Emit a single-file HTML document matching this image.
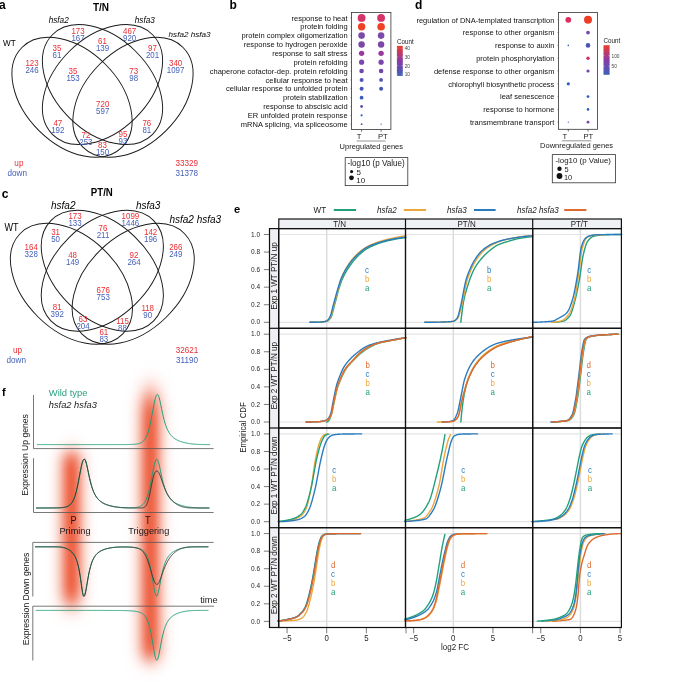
<!DOCTYPE html>
<html><head><meta charset="utf-8"><style>
html,body{margin:0;padding:0;background:#fff;}
svg{display:block;}
text{font-family:"Liberation Sans", Arial, sans-serif;}
</style></head><body>
<svg width="685" height="682" viewBox="0 0 685 682">
<rect width="685" height="682" fill="#fff"/>
<text x="-0.90" y="8.60" font-size="12" font-weight="bold">a</text>
<text font-size="11" transform="translate(101.00 11.00) scale(0.91 1.0)" text-anchor="middle" font-weight="bold">T/N</text>
<ellipse cx="72.02" cy="97.31" rx="70.64" ry="46.92" transform="rotate(44.82 72.02 97.31)" fill="none" stroke="#1a1a1a" stroke-width="0.95"/>
<ellipse cx="102.50" cy="84.51" rx="70.64" ry="46.92" transform="rotate(44.82 102.50 84.51)" fill="none" stroke="#1a1a1a" stroke-width="0.95"/>
<ellipse cx="102.50" cy="84.51" rx="70.64" ry="46.92" transform="rotate(-44.82 102.50 84.51)" fill="none" stroke="#1a1a1a" stroke-width="0.95"/>
<ellipse cx="132.98" cy="97.31" rx="70.64" ry="46.92" transform="rotate(-44.82 132.98 97.31)" fill="none" stroke="#1a1a1a" stroke-width="0.95"/>
<text font-size="9.4" transform="translate(3.00 45.70) scale(0.87 1.0)">WT</text>
<text x="48.70" y="22.80" font-size="8.2" font-style="italic">hsfa2</text>
<text x="134.80" y="22.80" font-size="8.2" font-style="italic">hsfa3</text>
<text x="168.60" y="37.00" font-size="8.1" font-style="italic">hsfa2 hsfa3</text>
<text font-size="9.0" transform="translate(78.00 33.50) scale(0.88 1.0)" text-anchor="middle" fill="#ec2d33">173</text>
<text font-size="9.0" transform="translate(78.00 40.55) scale(0.88 1.0)" text-anchor="middle" fill="#4560b8">167</text>
<text font-size="9.0" transform="translate(102.50 43.80) scale(0.88 1.0)" text-anchor="middle" fill="#ec2d33">61</text>
<text font-size="9.0" transform="translate(102.50 50.85) scale(0.88 1.0)" text-anchor="middle" fill="#4560b8">139</text>
<text font-size="9.0" transform="translate(57.00 51.20) scale(0.88 1.0)" text-anchor="middle" fill="#ec2d33">35</text>
<text font-size="9.0" transform="translate(57.00 58.25) scale(0.88 1.0)" text-anchor="middle" fill="#4560b8">61</text>
<text font-size="9.0" transform="translate(32.00 65.60) scale(0.88 1.0)" text-anchor="middle" fill="#ec2d33">123</text>
<text font-size="9.0" transform="translate(32.00 72.65) scale(0.88 1.0)" text-anchor="middle" fill="#4560b8">246</text>
<text font-size="9.0" transform="translate(73.00 74.00) scale(0.88 1.0)" text-anchor="middle" fill="#ec2d33">35</text>
<text font-size="9.0" transform="translate(73.00 81.05) scale(0.88 1.0)" text-anchor="middle" fill="#4560b8">153</text>
<text font-size="9.0" transform="translate(129.60 33.50) scale(0.88 1.0)" text-anchor="middle" fill="#ec2d33">467</text>
<text font-size="9.0" transform="translate(129.60 40.55) scale(0.88 1.0)" text-anchor="middle" fill="#4560b8">920</text>
<text font-size="9.0" transform="translate(152.50 51.20) scale(0.88 1.0)" text-anchor="middle" fill="#ec2d33">97</text>
<text font-size="9.0" transform="translate(152.50 58.25) scale(0.88 1.0)" text-anchor="middle" fill="#4560b8">201</text>
<text font-size="9.0" transform="translate(175.60 65.60) scale(0.88 1.0)" text-anchor="middle" fill="#ec2d33">340</text>
<text font-size="9.0" transform="translate(175.60 72.65) scale(0.88 1.0)" text-anchor="middle" fill="#4560b8">1097</text>
<text font-size="9.0" transform="translate(133.70 74.00) scale(0.88 1.0)" text-anchor="middle" fill="#ec2d33">73</text>
<text font-size="9.0" transform="translate(133.70 81.05) scale(0.88 1.0)" text-anchor="middle" fill="#4560b8">98</text>
<text font-size="9.0" transform="translate(102.70 106.70) scale(0.88 1.0)" text-anchor="middle" fill="#ec2d33">720</text>
<text font-size="9.0" transform="translate(102.70 113.75) scale(0.88 1.0)" text-anchor="middle" fill="#4560b8">597</text>
<text font-size="9.0" transform="translate(57.80 126.10) scale(0.88 1.0)" text-anchor="middle" fill="#ec2d33">47</text>
<text font-size="9.0" transform="translate(57.80 133.15) scale(0.88 1.0)" text-anchor="middle" fill="#4560b8">192</text>
<text font-size="9.0" transform="translate(85.90 137.60) scale(0.88 1.0)" text-anchor="middle" fill="#ec2d33">72</text>
<text font-size="9.0" transform="translate(85.90 144.65) scale(0.88 1.0)" text-anchor="middle" fill="#4560b8">253</text>
<text font-size="9.0" transform="translate(102.50 148.10) scale(0.88 1.0)" text-anchor="middle" fill="#ec2d33">83</text>
<text font-size="9.0" transform="translate(102.50 155.15) scale(0.88 1.0)" text-anchor="middle" fill="#4560b8">150</text>
<text font-size="9.0" transform="translate(146.80 126.10) scale(0.88 1.0)" text-anchor="middle" fill="#ec2d33">76</text>
<text font-size="9.0" transform="translate(146.80 133.15) scale(0.88 1.0)" text-anchor="middle" fill="#4560b8">81</text>
<text font-size="9.0" transform="translate(122.90 137.40) scale(0.88 1.0)" text-anchor="middle" fill="#ec2d33">95</text>
<text font-size="9.0" transform="translate(122.90 144.45) scale(0.88 1.0)" text-anchor="middle" fill="#4560b8">93</text>
<text font-size="8.6" transform="translate(18.90 166.30) scale(0.95 1.0)" text-anchor="middle" fill="#ec2d33">up</text>
<text font-size="8.6" transform="translate(17.30 175.60) scale(0.95 1.0)" text-anchor="middle" fill="#4560b8">down</text>
<text font-size="9.2" transform="translate(186.80 166.30) scale(0.88 1.0)" text-anchor="middle" fill="#ec2d33">33329</text>
<text font-size="9.2" transform="translate(186.80 175.70) scale(0.88 1.0)" text-anchor="middle" fill="#4560b8">31378</text>
<text x="1.80" y="197.60" font-size="12" font-weight="bold">c</text>
<text font-size="11" transform="translate(101.80 196.20) scale(0.88 1.0)" text-anchor="middle" font-weight="bold">PT/N</text>
<ellipse cx="71.43" cy="283.78" rx="71.75" ry="47.02" transform="rotate(44.23 71.43 283.78)" fill="none" stroke="#1a1a1a" stroke-width="0.95"/>
<ellipse cx="102.30" cy="270.75" rx="71.75" ry="47.02" transform="rotate(44.23 102.30 270.75)" fill="none" stroke="#1a1a1a" stroke-width="0.95"/>
<ellipse cx="102.30" cy="270.75" rx="71.75" ry="47.02" transform="rotate(-44.23 102.30 270.75)" fill="none" stroke="#1a1a1a" stroke-width="0.95"/>
<ellipse cx="133.17" cy="283.78" rx="71.75" ry="47.02" transform="rotate(-44.23 133.17 283.78)" fill="none" stroke="#1a1a1a" stroke-width="0.95"/>
<text font-size="10.2" transform="translate(4.40 230.80) scale(0.89 1.0)">WT</text>
<text x="51.00" y="208.60" font-size="10.0" font-style="italic">hsfa2</text>
<text x="135.90" y="208.60" font-size="10.0" font-style="italic">hsfa3</text>
<text x="169.40" y="222.60" font-size="10.0" font-style="italic">hsfa2 hsfa3</text>
<text font-size="9.0" transform="translate(75.00 219.40) scale(0.88 1.0)" text-anchor="middle" fill="#ec2d33">173</text>
<text font-size="9.0" transform="translate(75.00 226.45) scale(0.88 1.0)" text-anchor="middle" fill="#4560b8">133</text>
<text font-size="9.0" transform="translate(103.00 230.70) scale(0.88 1.0)" text-anchor="middle" fill="#ec2d33">76</text>
<text font-size="9.0" transform="translate(103.00 237.75) scale(0.88 1.0)" text-anchor="middle" fill="#4560b8">211</text>
<text font-size="9.0" transform="translate(55.60 234.50) scale(0.88 1.0)" text-anchor="middle" fill="#ec2d33">31</text>
<text font-size="9.0" transform="translate(55.60 241.55) scale(0.88 1.0)" text-anchor="middle" fill="#4560b8">50</text>
<text font-size="9.0" transform="translate(31.20 249.70) scale(0.88 1.0)" text-anchor="middle" fill="#ec2d33">164</text>
<text font-size="9.0" transform="translate(31.20 256.75) scale(0.88 1.0)" text-anchor="middle" fill="#4560b8">328</text>
<text font-size="9.0" transform="translate(72.60 258.20) scale(0.88 1.0)" text-anchor="middle" fill="#ec2d33">48</text>
<text font-size="9.0" transform="translate(72.60 265.25) scale(0.88 1.0)" text-anchor="middle" fill="#4560b8">149</text>
<text font-size="9.0" transform="translate(130.40 219.40) scale(0.88 1.0)" text-anchor="middle" fill="#ec2d33">1099</text>
<text font-size="9.0" transform="translate(130.40 226.45) scale(0.88 1.0)" text-anchor="middle" fill="#4560b8">1446</text>
<text font-size="9.0" transform="translate(150.60 234.50) scale(0.88 1.0)" text-anchor="middle" fill="#ec2d33">142</text>
<text font-size="9.0" transform="translate(150.60 241.55) scale(0.88 1.0)" text-anchor="middle" fill="#4560b8">196</text>
<text font-size="9.0" transform="translate(175.80 249.70) scale(0.88 1.0)" text-anchor="middle" fill="#ec2d33">266</text>
<text font-size="9.0" transform="translate(175.80 256.75) scale(0.88 1.0)" text-anchor="middle" fill="#4560b8">249</text>
<text font-size="9.0" transform="translate(134.00 258.20) scale(0.88 1.0)" text-anchor="middle" fill="#ec2d33">92</text>
<text font-size="9.0" transform="translate(134.00 265.25) scale(0.88 1.0)" text-anchor="middle" fill="#4560b8">264</text>
<text font-size="9.0" transform="translate(103.20 292.70) scale(0.88 1.0)" text-anchor="middle" fill="#ec2d33">676</text>
<text font-size="9.0" transform="translate(103.20 299.75) scale(0.88 1.0)" text-anchor="middle" fill="#4560b8">753</text>
<text font-size="9.0" transform="translate(57.20 310.20) scale(0.88 1.0)" text-anchor="middle" fill="#ec2d33">81</text>
<text font-size="9.0" transform="translate(57.20 317.25) scale(0.88 1.0)" text-anchor="middle" fill="#4560b8">392</text>
<text font-size="9.0" transform="translate(83.00 322.00) scale(0.88 1.0)" text-anchor="middle" fill="#ec2d33">63</text>
<text font-size="9.0" transform="translate(83.00 329.05) scale(0.88 1.0)" text-anchor="middle" fill="#4560b8">204</text>
<text font-size="9.0" transform="translate(103.80 334.60) scale(0.88 1.0)" text-anchor="middle" fill="#ec2d33">61</text>
<text font-size="9.0" transform="translate(103.80 341.65) scale(0.88 1.0)" text-anchor="middle" fill="#4560b8">83</text>
<text font-size="9.0" transform="translate(147.70 310.80) scale(0.88 1.0)" text-anchor="middle" fill="#ec2d33">118</text>
<text font-size="9.0" transform="translate(147.70 317.85) scale(0.88 1.0)" text-anchor="middle" fill="#4560b8">90</text>
<text font-size="9.0" transform="translate(122.50 324.20) scale(0.88 1.0)" text-anchor="middle" fill="#ec2d33">115</text>
<text font-size="9.0" transform="translate(122.50 331.25) scale(0.88 1.0)" text-anchor="middle" fill="#4560b8">88</text>
<text font-size="8.6" transform="translate(17.60 353.00) scale(0.95 1.0)" text-anchor="middle" fill="#ec2d33">up</text>
<text font-size="8.6" transform="translate(16.30 362.80) scale(0.95 1.0)" text-anchor="middle" fill="#4560b8">down</text>
<text font-size="9.2" transform="translate(187.00 352.60) scale(0.88 1.0)" text-anchor="middle" fill="#ec2d33">32621</text>
<text font-size="9.2" transform="translate(187.00 362.50) scale(0.88 1.0)" text-anchor="middle" fill="#4560b8">31190</text>
<text x="229.60" y="8.60" font-size="12" font-weight="bold">b</text>
<text font-size="7.9" transform="translate(347.60 20.60) scale(0.955 1.0)" text-anchor="end" fill="#111">response to heat</text>
<line x1="350.50" y1="17.90" x2="351.40" y2="17.90" stroke="#555" stroke-width="0.6"/>
<text font-size="7.9" transform="translate(347.60 29.46) scale(0.955 1.0)" text-anchor="end" fill="#111">protein folding</text>
<line x1="350.50" y1="26.76" x2="351.40" y2="26.76" stroke="#555" stroke-width="0.6"/>
<text font-size="7.9" transform="translate(347.60 38.32) scale(0.955 1.0)" text-anchor="end" fill="#111">protein complex oligomerization</text>
<line x1="350.50" y1="35.62" x2="351.40" y2="35.62" stroke="#555" stroke-width="0.6"/>
<text font-size="7.9" transform="translate(347.60 47.18) scale(0.955 1.0)" text-anchor="end" fill="#111">response to hydrogen peroxide</text>
<line x1="350.50" y1="44.48" x2="351.40" y2="44.48" stroke="#555" stroke-width="0.6"/>
<text font-size="7.9" transform="translate(347.60 56.04) scale(0.955 1.0)" text-anchor="end" fill="#111">response to salt stress</text>
<line x1="350.50" y1="53.34" x2="351.40" y2="53.34" stroke="#555" stroke-width="0.6"/>
<text font-size="7.9" transform="translate(347.60 64.90) scale(0.955 1.0)" text-anchor="end" fill="#111">protein refolding</text>
<line x1="350.50" y1="62.20" x2="351.40" y2="62.20" stroke="#555" stroke-width="0.6"/>
<text font-size="7.9" transform="translate(347.60 73.76) scale(0.955 1.0)" text-anchor="end" fill="#111">chaperone cofactor-dep. protein refolding</text>
<line x1="350.50" y1="71.06" x2="351.40" y2="71.06" stroke="#555" stroke-width="0.6"/>
<text font-size="7.9" transform="translate(347.60 82.62) scale(0.955 1.0)" text-anchor="end" fill="#111">cellular response to heat</text>
<line x1="350.50" y1="79.92" x2="351.40" y2="79.92" stroke="#555" stroke-width="0.6"/>
<text font-size="7.9" transform="translate(347.60 91.48) scale(0.955 1.0)" text-anchor="end" fill="#111">cellular response to unfolded protein</text>
<line x1="350.50" y1="88.78" x2="351.40" y2="88.78" stroke="#555" stroke-width="0.6"/>
<text font-size="7.9" transform="translate(347.60 100.34) scale(0.955 1.0)" text-anchor="end" fill="#111">protein stabilization</text>
<line x1="350.50" y1="97.64" x2="351.40" y2="97.64" stroke="#555" stroke-width="0.6"/>
<text font-size="7.9" transform="translate(347.60 109.20) scale(0.955 1.0)" text-anchor="end" fill="#111">response to abscisic acid</text>
<line x1="350.50" y1="106.50" x2="351.40" y2="106.50" stroke="#555" stroke-width="0.6"/>
<text font-size="7.9" transform="translate(347.60 118.06) scale(0.955 1.0)" text-anchor="end" fill="#111">ER unfolded protein response</text>
<line x1="350.50" y1="115.36" x2="351.40" y2="115.36" stroke="#555" stroke-width="0.6"/>
<text font-size="7.9" transform="translate(347.60 126.92) scale(0.955 1.0)" text-anchor="end" fill="#111">mRNA splicing, via spliceosome</text>
<line x1="350.50" y1="124.22" x2="351.40" y2="124.22" stroke="#555" stroke-width="0.6"/>
<rect x="351.4" y="12.5" width="39.5" height="117" fill="none" stroke="#333" stroke-width="0.8"/>
<circle cx="361.60" cy="17.90" r="3.90" fill="#d6336a"/>
<circle cx="381.10" cy="17.90" r="3.90" fill="#d6336a"/>
<circle cx="361.60" cy="26.76" r="3.70" fill="#ef4123"/>
<circle cx="381.10" cy="26.76" r="3.80" fill="#ef4123"/>
<circle cx="361.60" cy="35.62" r="3.30" fill="#7a4bab"/>
<circle cx="381.10" cy="35.62" r="3.30" fill="#7a4bab"/>
<circle cx="361.60" cy="44.48" r="3.20" fill="#7c48a8"/>
<circle cx="381.10" cy="44.48" r="3.20" fill="#7c48a8"/>
<circle cx="361.60" cy="53.34" r="2.70" fill="#9a3aa0"/>
<circle cx="381.10" cy="53.34" r="2.70" fill="#9a3aa0"/>
<circle cx="361.60" cy="62.20" r="2.60" fill="#7b47aa"/>
<circle cx="381.10" cy="62.20" r="2.60" fill="#7b47aa"/>
<circle cx="361.60" cy="71.06" r="2.30" fill="#6e48ae"/>
<circle cx="381.10" cy="71.06" r="2.30" fill="#6e48ae"/>
<circle cx="361.60" cy="79.92" r="2.00" fill="#4e56b6"/>
<circle cx="381.10" cy="79.92" r="1.90" fill="#4e56b6"/>
<circle cx="361.60" cy="88.78" r="2.00" fill="#4656b6"/>
<circle cx="381.10" cy="88.78" r="2.00" fill="#4656b6"/>
<circle cx="361.60" cy="97.64" r="1.90" fill="#3e5cb8"/>
<circle cx="361.60" cy="106.50" r="1.40" fill="#5a4cac"/>
<circle cx="361.60" cy="115.36" r="1.10" fill="#3060c0"/>
<circle cx="361.60" cy="124.22" r="0.90" fill="#6040b0"/>
<circle cx="381.10" cy="124.22" r="0.60" fill="#6040b0"/>
<line x1="361.60" y1="129.60" x2="361.60" y2="131.80" stroke="#333" stroke-width="0.7"/>
<line x1="381.10" y1="129.60" x2="381.10" y2="131.80" stroke="#333" stroke-width="0.7"/>
<text x="359.00" y="139.30" font-size="7.6" text-anchor="middle" fill="#1a1a1a">T</text>
<text x="382.90" y="139.30" font-size="7.6" text-anchor="middle" fill="#1a1a1a">PT</text>
<line x1="356.60" y1="141.00" x2="385.60" y2="141.00" stroke="#888" stroke-width="0.9"/>
<text x="371.30" y="148.80" font-size="7.5" text-anchor="middle" fill="#1a1a1a">Upregulated genes</text>
<defs><linearGradient id="cb1" x1="0" y1="1" x2="0" y2="0"><stop offset="0" stop-color="#3a62b8"/><stop offset="0.5" stop-color="#8a3aa8"/><stop offset="1" stop-color="#f03a28"/></linearGradient></defs>
<rect x="396.9" y="45.9" width="5.90" height="30.00" fill="url(#cb1)"/>
<line x1="396.90" y1="48.20" x2="398.10" y2="48.20" stroke="#fff" stroke-width="0.4"/>
<line x1="401.60" y1="48.20" x2="402.80" y2="48.20" stroke="#fff" stroke-width="0.4"/>
<text font-size="5.6" transform="translate(404.70 50.20) scale(0.85 1.0)" fill="#444">40</text>
<line x1="396.90" y1="57.00" x2="398.10" y2="57.00" stroke="#fff" stroke-width="0.4"/>
<line x1="401.60" y1="57.00" x2="402.80" y2="57.00" stroke="#fff" stroke-width="0.4"/>
<text font-size="5.6" transform="translate(404.70 59.00) scale(0.85 1.0)" fill="#444">30</text>
<line x1="396.90" y1="65.60" x2="398.10" y2="65.60" stroke="#fff" stroke-width="0.4"/>
<line x1="401.60" y1="65.60" x2="402.80" y2="65.60" stroke="#fff" stroke-width="0.4"/>
<text font-size="5.6" transform="translate(404.70 67.60) scale(0.85 1.0)" fill="#444">20</text>
<line x1="396.90" y1="74.10" x2="398.10" y2="74.10" stroke="#fff" stroke-width="0.4"/>
<line x1="401.60" y1="74.10" x2="402.80" y2="74.10" stroke="#fff" stroke-width="0.4"/>
<text font-size="5.6" transform="translate(404.70 76.10) scale(0.85 1.0)" fill="#444">10</text>
<text font-size="6.6" transform="translate(397.00 44.20) scale(0.95 1.0)" fill="#1a1a1a">Count</text>
<rect x="345.2" y="157.6" width="62.6" height="28" fill="none" stroke="#333" stroke-width="0.8"/>
<text font-size="8.3" transform="translate(347.60 166.00) scale(0.98 1.0)" fill="#1a1a1a">-log10 (p Value)</text>
<circle cx="351.60" cy="171.60" r="1.60" fill="#111"/>
<circle cx="351.50" cy="177.80" r="2.40" fill="#111"/>
<text x="356.60" y="174.80" font-size="8.0" fill="#1a1a1a">5</text>
<text x="356.20" y="182.60" font-size="8.0" fill="#1a1a1a">10</text>
<text x="414.90" y="8.60" font-size="12" font-weight="bold">d</text>
<text font-size="8.1" transform="translate(554.40 22.60) scale(0.93 1.0)" text-anchor="end" fill="#111">regulation of DNA-templated transcription</text>
<line x1="557.50" y1="19.80" x2="558.40" y2="19.80" stroke="#555" stroke-width="0.6"/>
<text font-size="8.1" transform="translate(554.40 35.40) scale(0.93 1.0)" text-anchor="end" fill="#111">response to other organism</text>
<line x1="557.50" y1="32.60" x2="558.40" y2="32.60" stroke="#555" stroke-width="0.6"/>
<text font-size="8.1" transform="translate(554.40 48.20) scale(0.93 1.0)" text-anchor="end" fill="#111">response to auxin</text>
<line x1="557.50" y1="45.40" x2="558.40" y2="45.40" stroke="#555" stroke-width="0.6"/>
<text font-size="8.1" transform="translate(554.40 61.00) scale(0.93 1.0)" text-anchor="end" fill="#111">protein phosphorylation</text>
<line x1="557.50" y1="58.20" x2="558.40" y2="58.20" stroke="#555" stroke-width="0.6"/>
<text font-size="8.1" transform="translate(554.40 73.80) scale(0.93 1.0)" text-anchor="end" fill="#111">defense response to other organism</text>
<line x1="557.50" y1="71.00" x2="558.40" y2="71.00" stroke="#555" stroke-width="0.6"/>
<text font-size="8.1" transform="translate(554.40 86.60) scale(0.93 1.0)" text-anchor="end" fill="#111">chlorophyll biosynthetic process</text>
<line x1="557.50" y1="83.80" x2="558.40" y2="83.80" stroke="#555" stroke-width="0.6"/>
<text font-size="8.1" transform="translate(554.40 99.40) scale(0.93 1.0)" text-anchor="end" fill="#111">leaf senescence</text>
<line x1="557.50" y1="96.60" x2="558.40" y2="96.60" stroke="#555" stroke-width="0.6"/>
<text font-size="8.1" transform="translate(554.40 112.20) scale(0.93 1.0)" text-anchor="end" fill="#111">response to hormone</text>
<line x1="557.50" y1="109.40" x2="558.40" y2="109.40" stroke="#555" stroke-width="0.6"/>
<text font-size="8.1" transform="translate(554.40 125.00) scale(0.93 1.0)" text-anchor="end" fill="#111">transmembrane transport</text>
<line x1="557.50" y1="122.20" x2="558.40" y2="122.20" stroke="#555" stroke-width="0.6"/>
<rect x="558.4" y="12.5" width="39.1" height="116.8" fill="none" stroke="#333" stroke-width="0.8"/>
<circle cx="568.30" cy="19.80" r="2.90" fill="#d93060"/>
<circle cx="588.00" cy="19.80" r="4.00" fill="#ee3d25"/>
<circle cx="588.00" cy="32.60" r="1.90" fill="#7b48ad"/>
<circle cx="568.30" cy="45.40" r="0.80" fill="#3a5cc0"/>
<circle cx="588.00" cy="45.40" r="2.30" fill="#4a55b5"/>
<circle cx="588.00" cy="58.20" r="1.70" fill="#d03060"/>
<circle cx="588.00" cy="71.00" r="1.60" fill="#7346ad"/>
<circle cx="568.30" cy="83.80" r="1.60" fill="#2f5fbf"/>
<circle cx="588.00" cy="96.60" r="1.40" fill="#2f60c0"/>
<circle cx="588.00" cy="109.40" r="1.30" fill="#2f60c0"/>
<circle cx="568.30" cy="122.20" r="0.60" fill="#7a4ab0"/>
<circle cx="588.00" cy="122.20" r="1.40" fill="#7346ad"/>
<line x1="568.30" y1="129.30" x2="568.30" y2="131.50" stroke="#333" stroke-width="0.7"/>
<line x1="588.00" y1="129.30" x2="588.00" y2="131.50" stroke="#333" stroke-width="0.7"/>
<text x="564.90" y="138.50" font-size="7.6" text-anchor="middle" fill="#1a1a1a">T</text>
<text x="588.40" y="138.50" font-size="7.6" text-anchor="middle" fill="#1a1a1a">PT</text>
<line x1="562.00" y1="140.80" x2="591.30" y2="140.80" stroke="#888" stroke-width="0.9"/>
<text x="576.60" y="148.40" font-size="7.5" text-anchor="middle" fill="#1a1a1a">Downregulated genes</text>
<defs><linearGradient id="cb2" x1="0" y1="1" x2="0" y2="0"><stop offset="0" stop-color="#3a62b8"/><stop offset="0.5" stop-color="#8a3aa8"/><stop offset="1" stop-color="#f03a28"/></linearGradient></defs>
<rect x="603.5" y="45.2" width="6.10" height="29.60" fill="url(#cb2)"/>
<line x1="603.50" y1="55.70" x2="604.70" y2="55.70" stroke="#fff" stroke-width="0.4"/>
<line x1="608.40" y1="55.70" x2="609.60" y2="55.70" stroke="#fff" stroke-width="0.4"/>
<text font-size="5.6" transform="translate(611.50 57.70) scale(0.85 1.0)" fill="#444">100</text>
<line x1="603.50" y1="66.30" x2="604.70" y2="66.30" stroke="#fff" stroke-width="0.4"/>
<line x1="608.40" y1="66.30" x2="609.60" y2="66.30" stroke="#fff" stroke-width="0.4"/>
<text font-size="5.6" transform="translate(611.50 68.30) scale(0.85 1.0)" fill="#444">50</text>
<text font-size="6.6" transform="translate(603.50 42.80) scale(0.95 1.0)" fill="#1a1a1a">Count</text>
<rect x="552.3" y="154.6" width="63.2" height="28.2" fill="none" stroke="#333" stroke-width="0.8"/>
<text x="555.40" y="163.00" font-size="7.9" fill="#1a1a1a">-log10 (p Value)</text>
<circle cx="559.50" cy="168.70" r="2.20" fill="#111"/>
<circle cx="559.50" cy="176.00" r="2.90" fill="#111"/>
<text x="564.60" y="172.20" font-size="7.4" fill="#1a1a1a">5</text>
<text x="564.00" y="179.60" font-size="7.4" fill="#1a1a1a">10</text>
<text x="234.00" y="213.30" font-size="11.2" font-weight="bold">e</text>
<text font-size="8.9" transform="translate(313.60 213.20) scale(0.91 1.0)" fill="#1a1a1a">WT</text>
<line x1="333.80" y1="210.00" x2="356.10" y2="210.00" stroke="#22a07a" stroke-width="2.0"/>
<text font-size="8.9" transform="translate(377.00 213.20) scale(0.91 1.0)" fill="#1a1a1a" font-style="italic">hsfa2</text>
<line x1="403.80" y1="210.00" x2="426.10" y2="210.00" stroke="#eda63a" stroke-width="2.0"/>
<text font-size="8.9" transform="translate(447.00 213.20) scale(0.91 1.0)" fill="#1a1a1a" font-style="italic">hsfa3</text>
<line x1="474.00" y1="210.00" x2="495.60" y2="210.00" stroke="#2a7cc0" stroke-width="2.0"/>
<text font-size="8.9" transform="translate(517.00 213.20) scale(0.91 1.0)" fill="#1a1a1a" font-style="italic">hsfa2 hsfa3</text>
<line x1="564.20" y1="210.00" x2="586.40" y2="210.00" stroke="#dd6a30" stroke-width="2.0"/>
<rect x="278.8" y="219.0" width="342.6" height="9.6" fill="#eff0f3"/>
<rect x="269.5" y="228.6" width="9.3" height="398.9" fill="#eff0f3"/>
<text font-size="9.0" transform="translate(339.60 226.70) scale(0.89 1.0)" text-anchor="middle" fill="#1a1a1a">T/N</text>
<text font-size="9.0" transform="translate(466.60 226.70) scale(0.89 1.0)" text-anchor="middle" fill="#1a1a1a">PT/N</text>
<text font-size="9.0" transform="translate(579.30 226.70) scale(0.89 1.0)" text-anchor="middle" fill="#1a1a1a">PT/T</text>
<text font-size="8.9" transform="translate(277.00 276.05) rotate(-90) scale(0.915 1.0)" text-anchor="middle" fill="#1a1a1a">Exp 1 WT PT/N up</text>
<text font-size="8.9" transform="translate(277.00 375.75) rotate(-90) scale(0.915 1.0)" text-anchor="middle" fill="#1a1a1a">Exp 2 WT PT/N up</text>
<text font-size="8.9" transform="translate(277.00 475.45) rotate(-90) scale(0.915 1.0)" text-anchor="middle" fill="#1a1a1a">Exp 1 WT PT/N down</text>
<text font-size="8.9" transform="translate(277.00 575.20) rotate(-90) scale(0.915 1.0)" text-anchor="middle" fill="#1a1a1a">Exp 2 WT PT/N down</text>
<line x1="278.60" y1="322.30" x2="405.50" y2="322.30" stroke="#e4e4e4" stroke-width="1.2"/>
<line x1="278.60" y1="234.50" x2="405.50" y2="234.50" stroke="#e4e4e4" stroke-width="1.2"/>
<line x1="326.70" y1="228.60" x2="326.70" y2="328.30" stroke="#dcdcdc" stroke-width="1.5"/>
<line x1="405.50" y1="322.30" x2="532.70" y2="322.30" stroke="#e4e4e4" stroke-width="1.2"/>
<line x1="405.50" y1="234.50" x2="532.70" y2="234.50" stroke="#e4e4e4" stroke-width="1.2"/>
<line x1="453.30" y1="228.60" x2="453.30" y2="328.30" stroke="#dcdcdc" stroke-width="1.5"/>
<line x1="532.70" y1="322.30" x2="621.40" y2="322.30" stroke="#e4e4e4" stroke-width="1.2"/>
<line x1="532.70" y1="234.50" x2="621.40" y2="234.50" stroke="#e4e4e4" stroke-width="1.2"/>
<line x1="580.40" y1="228.60" x2="580.40" y2="328.30" stroke="#dcdcdc" stroke-width="1.5"/>
<line x1="278.60" y1="422.00" x2="405.50" y2="422.00" stroke="#e4e4e4" stroke-width="1.2"/>
<line x1="278.60" y1="334.20" x2="405.50" y2="334.20" stroke="#e4e4e4" stroke-width="1.2"/>
<line x1="326.70" y1="328.30" x2="326.70" y2="428.00" stroke="#dcdcdc" stroke-width="1.5"/>
<line x1="405.50" y1="422.00" x2="532.70" y2="422.00" stroke="#e4e4e4" stroke-width="1.2"/>
<line x1="405.50" y1="334.20" x2="532.70" y2="334.20" stroke="#e4e4e4" stroke-width="1.2"/>
<line x1="453.30" y1="328.30" x2="453.30" y2="428.00" stroke="#dcdcdc" stroke-width="1.5"/>
<line x1="532.70" y1="422.00" x2="621.40" y2="422.00" stroke="#e4e4e4" stroke-width="1.2"/>
<line x1="532.70" y1="334.20" x2="621.40" y2="334.20" stroke="#e4e4e4" stroke-width="1.2"/>
<line x1="580.40" y1="328.30" x2="580.40" y2="428.00" stroke="#dcdcdc" stroke-width="1.5"/>
<line x1="278.60" y1="521.70" x2="405.50" y2="521.70" stroke="#e4e4e4" stroke-width="1.2"/>
<line x1="278.60" y1="433.90" x2="405.50" y2="433.90" stroke="#e4e4e4" stroke-width="1.2"/>
<line x1="326.70" y1="428.00" x2="326.70" y2="527.70" stroke="#dcdcdc" stroke-width="1.5"/>
<line x1="405.50" y1="521.70" x2="532.70" y2="521.70" stroke="#e4e4e4" stroke-width="1.2"/>
<line x1="405.50" y1="433.90" x2="532.70" y2="433.90" stroke="#e4e4e4" stroke-width="1.2"/>
<line x1="453.30" y1="428.00" x2="453.30" y2="527.70" stroke="#dcdcdc" stroke-width="1.5"/>
<line x1="532.70" y1="521.70" x2="621.40" y2="521.70" stroke="#e4e4e4" stroke-width="1.2"/>
<line x1="532.70" y1="433.90" x2="621.40" y2="433.90" stroke="#e4e4e4" stroke-width="1.2"/>
<line x1="580.40" y1="428.00" x2="580.40" y2="527.70" stroke="#dcdcdc" stroke-width="1.5"/>
<line x1="278.60" y1="621.40" x2="405.50" y2="621.40" stroke="#e4e4e4" stroke-width="1.2"/>
<line x1="278.60" y1="533.60" x2="405.50" y2="533.60" stroke="#e4e4e4" stroke-width="1.2"/>
<line x1="326.70" y1="527.70" x2="326.70" y2="627.50" stroke="#dcdcdc" stroke-width="1.5"/>
<line x1="405.50" y1="621.40" x2="532.70" y2="621.40" stroke="#e4e4e4" stroke-width="1.2"/>
<line x1="405.50" y1="533.60" x2="532.70" y2="533.60" stroke="#e4e4e4" stroke-width="1.2"/>
<line x1="453.30" y1="527.70" x2="453.30" y2="627.50" stroke="#dcdcdc" stroke-width="1.5"/>
<line x1="532.70" y1="621.40" x2="621.40" y2="621.40" stroke="#e4e4e4" stroke-width="1.2"/>
<line x1="532.70" y1="533.60" x2="621.40" y2="533.60" stroke="#e4e4e4" stroke-width="1.2"/>
<line x1="580.40" y1="527.70" x2="580.40" y2="627.50" stroke="#dcdcdc" stroke-width="1.5"/>
<line x1="263.90" y1="322.30" x2="269.50" y2="322.30" stroke="#444" stroke-width="0.7"/>
<text font-size="7.6" transform="translate(260.20 324.40) scale(0.86 1.0)" text-anchor="end" fill="#262626">0.0</text>
<line x1="263.90" y1="304.74" x2="269.50" y2="304.74" stroke="#444" stroke-width="0.7"/>
<text font-size="7.6" transform="translate(260.20 306.84) scale(0.86 1.0)" text-anchor="end" fill="#262626">0.2</text>
<line x1="263.90" y1="287.18" x2="269.50" y2="287.18" stroke="#444" stroke-width="0.7"/>
<text font-size="7.6" transform="translate(260.20 289.28) scale(0.86 1.0)" text-anchor="end" fill="#262626">0.4</text>
<line x1="263.90" y1="269.62" x2="269.50" y2="269.62" stroke="#444" stroke-width="0.7"/>
<text font-size="7.6" transform="translate(260.20 271.72) scale(0.86 1.0)" text-anchor="end" fill="#262626">0.6</text>
<line x1="263.90" y1="252.06" x2="269.50" y2="252.06" stroke="#444" stroke-width="0.7"/>
<text font-size="7.6" transform="translate(260.20 254.16) scale(0.86 1.0)" text-anchor="end" fill="#262626">0.8</text>
<line x1="263.90" y1="234.50" x2="269.50" y2="234.50" stroke="#444" stroke-width="0.7"/>
<text font-size="7.6" transform="translate(260.20 236.60) scale(0.86 1.0)" text-anchor="end" fill="#262626">1.0</text>
<line x1="263.90" y1="422.00" x2="269.50" y2="422.00" stroke="#444" stroke-width="0.7"/>
<text font-size="7.6" transform="translate(260.20 424.10) scale(0.86 1.0)" text-anchor="end" fill="#262626">0.0</text>
<line x1="263.90" y1="404.44" x2="269.50" y2="404.44" stroke="#444" stroke-width="0.7"/>
<text font-size="7.6" transform="translate(260.20 406.54) scale(0.86 1.0)" text-anchor="end" fill="#262626">0.2</text>
<line x1="263.90" y1="386.88" x2="269.50" y2="386.88" stroke="#444" stroke-width="0.7"/>
<text font-size="7.6" transform="translate(260.20 388.98) scale(0.86 1.0)" text-anchor="end" fill="#262626">0.4</text>
<line x1="263.90" y1="369.32" x2="269.50" y2="369.32" stroke="#444" stroke-width="0.7"/>
<text font-size="7.6" transform="translate(260.20 371.42) scale(0.86 1.0)" text-anchor="end" fill="#262626">0.6</text>
<line x1="263.90" y1="351.76" x2="269.50" y2="351.76" stroke="#444" stroke-width="0.7"/>
<text font-size="7.6" transform="translate(260.20 353.86) scale(0.86 1.0)" text-anchor="end" fill="#262626">0.8</text>
<line x1="263.90" y1="334.20" x2="269.50" y2="334.20" stroke="#444" stroke-width="0.7"/>
<text font-size="7.6" transform="translate(260.20 336.30) scale(0.86 1.0)" text-anchor="end" fill="#262626">1.0</text>
<line x1="263.90" y1="521.70" x2="269.50" y2="521.70" stroke="#444" stroke-width="0.7"/>
<text font-size="7.6" transform="translate(260.20 523.80) scale(0.86 1.0)" text-anchor="end" fill="#262626">0.0</text>
<line x1="263.90" y1="504.14" x2="269.50" y2="504.14" stroke="#444" stroke-width="0.7"/>
<text font-size="7.6" transform="translate(260.20 506.24) scale(0.86 1.0)" text-anchor="end" fill="#262626">0.2</text>
<line x1="263.90" y1="486.58" x2="269.50" y2="486.58" stroke="#444" stroke-width="0.7"/>
<text font-size="7.6" transform="translate(260.20 488.68) scale(0.86 1.0)" text-anchor="end" fill="#262626">0.4</text>
<line x1="263.90" y1="469.02" x2="269.50" y2="469.02" stroke="#444" stroke-width="0.7"/>
<text font-size="7.6" transform="translate(260.20 471.12) scale(0.86 1.0)" text-anchor="end" fill="#262626">0.6</text>
<line x1="263.90" y1="451.46" x2="269.50" y2="451.46" stroke="#444" stroke-width="0.7"/>
<text font-size="7.6" transform="translate(260.20 453.56) scale(0.86 1.0)" text-anchor="end" fill="#262626">0.8</text>
<line x1="263.90" y1="433.90" x2="269.50" y2="433.90" stroke="#444" stroke-width="0.7"/>
<text font-size="7.6" transform="translate(260.20 436.00) scale(0.86 1.0)" text-anchor="end" fill="#262626">1.0</text>
<line x1="263.90" y1="621.40" x2="269.50" y2="621.40" stroke="#444" stroke-width="0.7"/>
<text font-size="7.6" transform="translate(260.20 623.50) scale(0.86 1.0)" text-anchor="end" fill="#262626">0.0</text>
<line x1="263.90" y1="603.84" x2="269.50" y2="603.84" stroke="#444" stroke-width="0.7"/>
<text font-size="7.6" transform="translate(260.20 605.94) scale(0.86 1.0)" text-anchor="end" fill="#262626">0.2</text>
<line x1="263.90" y1="586.28" x2="269.50" y2="586.28" stroke="#444" stroke-width="0.7"/>
<text font-size="7.6" transform="translate(260.20 588.38) scale(0.86 1.0)" text-anchor="end" fill="#262626">0.4</text>
<line x1="263.90" y1="568.72" x2="269.50" y2="568.72" stroke="#444" stroke-width="0.7"/>
<text font-size="7.6" transform="translate(260.20 570.82) scale(0.86 1.0)" text-anchor="end" fill="#262626">0.6</text>
<line x1="263.90" y1="551.16" x2="269.50" y2="551.16" stroke="#444" stroke-width="0.7"/>
<text font-size="7.6" transform="translate(260.20 553.26) scale(0.86 1.0)" text-anchor="end" fill="#262626">0.8</text>
<line x1="263.90" y1="533.60" x2="269.50" y2="533.60" stroke="#444" stroke-width="0.7"/>
<text font-size="7.6" transform="translate(260.20 535.70) scale(0.86 1.0)" text-anchor="end" fill="#262626">1.0</text>
<text font-size="8.8" transform="translate(246.10 427.50) rotate(-90) scale(0.89 1.0)" text-anchor="middle" fill="#1a1a1a">Empirical CDF</text>
<line x1="287.05" y1="627.50" x2="287.05" y2="633.30" stroke="#444" stroke-width="0.7"/>
<text font-size="8.9" transform="translate(287.05 641.30) scale(0.88 1.0)" text-anchor="middle" fill="#262626">−5</text>
<line x1="326.70" y1="627.50" x2="326.70" y2="633.30" stroke="#444" stroke-width="0.7"/>
<text font-size="8.9" transform="translate(326.70 641.30) scale(0.88 1.0)" text-anchor="middle" fill="#262626">0</text>
<line x1="366.35" y1="627.50" x2="366.35" y2="633.30" stroke="#444" stroke-width="0.7"/>
<text font-size="8.9" transform="translate(366.35 641.30) scale(0.88 1.0)" text-anchor="middle" fill="#262626">5</text>
<line x1="406.00" y1="627.50" x2="406.00" y2="633.30" stroke="#444" stroke-width="0.7"/>
<line x1="413.65" y1="627.50" x2="413.65" y2="633.30" stroke="#444" stroke-width="0.7"/>
<text font-size="8.9" transform="translate(413.65 641.30) scale(0.88 1.0)" text-anchor="middle" fill="#262626">−5</text>
<line x1="453.30" y1="627.50" x2="453.30" y2="633.30" stroke="#444" stroke-width="0.7"/>
<text font-size="8.9" transform="translate(453.30 641.30) scale(0.88 1.0)" text-anchor="middle" fill="#262626">0</text>
<line x1="492.95" y1="627.50" x2="492.95" y2="633.30" stroke="#444" stroke-width="0.7"/>
<text font-size="8.9" transform="translate(492.95 641.30) scale(0.88 1.0)" text-anchor="middle" fill="#262626">5</text>
<line x1="532.60" y1="627.50" x2="532.60" y2="633.30" stroke="#444" stroke-width="0.7"/>
<line x1="540.75" y1="627.50" x2="540.75" y2="633.30" stroke="#444" stroke-width="0.7"/>
<text font-size="8.9" transform="translate(540.75 641.30) scale(0.88 1.0)" text-anchor="middle" fill="#262626">−5</text>
<line x1="580.40" y1="627.50" x2="580.40" y2="633.30" stroke="#444" stroke-width="0.7"/>
<text font-size="8.9" transform="translate(580.40 641.30) scale(0.88 1.0)" text-anchor="middle" fill="#262626">0</text>
<line x1="620.05" y1="627.50" x2="620.05" y2="633.30" stroke="#444" stroke-width="0.7"/>
<text font-size="8.9" transform="translate(620.05 641.30) scale(0.88 1.0)" text-anchor="middle" fill="#262626">5</text>
<text font-size="8.9" transform="translate(455.00 650.20) scale(0.9 1.0)" text-anchor="middle" fill="#1a1a1a">log2 FC</text>
<path d="M310.05,322.30 L310.65,322.30 L311.25,322.30 L311.85,322.29 L312.45,322.28 L313.06,322.28 L313.66,322.26 L314.26,322.25 L314.86,322.24 L315.46,322.22 L316.07,322.21 L316.67,322.19 L317.27,322.17 L317.87,322.15 L318.47,322.13 L319.08,322.11 L319.68,322.09 L320.28,322.06 L320.88,322.02 L321.48,321.98 L322.09,321.93 L322.69,321.87 L323.29,321.80 L323.89,321.73 L324.49,321.64 L325.10,321.55 L325.70,321.44 L326.30,321.33 L326.90,321.20 L327.50,320.96 L328.11,320.59 L328.71,320.11 L329.31,319.54 L329.91,318.86 L330.51,318.11 L331.12,317.12 L331.72,315.58 L332.32,313.61 L332.92,311.36 L333.52,308.97 L334.13,306.60 L334.73,304.39 L335.33,302.17 L335.93,299.84 L336.53,297.47 L337.14,295.12 L337.74,292.83 L338.34,290.67 L338.94,288.67 L339.54,286.72 L340.15,284.82 L340.75,283.01 L341.35,281.32 L341.95,279.78 L342.55,278.39 L343.16,277.09 L343.76,275.86 L344.36,274.69 L344.96,273.59 L345.56,272.53 L346.17,271.51 L346.77,270.51 L347.37,269.54 L347.97,268.59 L348.57,267.66 L349.18,266.77 L349.78,265.90 L350.38,265.05 L350.98,264.23 L351.58,263.42 L352.19,262.64 L352.79,261.88 L353.39,261.13 L353.99,260.39 L354.59,259.66 L355.20,258.94 L355.80,258.24 L356.40,257.56 L357.00,256.90 L357.60,256.26 L358.21,255.65 L358.81,255.07 L359.41,254.52 L360.01,253.98 L360.61,253.45 L361.22,252.93 L361.82,252.42 L362.42,251.93 L363.02,251.45 L363.62,250.98 L364.23,250.53 L364.83,250.09 L365.43,249.67 L366.03,249.27 L366.63,248.88 L367.24,248.51 L367.84,248.16 L368.44,247.83 L369.04,247.51 L369.64,247.19 L370.25,246.89 L370.85,246.59 L371.45,246.31 L372.05,246.03 L372.65,245.75 L373.26,245.49 L373.86,245.23 L374.46,244.98 L375.06,244.74 L375.66,244.50 L376.26,244.27 L376.87,244.05 L377.47,243.83 L378.07,243.61 L378.67,243.40 L379.27,243.20 L379.88,243.00 L380.48,242.80 L381.08,242.61 L381.68,242.42 L382.28,242.24 L382.89,242.06 L383.49,241.88 L384.09,241.71 L384.69,241.54 L385.29,241.38 L385.90,241.22 L386.50,241.06 L387.10,240.91 L387.70,240.76 L388.30,240.62 L388.91,240.48 L389.51,240.34 L390.11,240.21 L390.71,240.09 L391.31,239.96 L391.92,239.83 L392.52,239.71 L393.12,239.59 L393.72,239.47 L394.32,239.35 L394.93,239.23 L395.53,239.12 L396.13,239.01 L396.73,238.90 L397.33,238.79 L397.94,238.68 L398.54,238.58 L399.14,238.48 L399.74,238.38 L400.34,238.29 L400.95,238.19 L401.55,238.10 L402.15,238.02 L402.75,237.94 L403.35,237.86 L403.96,237.78 L404.56,237.71 L405.16,237.64 L405.76,237.57" fill="none" stroke="#22a07a" stroke-width="1.4" stroke-linejoin="round" stroke-linecap="round"/>
<path d="M310.05,322.30 L310.65,322.30 L311.25,322.30 L311.85,322.29 L312.45,322.28 L313.06,322.28 L313.66,322.26 L314.26,322.25 L314.86,322.24 L315.46,322.22 L316.07,322.21 L316.67,322.19 L317.27,322.17 L317.87,322.15 L318.47,322.13 L319.08,322.11 L319.68,322.09 L320.28,322.06 L320.88,322.02 L321.48,321.98 L322.09,321.93 L322.69,321.88 L323.29,321.81 L323.89,321.74 L324.49,321.65 L325.10,321.56 L325.70,321.45 L326.30,321.33 L326.90,321.19 L327.50,320.87 L328.11,320.37 L328.71,319.71 L329.31,318.92 L329.91,318.03 L330.51,317.03 L331.12,315.54 L331.72,313.62 L332.32,311.38 L332.92,308.99 L333.52,306.56 L334.13,304.25 L334.73,302.05 L335.33,299.78 L335.93,297.46 L336.53,295.14 L337.14,292.83 L337.74,290.59 L338.34,288.44 L338.94,286.29 L339.54,284.15 L340.15,282.09 L340.75,280.17 L341.35,278.45 L341.95,276.90 L342.55,275.43 L343.16,274.03 L343.76,272.71 L344.36,271.45 L344.96,270.26 L345.56,269.12 L346.17,268.04 L346.77,267.02 L347.37,266.03 L347.97,265.09 L348.57,264.19 L349.18,263.33 L349.78,262.49 L350.38,261.69 L350.98,260.91 L351.58,260.16 L352.19,259.43 L352.79,258.71 L353.39,258.01 L353.99,257.33 L354.59,256.67 L355.20,256.03 L355.80,255.41 L356.40,254.80 L357.00,254.22 L357.60,253.66 L358.21,253.12 L358.81,252.61 L359.41,252.10 L360.01,251.59 L360.61,251.10 L361.22,250.62 L361.82,250.15 L362.42,249.69 L363.02,249.25 L363.62,248.82 L364.23,248.40 L364.83,248.00 L365.43,247.61 L366.03,247.25 L366.63,246.90 L367.24,246.57 L367.84,246.25 L368.44,245.94 L369.04,245.64 L369.64,245.35 L370.25,245.07 L370.85,244.80 L371.45,244.53 L372.05,244.28 L372.65,244.02 L373.26,243.78 L373.86,243.54 L374.46,243.31 L375.06,243.08 L375.66,242.86 L376.26,242.64 L376.87,242.43 L377.47,242.22 L378.07,242.02 L378.67,241.82 L379.27,241.63 L379.88,241.43 L380.48,241.25 L381.08,241.06 L381.68,240.88 L382.28,240.70 L382.89,240.53 L383.49,240.36 L384.09,240.20 L384.69,240.03 L385.29,239.88 L385.90,239.72 L386.50,239.57 L387.10,239.42 L387.70,239.27 L388.30,239.13 L388.91,238.99 L389.51,238.85 L390.11,238.72 L390.71,238.58 L391.31,238.45 L391.92,238.32 L392.52,238.19 L393.12,238.06 L393.72,237.93 L394.32,237.81 L394.93,237.68 L395.53,237.56 L396.13,237.44 L396.73,237.32 L397.33,237.21 L397.94,237.09 L398.54,236.98 L399.14,236.87 L399.74,236.76 L400.34,236.65 L400.95,236.55 L401.55,236.45 L402.15,236.35 L402.75,236.26 L403.35,236.16 L403.96,236.07 L404.56,235.98 L405.16,235.90 L405.76,235.82" fill="none" stroke="#eda63a" stroke-width="1.4" stroke-linejoin="round" stroke-linecap="round"/>
<path d="M310.05,322.30 L310.65,322.30 L311.25,322.30 L311.85,322.29 L312.45,322.28 L313.06,322.28 L313.66,322.27 L314.26,322.25 L314.86,322.24 L315.46,322.23 L316.07,322.21 L316.67,322.19 L317.27,322.17 L317.87,322.16 L318.47,322.13 L319.08,322.11 L319.68,322.08 L320.28,322.05 L320.88,322.00 L321.48,321.95 L322.09,321.89 L322.69,321.81 L323.29,321.73 L323.89,321.63 L324.49,321.52 L325.10,321.39 L325.70,321.25 L326.30,321.10 L326.90,320.91 L327.50,320.49 L328.11,319.84 L328.71,319.00 L329.31,318.02 L329.91,316.96 L330.51,315.54 L331.12,313.64 L331.72,311.40 L332.32,308.98 L332.92,306.51 L333.52,304.13 L334.13,301.95 L334.73,299.78 L335.33,297.59 L335.93,295.41 L336.53,293.26 L337.14,291.16 L337.74,289.14 L338.34,287.18 L338.94,285.21 L339.54,283.30 L340.15,281.47 L340.75,279.78 L341.35,278.26 L341.95,276.87 L342.55,275.56 L343.16,274.32 L343.76,273.14 L344.36,272.02 L344.96,270.94 L345.56,269.90 L346.17,268.89 L346.77,267.91 L347.37,266.95 L347.97,266.03 L348.57,265.13 L349.18,264.26 L349.78,263.42 L350.38,262.60 L350.98,261.81 L351.58,261.05 L352.19,260.31 L352.79,259.59 L353.39,258.89 L353.99,258.22 L354.59,257.56 L355.20,256.92 L355.80,256.30 L356.40,255.70 L357.00,255.12 L357.60,254.55 L358.21,254.01 L358.81,253.48 L359.41,252.95 L360.01,252.43 L360.61,251.91 L361.22,251.40 L361.82,250.91 L362.42,250.42 L363.02,249.95 L363.62,249.49 L364.23,249.06 L364.83,248.64 L365.43,248.24 L366.03,247.86 L366.63,247.51 L367.24,247.18 L367.84,246.87 L368.44,246.58 L369.04,246.29 L369.64,246.02 L370.25,245.75 L370.85,245.49 L371.45,245.25 L372.05,245.01 L372.65,244.77 L373.26,244.55 L373.86,244.33 L374.46,244.11 L375.06,243.90 L375.66,243.70 L376.26,243.49 L376.87,243.29 L377.47,243.09 L378.07,242.90 L378.67,242.70 L379.27,242.51 L379.88,242.32 L380.48,242.13 L381.08,241.94 L381.68,241.76 L382.28,241.58 L382.89,241.40 L383.49,241.23 L384.09,241.06 L384.69,240.89 L385.29,240.73 L385.90,240.57 L386.50,240.42 L387.10,240.27 L387.70,240.13 L388.30,239.99 L388.91,239.86 L389.51,239.73 L390.11,239.61 L390.71,239.49 L391.31,239.37 L391.92,239.25 L392.52,239.13 L393.12,239.01 L393.72,238.90 L394.32,238.78 L394.93,238.67 L395.53,238.56 L396.13,238.46 L396.73,238.35 L397.33,238.25 L397.94,238.15 L398.54,238.05 L399.14,237.96 L399.74,237.87 L400.34,237.78 L400.95,237.69 L401.55,237.61 L402.15,237.53 L402.75,237.46 L403.35,237.38 L403.96,237.32 L404.56,237.25 L405.16,237.19 L405.76,237.13" fill="none" stroke="#2a7cc0" stroke-width="1.4" stroke-linejoin="round" stroke-linecap="round"/>
<path d="M460.83,322.30 L461.28,318.16 L461.74,314.40 L462.19,310.82 L462.64,307.40 L463.09,304.28 L463.54,301.59 L463.99,299.31 L464.44,297.27 L464.90,295.40 L465.35,293.68 L465.80,292.07 L466.25,290.53 L466.70,289.03 L467.15,287.55 L467.60,286.10 L468.06,284.68 L468.51,283.28 L468.96,281.92 L469.41,280.60 L469.86,279.31 L470.31,278.06 L470.76,276.85 L471.21,275.67 L471.67,274.55 L472.12,273.46 L472.57,272.43 L473.02,271.44 L473.47,270.50 L473.92,269.61 L474.37,268.77 L474.83,267.95 L475.28,267.17 L475.73,266.42 L476.18,265.69 L476.63,264.98 L477.08,264.30 L477.53,263.65 L477.99,263.01 L478.44,262.39 L478.89,261.79 L479.34,261.20 L479.79,260.63 L480.24,260.07 L480.69,259.52 L481.14,258.98 L481.60,258.45 L482.05,257.93 L482.50,257.42 L482.95,256.92 L483.40,256.43 L483.85,255.96 L484.30,255.49 L484.76,255.03 L485.21,254.59 L485.66,254.15 L486.11,253.72 L486.56,253.30 L487.01,252.89 L487.46,252.48 L487.92,252.09 L488.37,251.70 L488.82,251.32 L489.27,250.95 L489.72,250.57 L490.17,250.20 L490.62,249.84 L491.07,249.47 L491.53,249.11 L491.98,248.76 L492.43,248.41 L492.88,248.07 L493.33,247.74 L493.78,247.41 L494.23,247.09 L494.69,246.78 L495.14,246.49 L495.59,246.20 L496.04,245.93 L496.49,245.67 L496.94,245.42 L497.39,245.19 L497.85,244.97 L498.30,244.76 L498.75,244.56 L499.20,244.37 L499.65,244.18 L500.10,244.00 L500.55,243.83 L501.00,243.66 L501.46,243.49 L501.91,243.33 L502.36,243.17 L502.81,243.02 L503.26,242.87 L503.71,242.73 L504.16,242.58 L504.62,242.44 L505.07,242.30 L505.52,242.16 L505.97,242.03 L506.42,241.89 L506.87,241.75 L507.32,241.61 L507.78,241.48 L508.23,241.34 L508.68,241.20 L509.13,241.06 L509.58,240.92 L510.03,240.79 L510.48,240.65 L510.93,240.51 L511.39,240.38 L511.84,240.24 L512.29,240.11 L512.74,239.98 L513.19,239.85 L513.64,239.73 L514.09,239.60 L514.55,239.48 L515.00,239.36 L515.45,239.25 L515.90,239.14 L516.35,239.03 L516.80,238.92 L517.25,238.82 L517.71,238.72 L518.16,238.63 L518.61,238.54 L519.06,238.46 L519.51,238.38 L519.96,238.30 L520.41,238.22 L520.86,238.15 L521.32,238.07 L521.77,238.00 L522.22,237.92 L522.67,237.85 L523.12,237.78 L523.57,237.71 L524.02,237.64 L524.48,237.57 L524.93,237.50 L525.38,237.44 L525.83,237.37 L526.28,237.31 L526.73,237.25 L527.18,237.20 L527.64,237.14 L528.09,237.09 L528.54,237.04 L528.99,236.99 L529.44,236.94 L529.89,236.90 L530.34,236.86 L530.79,236.82 L531.25,236.78 L531.70,236.75 L532.15,236.72 L532.60,236.69" fill="none" stroke="#22a07a" stroke-width="1.4" stroke-linejoin="round" stroke-linecap="round"/>
<path d="M424.75,322.30 L425.43,322.30 L426.11,322.30 L426.79,322.30 L427.47,322.29 L428.14,322.29 L428.82,322.28 L429.50,322.28 L430.18,322.27 L430.86,322.27 L431.53,322.26 L432.21,322.25 L432.89,322.24 L433.57,322.23 L434.25,322.22 L434.93,322.21 L435.60,322.20 L436.28,322.18 L436.96,322.17 L437.64,322.16 L438.32,322.14 L439.00,322.13 L439.67,322.11 L440.35,322.09 L441.03,322.07 L441.71,322.06 L442.39,322.04 L443.07,322.02 L443.74,322.00 L444.42,321.98 L445.10,321.96 L445.78,321.94 L446.46,321.91 L447.14,321.88 L447.81,321.84 L448.49,321.80 L449.17,321.75 L449.85,321.69 L450.53,321.62 L451.21,321.55 L451.88,321.46 L452.56,321.36 L453.24,321.26 L453.92,321.10 L454.60,320.82 L455.28,320.45 L455.95,319.97 L456.63,319.40 L457.31,318.73 L457.99,317.89 L458.67,316.38 L459.34,314.31 L460.02,311.89 L460.70,309.33 L461.38,306.83 L462.06,304.07 L462.74,300.97 L463.41,297.64 L464.09,294.19 L464.77,290.73 L465.45,287.37 L466.13,284.25 L466.81,281.45 L467.48,279.11 L468.16,277.14 L468.84,275.27 L469.52,273.49 L470.20,271.79 L470.88,270.19 L471.55,268.66 L472.23,267.20 L472.91,265.82 L473.59,264.51 L474.27,263.26 L474.95,262.07 L475.62,260.93 L476.30,259.85 L476.98,258.81 L477.66,257.81 L478.34,256.86 L479.02,255.94 L479.69,255.07 L480.37,254.24 L481.05,253.44 L481.73,252.70 L482.41,251.99 L483.08,251.32 L483.76,250.70 L484.44,250.12 L485.12,249.57 L485.80,249.03 L486.48,248.51 L487.15,248.01 L487.83,247.53 L488.51,247.06 L489.19,246.61 L489.87,246.17 L490.55,245.76 L491.22,245.36 L491.90,244.97 L492.58,244.60 L493.26,244.25 L493.94,243.92 L494.62,243.60 L495.29,243.30 L495.97,243.00 L496.65,242.72 L497.33,242.44 L498.01,242.16 L498.69,241.90 L499.36,241.64 L500.04,241.39 L500.72,241.14 L501.40,240.90 L502.08,240.68 L502.76,240.45 L503.43,240.24 L504.11,240.04 L504.79,239.84 L505.47,239.66 L506.15,239.48 L506.83,239.32 L507.50,239.16 L508.18,239.02 L508.86,238.88 L509.54,238.75 L510.22,238.62 L510.89,238.49 L511.57,238.36 L512.25,238.23 L512.93,238.11 L513.61,237.98 L514.29,237.85 L514.96,237.73 L515.64,237.61 L516.32,237.49 L517.00,237.38 L517.68,237.26 L518.36,237.15 L519.03,237.04 L519.71,236.94 L520.39,236.84 L521.07,236.74 L521.75,236.65 L522.43,236.56 L523.10,236.47 L523.78,236.39 L524.46,236.31 L525.14,236.24 L525.82,236.17 L526.50,236.11 L527.17,236.05 L527.85,236.00 L528.53,235.96 L529.21,235.92 L529.89,235.88 L530.57,235.86 L531.24,235.84 L531.92,235.82 L532.60,235.82" fill="none" stroke="#eda63a" stroke-width="1.4" stroke-linejoin="round" stroke-linecap="round"/>
<path d="M424.75,322.30 L425.43,322.30 L426.11,322.30 L426.79,322.30 L427.47,322.29 L428.14,322.29 L428.82,322.28 L429.50,322.28 L430.18,322.27 L430.86,322.27 L431.53,322.26 L432.21,322.25 L432.89,322.24 L433.57,322.23 L434.25,322.22 L434.93,322.21 L435.60,322.20 L436.28,322.18 L436.96,322.17 L437.64,322.16 L438.32,322.14 L439.00,322.13 L439.67,322.11 L440.35,322.09 L441.03,322.07 L441.71,322.06 L442.39,322.04 L443.07,322.02 L443.74,322.00 L444.42,321.98 L445.10,321.96 L445.78,321.94 L446.46,321.91 L447.14,321.88 L447.81,321.84 L448.49,321.80 L449.17,321.75 L449.85,321.70 L450.53,321.63 L451.21,321.55 L451.88,321.47 L452.56,321.37 L453.24,321.26 L453.92,321.06 L454.60,320.70 L455.28,320.18 L455.95,319.53 L456.63,318.74 L457.31,317.85 L457.99,316.36 L458.67,314.13 L459.34,311.45 L460.02,308.61 L460.70,305.86 L461.38,302.80 L462.06,299.43 L462.74,295.86 L463.41,292.23 L464.09,288.67 L464.77,285.30 L465.45,282.26 L466.13,279.67 L466.81,277.56 L467.48,275.59 L468.16,273.72 L468.84,271.95 L469.52,270.26 L470.20,268.66 L470.88,267.15 L471.55,265.71 L472.23,264.35 L472.91,263.05 L473.59,261.83 L474.27,260.66 L474.95,259.56 L475.62,258.50 L476.30,257.50 L476.98,256.53 L477.66,255.61 L478.34,254.72 L479.02,253.88 L479.69,253.08 L480.37,252.32 L481.05,251.60 L481.73,250.93 L482.41,250.30 L483.08,249.71 L483.76,249.16 L484.44,248.64 L485.12,248.13 L485.80,247.64 L486.48,247.16 L487.15,246.71 L487.83,246.27 L488.51,245.84 L489.19,245.44 L489.87,245.05 L490.55,244.67 L491.22,244.32 L491.90,243.98 L492.58,243.66 L493.26,243.36 L493.94,243.08 L494.62,242.81 L495.29,242.56 L495.97,242.31 L496.65,242.07 L497.33,241.83 L498.01,241.61 L498.69,241.39 L499.36,241.18 L500.04,240.97 L500.72,240.77 L501.40,240.58 L502.08,240.40 L502.76,240.22 L503.43,240.05 L504.11,239.88 L504.79,239.72 L505.47,239.56 L506.15,239.42 L506.83,239.27 L507.50,239.14 L508.18,239.01 L508.86,238.88 L509.54,238.76 L510.22,238.64 L510.89,238.51 L511.57,238.39 L512.25,238.27 L512.93,238.16 L513.61,238.04 L514.29,237.92 L514.96,237.81 L515.64,237.70 L516.32,237.59 L517.00,237.48 L517.68,237.37 L518.36,237.27 L519.03,237.16 L519.71,237.06 L520.39,236.97 L521.07,236.87 L521.75,236.78 L522.43,236.69 L523.10,236.61 L523.78,236.53 L524.46,236.45 L525.14,236.37 L525.82,236.30 L526.50,236.23 L527.17,236.17 L527.85,236.11 L528.53,236.05 L529.21,236.00 L529.89,235.96 L530.57,235.91 L531.24,235.88 L531.92,235.84 L532.60,235.82" fill="none" stroke="#2a7cc0" stroke-width="1.4" stroke-linejoin="round" stroke-linecap="round"/>
<path d="M551.38,322.30 L551.82,322.30 L552.26,322.29 L552.70,322.29 L553.14,322.27 L553.59,322.26 L554.03,322.24 L554.47,322.22 L554.91,322.20 L555.35,322.17 L555.80,322.14 L556.24,322.11 L556.68,322.07 L557.12,322.03 L557.56,321.99 L558.00,321.94 L558.45,321.90 L558.89,321.84 L559.33,321.79 L559.77,321.73 L560.21,321.67 L560.66,321.61 L561.10,321.55 L561.54,321.48 L561.98,321.41 L562.42,321.34 L562.87,321.26 L563.31,321.17 L563.75,321.04 L564.19,320.87 L564.63,320.66 L565.07,320.41 L565.52,320.13 L565.96,319.81 L566.40,319.46 L566.84,319.08 L567.28,318.67 L567.73,318.22 L568.17,317.75 L568.61,317.26 L569.05,316.74 L569.49,316.19 L569.94,315.62 L570.38,314.94 L570.82,314.08 L571.26,313.05 L571.70,311.87 L572.14,310.57 L572.59,309.15 L573.03,307.65 L573.47,306.07 L573.91,304.45 L574.35,302.79 L574.80,301.13 L575.24,299.46 L575.68,297.73 L576.12,295.89 L576.56,293.95 L577.01,291.91 L577.45,289.79 L577.89,287.58 L578.33,285.31 L578.77,282.96 L579.21,280.57 L579.66,278.12 L580.10,275.40 L580.54,272.37 L580.98,269.16 L581.42,265.91 L581.87,262.75 L582.31,259.81 L582.75,257.24 L583.19,255.16 L583.63,253.29 L584.08,251.48 L584.52,249.76 L584.96,248.14 L585.40,246.64 L585.84,245.27 L586.29,244.04 L586.73,242.98 L587.17,242.11 L587.61,241.42 L588.05,240.83 L588.49,240.27 L588.94,239.74 L589.38,239.24 L589.82,238.77 L590.26,238.34 L590.70,237.95 L591.15,237.59 L591.59,237.26 L592.03,236.98 L592.47,236.73 L592.91,236.53 L593.36,236.36 L593.80,236.24 L594.24,236.13 L594.68,236.03 L595.12,235.93 L595.56,235.84 L596.01,235.75 L596.45,235.67 L596.89,235.59 L597.33,235.52 L597.77,235.45 L598.22,235.38 L598.66,235.32 L599.10,235.26 L599.54,235.21 L599.98,235.16 L600.43,235.11 L600.87,235.07 L601.31,235.03 L601.75,234.99 L602.19,234.96 L602.63,234.93 L603.08,234.90 L603.52,234.88 L603.96,234.86 L604.40,234.84 L604.84,234.83 L605.29,234.81 L605.73,234.80 L606.17,234.78 L606.61,234.77 L607.05,234.75 L607.50,234.74 L607.94,234.72 L608.38,234.71 L608.82,234.70 L609.26,234.68 L609.71,234.67 L610.15,234.66 L610.59,234.65 L611.03,234.64 L611.47,234.63 L611.91,234.62 L612.36,234.61 L612.80,234.60 L613.24,234.59 L613.68,234.58 L614.12,234.57 L614.57,234.56 L615.01,234.56 L615.45,234.55 L615.89,234.54 L616.33,234.54 L616.78,234.53 L617.22,234.52 L617.66,234.52 L618.10,234.52 L618.54,234.51 L618.98,234.51 L619.43,234.51 L619.87,234.50 L620.31,234.50 L620.75,234.50 L621.19,234.50 L621.64,234.50" fill="none" stroke="#22a07a" stroke-width="1.4" stroke-linejoin="round" stroke-linecap="round"/>
<path d="M551.38,322.30 L551.71,322.30 L552.04,322.29 L552.37,322.28 L552.70,322.27 L553.04,322.25 L553.37,322.23 L553.70,322.21 L554.03,322.18 L554.37,322.15 L554.70,322.11 L555.03,322.07 L555.36,322.03 L555.69,321.99 L556.03,321.94 L556.36,321.89 L556.69,321.84 L557.02,321.78 L557.36,321.72 L557.69,321.66 L558.02,321.60 L558.35,321.53 L558.68,321.47 L559.02,321.39 L559.35,321.32 L559.68,321.25 L560.01,321.17 L560.34,321.09 L560.68,321.01 L561.01,320.93 L561.34,320.84 L561.67,320.73 L562.01,320.60 L562.34,320.44 L562.67,320.27 L563.00,320.08 L563.33,319.87 L563.67,319.64 L564.00,319.39 L564.33,319.13 L564.66,318.85 L564.99,318.55 L565.33,318.23 L565.66,317.90 L565.99,317.56 L566.32,317.20 L566.66,316.82 L566.99,316.44 L567.32,316.04 L567.65,315.63 L567.98,315.20 L568.32,314.77 L568.65,314.33 L568.98,313.87 L569.31,313.38 L569.65,312.83 L569.98,312.22 L570.31,311.56 L570.64,310.84 L570.97,310.06 L571.31,309.23 L571.64,308.36 L571.97,307.43 L572.30,306.46 L572.63,305.44 L572.97,304.38 L573.30,303.28 L573.63,302.13 L573.96,300.95 L574.30,299.73 L574.63,298.39 L574.96,296.88 L575.29,295.20 L575.62,293.39 L575.96,291.45 L576.29,289.41 L576.62,287.28 L576.95,285.10 L577.28,282.87 L577.62,280.62 L577.95,278.37 L578.28,276.13 L578.61,273.92 L578.95,271.71 L579.28,269.28 L579.61,266.68 L579.94,263.98 L580.27,261.26 L580.61,258.59 L580.94,256.03 L581.27,253.66 L581.60,251.55 L581.94,249.77 L582.27,248.39 L582.60,247.20 L582.93,246.07 L583.26,244.99 L583.60,243.97 L583.93,243.01 L584.26,242.12 L584.59,241.30 L584.92,240.55 L585.26,239.88 L585.59,239.28 L585.92,238.77 L586.25,238.35 L586.59,238.01 L586.92,237.73 L587.25,237.48 L587.58,237.24 L587.91,237.01 L588.25,236.81 L588.58,236.62 L588.91,236.46 L589.24,236.30 L589.57,236.17 L589.91,236.05 L590.24,235.94 L590.57,235.85 L590.90,235.77 L591.24,235.70 L591.57,235.63 L591.90,235.57 L592.23,235.51 L592.56,235.45 L592.90,235.40 L593.23,235.35 L593.56,235.31 L593.89,235.27 L594.23,235.23 L594.56,235.20 L594.89,235.16 L595.22,235.13 L595.55,235.11 L595.89,235.08 L596.22,235.06 L596.55,235.03 L596.88,235.01 L597.21,234.98 L597.55,234.96 L597.88,234.93 L598.21,234.91 L598.54,234.89 L598.88,234.87 L599.21,234.85 L599.54,234.83 L599.87,234.81 L600.20,234.79 L600.54,234.77 L600.87,234.76 L601.20,234.74 L601.53,234.73 L601.86,234.72 L602.20,234.71 L602.53,234.70 L602.86,234.69 L603.19,234.68 L603.53,234.68 L603.86,234.68 L604.19,234.68" fill="none" stroke="#eda63a" stroke-width="1.4" stroke-linejoin="round" stroke-linecap="round"/>
<path d="M532.82,322.30 L533.38,322.29 L533.94,322.28 L534.50,322.27 L535.05,322.25 L535.61,322.23 L536.17,322.22 L536.73,322.20 L537.29,322.18 L537.85,322.15 L538.41,322.13 L538.96,322.11 L539.52,322.08 L540.08,322.06 L540.64,322.03 L541.20,322.00 L541.76,321.98 L542.32,321.95 L542.87,321.92 L543.43,321.89 L543.99,321.86 L544.55,321.83 L545.11,321.80 L545.67,321.77 L546.23,321.73 L546.78,321.70 L547.34,321.65 L547.90,321.61 L548.46,321.56 L549.02,321.51 L549.58,321.46 L550.14,321.40 L550.69,321.33 L551.25,321.26 L551.81,321.18 L552.37,321.06 L552.93,320.91 L553.49,320.74 L554.05,320.54 L554.61,320.31 L555.16,320.07 L555.72,319.81 L556.28,319.53 L556.84,319.24 L557.40,318.94 L557.96,318.63 L558.52,318.32 L559.07,318.00 L559.63,317.69 L560.19,317.38 L560.75,317.07 L561.31,316.76 L561.87,316.45 L562.43,316.12 L562.98,315.79 L563.54,315.43 L564.10,315.05 L564.66,314.63 L565.22,314.19 L565.78,313.70 L566.34,313.17 L566.89,312.59 L567.45,311.95 L568.01,311.16 L568.57,310.19 L569.13,309.05 L569.69,307.77 L570.25,306.36 L570.80,304.83 L571.36,303.20 L571.92,301.49 L572.48,299.70 L573.04,297.75 L573.60,295.52 L574.16,293.06 L574.71,290.39 L575.27,287.53 L575.83,284.51 L576.39,281.37 L576.95,278.12 L577.51,274.79 L578.07,271.28 L578.62,266.95 L579.18,262.10 L579.74,257.19 L580.30,252.67 L580.86,248.99 L581.42,246.58 L581.98,244.89 L582.53,243.37 L583.09,242.03 L583.65,240.86 L584.21,239.86 L584.77,239.03 L585.33,238.37 L585.89,237.87 L586.44,237.45 L587.00,237.08 L587.56,236.75 L588.12,236.47 L588.68,236.23 L589.24,236.02 L589.80,235.85 L590.35,235.70 L590.91,235.56 L591.47,235.43 L592.03,235.31 L592.59,235.21 L593.15,235.11 L593.71,235.02 L594.27,234.95 L594.82,234.90 L595.38,234.86 L595.94,234.83 L596.50,234.80 L597.06,234.77 L597.62,234.75 L598.18,234.73 L598.73,234.71 L599.29,234.69 L599.85,234.67 L600.41,234.65 L600.97,234.64 L601.53,234.63 L602.09,234.62 L602.64,234.61 L603.20,234.60 L603.76,234.59 L604.32,234.59 L604.88,234.58 L605.44,234.58 L606.00,234.57 L606.55,234.57 L607.11,234.56 L607.67,234.56 L608.23,234.55 L608.79,234.55 L609.35,234.55 L609.91,234.54 L610.46,234.54 L611.02,234.53 L611.58,234.53 L612.14,234.53 L612.70,234.52 L613.26,234.52 L613.82,234.52 L614.37,234.52 L614.93,234.51 L615.49,234.51 L616.05,234.51 L616.61,234.51 L617.17,234.51 L617.73,234.50 L618.28,234.50 L618.84,234.50 L619.40,234.50 L619.96,234.50 L620.52,234.50 L621.08,234.50 L621.64,234.50" fill="none" stroke="#2a7cc0" stroke-width="1.4" stroke-linejoin="round" stroke-linecap="round"/>
<path d="M326.70,422.00 L327.20,421.90 L327.69,421.62 L328.19,421.20 L328.69,420.68 L329.19,420.11 L329.68,419.22 L330.18,417.96 L330.68,416.41 L331.18,414.66 L331.67,412.79 L332.17,410.89 L332.67,408.86 L333.16,406.48 L333.66,403.94 L334.16,401.40 L334.66,399.06 L335.15,396.83 L335.65,394.61 L336.15,392.46 L336.64,390.44 L337.14,388.62 L337.64,387.04 L338.14,385.64 L338.63,384.35 L339.13,383.15 L339.63,382.00 L340.13,380.86 L340.62,379.72 L341.12,378.58 L341.62,377.44 L342.11,376.32 L342.61,375.22 L343.11,374.16 L343.61,373.13 L344.10,372.14 L344.60,371.21 L345.10,370.34 L345.60,369.53 L346.09,368.79 L346.59,368.08 L347.09,367.41 L347.58,366.78 L348.08,366.16 L348.58,365.58 L349.08,365.01 L349.57,364.46 L350.07,363.92 L350.57,363.39 L351.07,362.87 L351.56,362.35 L352.06,361.83 L352.56,361.31 L353.05,360.78 L353.55,360.25 L354.05,359.72 L354.55,359.20 L355.04,358.68 L355.54,358.17 L356.04,357.66 L356.53,357.16 L357.03,356.67 L357.53,356.19 L358.03,355.71 L358.52,355.25 L359.02,354.80 L359.52,354.37 L360.02,353.95 L360.51,353.54 L361.01,353.13 L361.51,352.73 L362.00,352.33 L362.50,351.95 L363.00,351.57 L363.50,351.19 L363.99,350.83 L364.49,350.47 L364.99,350.12 L365.49,349.78 L365.98,349.45 L366.48,349.13 L366.98,348.82 L367.47,348.52 L367.97,348.23 L368.47,347.94 L368.97,347.66 L369.46,347.39 L369.96,347.11 L370.46,346.85 L370.95,346.58 L371.45,346.32 L371.95,346.07 L372.45,345.82 L372.94,345.57 L373.44,345.34 L373.94,345.10 L374.44,344.88 L374.93,344.66 L375.43,344.45 L375.93,344.25 L376.42,344.06 L376.92,343.87 L377.42,343.69 L377.92,343.53 L378.41,343.37 L378.91,343.21 L379.41,343.07 L379.91,342.92 L380.40,342.79 L380.90,342.65 L381.40,342.52 L381.89,342.40 L382.39,342.27 L382.89,342.16 L383.39,342.04 L383.88,341.93 L384.38,341.82 L384.88,341.71 L385.38,341.60 L385.87,341.50 L386.37,341.39 L386.87,341.29 L387.36,341.19 L387.86,341.09 L388.36,340.99 L388.86,340.89 L389.35,340.78 L389.85,340.68 L390.35,340.58 L390.84,340.48 L391.34,340.38 L391.84,340.28 L392.34,340.19 L392.83,340.09 L393.33,339.99 L393.83,339.90 L394.33,339.80 L394.82,339.71 L395.32,339.61 L395.82,339.52 L396.31,339.43 L396.81,339.34 L397.31,339.25 L397.81,339.16 L398.30,339.07 L398.80,338.99 L399.30,338.90 L399.80,338.81 L400.29,338.73 L400.79,338.65 L401.29,338.57 L401.78,338.49 L402.28,338.41 L402.78,338.33 L403.28,338.25 L403.77,338.18 L404.27,338.10 L404.77,338.03 L405.26,337.96 L405.76,337.89" fill="none" stroke="#22a07a" stroke-width="1.4" stroke-linejoin="round" stroke-linecap="round"/>
<path d="M306.48,422.00 L307.11,422.00 L307.73,422.00 L308.36,421.99 L308.99,421.98 L309.61,421.98 L310.24,421.97 L310.87,421.95 L311.49,421.94 L312.12,421.92 L312.75,421.91 L313.37,421.89 L314.00,421.87 L314.63,421.85 L315.26,421.82 L315.88,421.80 L316.51,421.77 L317.14,421.75 L317.76,421.72 L318.39,421.69 L319.02,421.66 L319.64,421.62 L320.27,421.58 L320.90,421.52 L321.52,421.45 L322.15,421.38 L322.78,421.28 L323.41,421.18 L324.03,421.06 L324.66,420.92 L325.29,420.77 L325.91,420.61 L326.54,420.42 L327.17,420.22 L327.79,419.91 L328.42,419.44 L329.05,418.82 L329.67,418.05 L330.30,417.14 L330.93,416.09 L331.56,414.59 L332.18,412.12 L332.81,409.04 L333.44,405.73 L334.06,402.58 L334.69,399.73 L335.32,396.76 L335.94,393.79 L336.57,390.99 L337.20,388.49 L337.82,386.39 L338.45,384.54 L339.08,382.86 L339.71,381.28 L340.33,379.74 L340.96,378.23 L341.59,376.75 L342.21,375.32 L342.84,373.95 L343.47,372.65 L344.09,371.43 L344.72,370.31 L345.35,369.30 L345.97,368.38 L346.60,367.52 L347.23,366.71 L347.86,365.94 L348.48,365.22 L349.11,364.52 L349.74,363.85 L350.36,363.19 L350.99,362.53 L351.62,361.88 L352.24,361.22 L352.87,360.54 L353.50,359.85 L354.12,359.15 L354.75,358.45 L355.38,357.76 L356.01,357.08 L356.63,356.40 L357.26,355.75 L357.89,355.12 L358.51,354.51 L359.14,353.93 L359.77,353.38 L360.39,352.85 L361.02,352.34 L361.65,351.83 L362.27,351.34 L362.90,350.86 L363.53,350.39 L364.16,349.94 L364.78,349.51 L365.41,349.09 L366.04,348.69 L366.66,348.31 L367.29,347.95 L367.92,347.60 L368.54,347.26 L369.17,346.93 L369.80,346.60 L370.42,346.28 L371.05,345.97 L371.68,345.66 L372.30,345.37 L372.93,345.08 L373.56,344.80 L374.19,344.53 L374.81,344.28 L375.44,344.03 L376.07,343.80 L376.69,343.58 L377.32,343.37 L377.95,343.18 L378.57,343.00 L379.20,342.83 L379.83,342.67 L380.45,342.53 L381.08,342.39 L381.71,342.25 L382.34,342.12 L382.96,342.00 L383.59,341.88 L384.22,341.77 L384.84,341.66 L385.47,341.55 L386.10,341.44 L386.72,341.33 L387.35,341.22 L387.98,341.11 L388.60,341.00 L389.23,340.88 L389.86,340.76 L390.49,340.64 L391.11,340.52 L391.74,340.40 L392.37,340.28 L392.99,340.16 L393.62,340.04 L394.25,339.92 L394.87,339.80 L395.50,339.69 L396.13,339.57 L396.75,339.45 L397.38,339.33 L398.01,339.21 L398.64,339.10 L399.26,338.98 L399.89,338.86 L400.52,338.75 L401.14,338.63 L401.77,338.51 L402.40,338.40 L403.02,338.28 L403.65,338.17 L404.28,338.05 L404.90,337.94 L405.53,337.83 L406.16,337.71" fill="none" stroke="#eda63a" stroke-width="1.4" stroke-linejoin="round" stroke-linecap="round"/>
<path d="M306.08,422.00 L306.71,422.00 L307.34,422.00 L307.96,421.99 L308.59,421.99 L309.22,421.98 L309.84,421.97 L310.47,421.96 L311.10,421.94 L311.72,421.93 L312.35,421.91 L312.98,421.89 L313.61,421.87 L314.23,421.85 L314.86,421.83 L315.49,421.80 L316.11,421.78 L316.74,421.75 L317.37,421.72 L317.99,421.69 L318.62,421.66 L319.25,421.62 L319.87,421.57 L320.50,421.50 L321.13,421.41 L321.75,421.31 L322.38,421.18 L323.01,421.04 L323.64,420.88 L324.26,420.70 L324.89,420.50 L325.52,420.28 L326.14,420.04 L326.77,419.77 L327.40,419.36 L328.02,418.73 L328.65,417.91 L329.28,416.90 L329.90,415.72 L330.53,414.31 L331.16,411.98 L331.79,408.90 L332.41,405.47 L333.04,402.05 L333.67,398.97 L334.29,395.85 L334.92,392.68 L335.55,389.61 L336.17,386.82 L336.80,384.46 L337.43,382.42 L338.05,380.59 L338.68,378.90 L339.31,377.29 L339.94,375.70 L340.56,374.14 L341.19,372.64 L341.82,371.21 L342.44,369.86 L343.07,368.59 L343.70,367.44 L344.32,366.40 L344.95,365.44 L345.58,364.53 L346.20,363.67 L346.83,362.85 L347.46,362.07 L348.09,361.33 L348.71,360.62 L349.34,359.93 L349.97,359.26 L350.59,358.61 L351.22,357.97 L351.85,357.34 L352.47,356.74 L353.10,356.15 L353.73,355.58 L354.35,355.03 L354.98,354.49 L355.61,353.97 L356.24,353.46 L356.86,352.96 L357.49,352.47 L358.12,351.99 L358.74,351.52 L359.37,351.04 L360.00,350.57 L360.62,350.10 L361.25,349.64 L361.88,349.19 L362.50,348.75 L363.13,348.32 L363.76,347.92 L364.39,347.53 L365.01,347.17 L365.64,346.83 L366.27,346.53 L366.89,346.25 L367.52,345.98 L368.15,345.72 L368.77,345.47 L369.40,345.23 L370.03,344.99 L370.65,344.77 L371.28,344.55 L371.91,344.34 L372.54,344.13 L373.16,343.94 L373.79,343.75 L374.42,343.56 L375.04,343.38 L375.67,343.21 L376.30,343.04 L376.92,342.88 L377.55,342.71 L378.18,342.56 L378.80,342.41 L379.43,342.26 L380.06,342.12 L380.69,341.98 L381.31,341.85 L381.94,341.72 L382.57,341.59 L383.19,341.47 L383.82,341.35 L384.45,341.23 L385.07,341.12 L385.70,341.01 L386.33,340.89 L386.95,340.78 L387.58,340.67 L388.21,340.55 L388.84,340.44 L389.46,340.32 L390.09,340.21 L390.72,340.09 L391.34,339.98 L391.97,339.87 L392.60,339.75 L393.22,339.64 L393.85,339.53 L394.48,339.42 L395.10,339.31 L395.73,339.20 L396.36,339.09 L396.99,338.98 L397.61,338.87 L398.24,338.76 L398.87,338.66 L399.49,338.55 L400.12,338.45 L400.75,338.34 L401.37,338.24 L402.00,338.14 L402.63,338.03 L403.25,337.93 L403.88,337.83 L404.51,337.73 L405.14,337.63 L405.76,337.54" fill="none" stroke="#2a7cc0" stroke-width="1.4" stroke-linejoin="round" stroke-linecap="round"/>
<path d="M306.08,422.00 L306.71,422.00 L307.34,422.00 L307.96,421.99 L308.59,421.98 L309.22,421.98 L309.84,421.97 L310.47,421.95 L311.10,421.94 L311.72,421.92 L312.35,421.91 L312.98,421.89 L313.61,421.87 L314.23,421.85 L314.86,421.82 L315.49,421.80 L316.11,421.77 L316.74,421.75 L317.37,421.72 L317.99,421.69 L318.62,421.66 L319.25,421.62 L319.87,421.58 L320.50,421.52 L321.13,421.45 L321.75,421.38 L322.38,421.28 L323.01,421.18 L323.64,421.06 L324.26,420.92 L324.89,420.77 L325.52,420.61 L326.14,420.42 L326.77,420.22 L327.40,419.91 L328.02,419.44 L328.65,418.82 L329.28,418.05 L329.90,417.14 L330.53,416.09 L331.16,414.59 L331.79,412.12 L332.41,409.04 L333.04,405.73 L333.67,402.58 L334.29,399.73 L334.92,396.76 L335.55,393.79 L336.17,390.99 L336.80,388.49 L337.43,386.39 L338.05,384.54 L338.68,382.86 L339.31,381.28 L339.94,379.74 L340.56,378.23 L341.19,376.75 L341.82,375.32 L342.44,373.95 L343.07,372.65 L343.70,371.43 L344.32,370.31 L344.95,369.30 L345.58,368.38 L346.20,367.52 L346.83,366.71 L347.46,365.94 L348.09,365.22 L348.71,364.52 L349.34,363.85 L349.97,363.19 L350.59,362.53 L351.22,361.88 L351.85,361.22 L352.47,360.54 L353.10,359.85 L353.73,359.15 L354.35,358.45 L354.98,357.76 L355.61,357.08 L356.24,356.40 L356.86,355.75 L357.49,355.12 L358.12,354.51 L358.74,353.93 L359.37,353.38 L360.00,352.85 L360.62,352.34 L361.25,351.83 L361.88,351.34 L362.50,350.86 L363.13,350.39 L363.76,349.94 L364.39,349.51 L365.01,349.09 L365.64,348.69 L366.27,348.31 L366.89,347.95 L367.52,347.60 L368.15,347.26 L368.77,346.93 L369.40,346.60 L370.03,346.28 L370.65,345.97 L371.28,345.66 L371.91,345.37 L372.54,345.08 L373.16,344.80 L373.79,344.53 L374.42,344.28 L375.04,344.03 L375.67,343.80 L376.30,343.58 L376.92,343.37 L377.55,343.18 L378.18,343.00 L378.80,342.83 L379.43,342.67 L380.06,342.53 L380.69,342.39 L381.31,342.25 L381.94,342.12 L382.57,342.00 L383.19,341.88 L383.82,341.77 L384.45,341.66 L385.07,341.55 L385.70,341.44 L386.33,341.33 L386.95,341.22 L387.58,341.11 L388.21,341.00 L388.84,340.88 L389.46,340.76 L390.09,340.64 L390.72,340.52 L391.34,340.40 L391.97,340.28 L392.60,340.16 L393.22,340.04 L393.85,339.92 L394.48,339.80 L395.10,339.69 L395.73,339.57 L396.36,339.45 L396.99,339.33 L397.61,339.21 L398.24,339.10 L398.87,338.98 L399.49,338.86 L400.12,338.75 L400.75,338.63 L401.37,338.51 L402.00,338.40 L402.63,338.28 L403.25,338.17 L403.88,338.05 L404.51,337.94 L405.14,337.83 L405.76,337.71" fill="none" stroke="#dd6a30" stroke-width="1.4" stroke-linejoin="round" stroke-linecap="round"/>
<path d="M460.83,422.00 L461.28,416.71 L461.74,412.22 L462.19,408.27 L462.64,404.61 L463.09,401.27 L463.54,398.30 L463.99,395.73 L464.44,393.45 L464.90,391.31 L465.35,389.31 L465.80,387.44 L466.25,385.69 L466.70,384.06 L467.15,382.55 L467.60,381.14 L468.06,379.83 L468.51,378.61 L468.96,377.45 L469.41,376.33 L469.86,375.25 L470.31,374.21 L470.76,373.22 L471.21,372.26 L471.67,371.33 L472.12,370.44 L472.57,369.59 L473.02,368.77 L473.47,367.97 L473.92,367.21 L474.37,366.47 L474.83,365.76 L475.28,365.08 L475.73,364.42 L476.18,363.78 L476.63,363.16 L477.08,362.55 L477.53,361.96 L477.99,361.39 L478.44,360.83 L478.89,360.29 L479.34,359.76 L479.79,359.24 L480.24,358.74 L480.69,358.25 L481.14,357.77 L481.60,357.31 L482.05,356.86 L482.50,356.42 L482.95,355.99 L483.40,355.57 L483.85,355.17 L484.30,354.77 L484.76,354.38 L485.21,354.01 L485.66,353.64 L486.11,353.28 L486.56,352.93 L487.01,352.58 L487.46,352.24 L487.92,351.90 L488.37,351.57 L488.82,351.24 L489.27,350.92 L489.72,350.61 L490.17,350.30 L490.62,350.00 L491.07,349.71 L491.53,349.42 L491.98,349.14 L492.43,348.86 L492.88,348.59 L493.33,348.33 L493.78,348.07 L494.23,347.83 L494.69,347.58 L495.14,347.35 L495.59,347.12 L496.04,346.90 L496.49,346.69 L496.94,346.48 L497.39,346.28 L497.85,346.08 L498.30,345.89 L498.75,345.71 L499.20,345.52 L499.65,345.35 L500.10,345.17 L500.55,345.00 L501.00,344.84 L501.46,344.67 L501.91,344.51 L502.36,344.36 L502.81,344.20 L503.26,344.05 L503.71,343.90 L504.16,343.75 L504.62,343.61 L505.07,343.47 L505.52,343.33 L505.97,343.19 L506.42,343.05 L506.87,342.91 L507.32,342.78 L507.78,342.64 L508.23,342.51 L508.68,342.38 L509.13,342.24 L509.58,342.11 L510.03,341.98 L510.48,341.84 L510.93,341.71 L511.39,341.59 L511.84,341.46 L512.29,341.33 L512.74,341.21 L513.19,341.08 L513.64,340.96 L514.09,340.84 L514.55,340.72 L515.00,340.60 L515.45,340.49 L515.90,340.37 L516.35,340.25 L516.80,340.14 L517.25,340.03 L517.71,339.92 L518.16,339.81 L518.61,339.70 L519.06,339.59 L519.51,339.48 L519.96,339.38 L520.41,339.27 L520.86,339.17 L521.32,339.07 L521.77,338.97 L522.22,338.87 L522.67,338.77 L523.12,338.67 L523.57,338.57 L524.02,338.48 L524.48,338.38 L524.93,338.29 L525.38,338.19 L525.83,338.10 L526.28,338.01 L526.73,337.92 L527.18,337.83 L527.64,337.74 L528.09,337.65 L528.54,337.56 L528.99,337.48 L529.44,337.39 L529.89,337.31 L530.34,337.23 L530.79,337.15 L531.25,337.07 L531.70,336.99 L532.15,336.91 L532.60,336.83" fill="none" stroke="#22a07a" stroke-width="1.4" stroke-linejoin="round" stroke-linecap="round"/>
<path d="M437.44,422.00 L438.04,422.00 L438.64,422.00 L439.24,421.99 L439.83,421.99 L440.43,421.98 L441.03,421.98 L441.63,421.97 L442.23,421.96 L442.83,421.95 L443.42,421.93 L444.02,421.92 L444.62,421.90 L445.22,421.89 L445.82,421.87 L446.42,421.85 L447.02,421.83 L447.61,421.81 L448.21,421.78 L448.81,421.76 L449.41,421.73 L450.01,421.69 L450.61,421.63 L451.21,421.55 L451.80,421.45 L452.40,421.33 L453.00,421.20 L453.60,421.03 L454.20,420.77 L454.80,420.41 L455.39,419.94 L455.99,419.38 L456.59,418.73 L457.19,417.98 L457.79,417.14 L458.39,416.08 L458.99,414.22 L459.58,411.73 L460.18,408.83 L460.78,405.79 L461.38,402.84 L461.98,400.23 L462.58,397.89 L463.18,395.54 L463.77,393.20 L464.37,390.88 L464.97,388.62 L465.57,386.44 L466.17,384.36 L466.77,382.41 L467.36,380.62 L467.96,379.00 L468.56,377.51 L469.16,376.07 L469.76,374.70 L470.36,373.37 L470.96,372.11 L471.55,370.90 L472.15,369.74 L472.75,368.63 L473.35,367.57 L473.95,366.57 L474.55,365.61 L475.14,364.70 L475.74,363.83 L476.34,363.01 L476.94,362.21 L477.54,361.44 L478.14,360.70 L478.74,359.98 L479.33,359.28 L479.93,358.61 L480.53,357.96 L481.13,357.33 L481.73,356.72 L482.33,356.13 L482.93,355.57 L483.52,355.02 L484.12,354.49 L484.72,353.97 L485.32,353.48 L485.92,352.99 L486.52,352.52 L487.11,352.06 L487.71,351.61 L488.31,351.17 L488.91,350.74 L489.51,350.32 L490.11,349.91 L490.71,349.51 L491.30,349.12 L491.90,348.75 L492.50,348.38 L493.10,348.03 L493.70,347.68 L494.30,347.35 L494.90,347.03 L495.49,346.73 L496.09,346.44 L496.69,346.15 L497.29,345.89 L497.89,345.62 L498.49,345.37 L499.08,345.12 L499.68,344.88 L500.28,344.65 L500.88,344.42 L501.48,344.20 L502.08,343.98 L502.68,343.77 L503.27,343.57 L503.87,343.37 L504.47,343.17 L505.07,342.98 L505.67,342.79 L506.27,342.61 L506.86,342.43 L507.46,342.26 L508.06,342.09 L508.66,341.92 L509.26,341.76 L509.86,341.59 L510.46,341.44 L511.05,341.29 L511.65,341.14 L512.25,340.99 L512.85,340.85 L513.45,340.72 L514.05,340.58 L514.65,340.45 L515.24,340.32 L515.84,340.19 L516.44,340.07 L517.04,339.94 L517.64,339.82 L518.24,339.70 L518.83,339.58 L519.43,339.45 L520.03,339.33 L520.63,339.21 L521.23,339.09 L521.83,338.96 L522.43,338.84 L523.02,338.71 L523.62,338.59 L524.22,338.47 L524.82,338.35 L525.42,338.23 L526.02,338.11 L526.62,337.99 L527.21,337.87 L527.81,337.75 L528.41,337.63 L529.01,337.52 L529.61,337.40 L530.21,337.29 L530.80,337.17 L531.40,337.06 L532.00,336.95 L532.60,336.83" fill="none" stroke="#eda63a" stroke-width="1.4" stroke-linejoin="round" stroke-linecap="round"/>
<path d="M442.20,422.00 L442.77,422.00 L443.34,421.99 L443.90,421.97 L444.47,421.95 L445.04,421.92 L445.61,421.89 L446.18,421.85 L446.75,421.81 L447.32,421.76 L447.88,421.71 L448.45,421.65 L449.02,421.60 L449.59,421.53 L450.16,421.43 L450.73,421.30 L451.30,421.13 L451.86,420.93 L452.43,420.69 L453.00,420.41 L453.57,420.06 L454.14,419.50 L454.71,418.72 L455.28,417.74 L455.84,416.60 L456.41,415.33 L456.98,413.94 L457.55,412.40 L458.12,410.31 L458.69,407.78 L459.25,404.99 L459.82,402.12 L460.39,399.38 L460.96,396.66 L461.53,393.75 L462.10,390.76 L462.67,387.78 L463.23,384.95 L463.80,382.36 L464.37,380.13 L464.94,378.32 L465.51,376.63 L466.08,375.03 L466.65,373.52 L467.21,372.08 L467.78,370.72 L468.35,369.44 L468.92,368.23 L469.49,367.08 L470.06,366.00 L470.63,364.99 L471.19,364.03 L471.76,363.14 L472.33,362.30 L472.90,361.50 L473.47,360.73 L474.04,359.99 L474.61,359.27 L475.17,358.59 L475.74,357.92 L476.31,357.29 L476.88,356.67 L477.45,356.08 L478.02,355.51 L478.59,354.96 L479.15,354.42 L479.72,353.91 L480.29,353.41 L480.86,352.92 L481.43,352.45 L482.00,351.99 L482.57,351.55 L483.13,351.11 L483.70,350.68 L484.27,350.26 L484.84,349.84 L485.41,349.43 L485.98,349.03 L486.55,348.64 L487.11,348.26 L487.68,347.88 L488.25,347.52 L488.82,347.16 L489.39,346.82 L489.96,346.49 L490.53,346.17 L491.09,345.86 L491.66,345.57 L492.23,345.29 L492.80,345.02 L493.37,344.77 L493.94,344.53 L494.51,344.31 L495.07,344.10 L495.64,343.90 L496.21,343.70 L496.78,343.51 L497.35,343.33 L497.92,343.15 L498.49,342.98 L499.05,342.82 L499.62,342.66 L500.19,342.50 L500.76,342.35 L501.33,342.20 L501.90,342.06 L502.47,341.92 L503.03,341.79 L503.60,341.65 L504.17,341.52 L504.74,341.40 L505.31,341.27 L505.88,341.15 L506.45,341.03 L507.01,340.91 L507.58,340.79 L508.15,340.68 L508.72,340.56 L509.29,340.45 L509.86,340.34 L510.43,340.23 L510.99,340.12 L511.56,340.02 L512.13,339.92 L512.70,339.82 L513.27,339.72 L513.84,339.62 L514.41,339.53 L514.97,339.43 L515.54,339.34 L516.11,339.25 L516.68,339.16 L517.25,339.08 L517.82,338.99 L518.39,338.91 L518.95,338.83 L519.52,338.75 L520.09,338.67 L520.66,338.60 L521.23,338.52 L521.80,338.45 L522.37,338.37 L522.93,338.30 L523.50,338.23 L524.07,338.16 L524.64,338.09 L525.21,338.02 L525.78,337.96 L526.35,337.89 L526.91,337.83 L527.48,337.77 L528.05,337.71 L528.62,337.65 L529.19,337.59 L529.76,337.53 L530.33,337.48 L530.89,337.42 L531.46,337.37 L532.03,337.32 L532.60,337.27" fill="none" stroke="#2a7cc0" stroke-width="1.4" stroke-linejoin="round" stroke-linecap="round"/>
<path d="M442.20,422.00 L442.77,422.00 L443.34,421.99 L443.90,421.98 L444.47,421.97 L445.04,421.95 L445.61,421.93 L446.18,421.91 L446.75,421.88 L447.32,421.85 L447.88,421.82 L448.45,421.79 L449.02,421.76 L449.59,421.72 L450.16,421.67 L450.73,421.61 L451.30,421.53 L451.86,421.44 L452.43,421.33 L453.00,421.20 L453.57,421.04 L454.14,420.80 L454.71,420.47 L455.28,420.05 L455.84,419.53 L456.41,418.93 L456.98,418.25 L457.55,417.49 L458.12,416.63 L458.69,415.23 L459.25,413.13 L459.82,410.55 L460.39,407.70 L460.96,404.81 L461.53,402.10 L462.10,399.77 L462.67,397.64 L463.23,395.52 L463.80,393.42 L464.37,391.36 L464.94,389.35 L465.51,387.40 L466.08,385.52 L466.65,383.73 L467.21,382.04 L467.78,380.47 L468.35,379.01 L468.92,377.66 L469.49,376.34 L470.06,375.07 L470.63,373.85 L471.19,372.67 L471.76,371.53 L472.33,370.44 L472.90,369.39 L473.47,368.39 L474.04,367.43 L474.61,366.51 L475.17,365.64 L475.74,364.82 L476.31,364.03 L476.88,363.28 L477.45,362.56 L478.02,361.85 L478.59,361.17 L479.15,360.52 L479.72,359.88 L480.29,359.26 L480.86,358.67 L481.43,358.09 L482.00,357.53 L482.57,356.98 L483.13,356.45 L483.70,355.94 L484.27,355.44 L484.84,354.95 L485.41,354.48 L485.98,354.01 L486.55,353.56 L487.11,353.12 L487.68,352.68 L488.25,352.26 L488.82,351.84 L489.39,351.42 L489.96,351.02 L490.53,350.62 L491.09,350.24 L491.66,349.86 L492.23,349.49 L492.80,349.14 L493.37,348.79 L493.94,348.45 L494.51,348.12 L495.07,347.81 L495.64,347.50 L496.21,347.21 L496.78,346.93 L497.35,346.66 L497.92,346.40 L498.49,346.15 L499.05,345.91 L499.62,345.68 L500.19,345.45 L500.76,345.23 L501.33,345.02 L501.90,344.81 L502.47,344.61 L503.03,344.41 L503.60,344.22 L504.17,344.03 L504.74,343.85 L505.31,343.66 L505.88,343.48 L506.45,343.31 L507.01,343.13 L507.58,342.96 L508.15,342.78 L508.72,342.61 L509.29,342.44 L509.86,342.27 L510.43,342.09 L510.99,341.92 L511.56,341.75 L512.13,341.58 L512.70,341.41 L513.27,341.25 L513.84,341.08 L514.41,340.92 L514.97,340.76 L515.54,340.61 L516.11,340.45 L516.68,340.29 L517.25,340.14 L517.82,339.99 L518.39,339.84 L518.95,339.69 L519.52,339.54 L520.09,339.39 L520.66,339.24 L521.23,339.10 L521.80,338.95 L522.37,338.81 L522.93,338.67 L523.50,338.52 L524.07,338.38 L524.64,338.24 L525.21,338.10 L525.78,337.96 L526.35,337.83 L526.91,337.69 L527.48,337.56 L528.05,337.42 L528.62,337.29 L529.19,337.16 L529.76,337.03 L530.33,336.90 L530.89,336.77 L531.46,336.64 L532.03,336.52 L532.60,336.39" fill="none" stroke="#dd6a30" stroke-width="1.4" stroke-linejoin="round" stroke-linecap="round"/>
<path d="M552.64,422.00 L553.06,421.99 L553.48,421.98 L553.89,421.96 L554.31,421.95 L554.72,421.93 L555.14,421.91 L555.55,421.88 L555.97,421.86 L556.38,421.84 L556.80,421.81 L557.21,421.78 L557.63,421.75 L558.05,421.72 L558.46,421.69 L558.88,421.66 L559.29,421.62 L559.71,421.59 L560.12,421.55 L560.54,421.52 L560.95,421.48 L561.37,421.45 L561.78,421.41 L562.20,421.37 L562.62,421.34 L563.03,421.30 L563.45,421.26 L563.86,421.22 L564.28,421.17 L564.69,421.12 L565.11,421.07 L565.52,421.02 L565.94,420.95 L566.35,420.89 L566.77,420.82 L567.19,420.74 L567.60,420.65 L568.02,420.56 L568.43,420.46 L568.85,420.34 L569.26,420.17 L569.68,419.93 L570.09,419.65 L570.51,419.31 L570.92,418.91 L571.34,418.47 L571.76,417.97 L572.17,417.43 L572.59,416.84 L573.00,416.21 L573.42,415.53 L573.83,414.80 L574.25,413.81 L574.66,412.50 L575.08,410.92 L575.49,409.10 L575.91,407.10 L576.33,404.96 L576.74,402.73 L577.16,400.44 L577.57,398.11 L577.99,395.49 L578.40,392.59 L578.82,389.46 L579.23,386.18 L579.65,382.79 L580.06,379.37 L580.48,375.98 L580.90,372.68 L581.31,369.27 L581.73,365.66 L582.14,362.02 L582.56,358.48 L582.97,355.22 L583.39,352.39 L583.80,349.93 L584.22,347.50 L584.63,345.19 L585.05,343.11 L585.47,341.37 L585.88,340.07 L586.30,339.32 L586.71,338.81 L587.13,338.38 L587.54,338.02 L587.96,337.73 L588.37,337.49 L588.79,337.28 L589.20,337.10 L589.62,336.92 L590.04,336.77 L590.45,336.62 L590.87,336.49 L591.28,336.37 L591.70,336.26 L592.11,336.16 L592.53,336.07 L592.94,335.99 L593.36,335.92 L593.77,335.86 L594.19,335.80 L594.61,335.74 L595.02,335.69 L595.44,335.63 L595.85,335.58 L596.27,335.54 L596.68,335.49 L597.10,335.45 L597.51,335.41 L597.93,335.37 L598.34,335.33 L598.76,335.30 L599.18,335.26 L599.59,335.23 L600.01,335.19 L600.42,335.16 L600.84,335.13 L601.25,335.10 L601.67,335.06 L602.08,335.03 L602.50,335.00 L602.91,334.97 L603.33,334.94 L603.75,334.92 L604.16,334.89 L604.58,334.86 L604.99,334.84 L605.41,334.81 L605.82,334.79 L606.24,334.76 L606.65,334.74 L607.07,334.71 L607.48,334.69 L607.90,334.67 L608.32,334.65 L608.73,334.63 L609.15,334.60 L609.56,334.58 L609.98,334.56 L610.39,334.54 L610.81,334.52 L611.22,334.50 L611.64,334.48 L612.05,334.46 L612.47,334.44 L612.89,334.43 L613.30,334.41 L613.72,334.39 L614.13,334.37 L614.55,334.35 L614.96,334.34 L615.38,334.32 L615.79,334.30 L616.21,334.29 L616.62,334.27 L617.04,334.26 L617.46,334.24 L617.87,334.23 L618.29,334.21 L618.70,334.20" fill="none" stroke="#22a07a" stroke-width="1.4" stroke-linejoin="round" stroke-linecap="round"/>
<path d="M552.09,422.00 L552.51,421.99 L552.92,421.98 L553.34,421.96 L553.75,421.95 L554.17,421.93 L554.58,421.91 L555.00,421.88 L555.41,421.86 L555.83,421.84 L556.24,421.81 L556.66,421.78 L557.08,421.75 L557.49,421.72 L557.91,421.69 L558.32,421.66 L558.74,421.62 L559.15,421.59 L559.57,421.55 L559.98,421.52 L560.40,421.48 L560.81,421.45 L561.23,421.41 L561.65,421.37 L562.06,421.34 L562.48,421.30 L562.89,421.26 L563.31,421.22 L563.72,421.17 L564.14,421.12 L564.55,421.07 L564.97,421.02 L565.38,420.95 L565.80,420.89 L566.22,420.82 L566.63,420.74 L567.05,420.65 L567.46,420.56 L567.88,420.46 L568.29,420.34 L568.71,420.17 L569.12,419.93 L569.54,419.65 L569.95,419.31 L570.37,418.91 L570.79,418.47 L571.20,417.97 L571.62,417.43 L572.03,416.84 L572.45,416.21 L572.86,415.53 L573.28,414.80 L573.69,413.81 L574.11,412.50 L574.52,410.92 L574.94,409.10 L575.36,407.10 L575.77,404.96 L576.19,402.73 L576.60,400.44 L577.02,398.11 L577.43,395.49 L577.85,392.59 L578.26,389.46 L578.68,386.18 L579.09,382.79 L579.51,379.37 L579.93,375.98 L580.34,372.68 L580.76,369.27 L581.17,365.66 L581.59,362.02 L582.00,358.48 L582.42,355.22 L582.83,352.39 L583.25,349.93 L583.66,347.50 L584.08,345.19 L584.50,343.11 L584.91,341.37 L585.33,340.07 L585.74,339.32 L586.16,338.81 L586.57,338.38 L586.99,338.02 L587.40,337.73 L587.82,337.49 L588.23,337.28 L588.65,337.10 L589.07,336.92 L589.48,336.77 L589.90,336.62 L590.31,336.49 L590.73,336.37 L591.14,336.26 L591.56,336.16 L591.97,336.07 L592.39,335.99 L592.80,335.92 L593.22,335.86 L593.64,335.80 L594.05,335.74 L594.47,335.69 L594.88,335.63 L595.30,335.58 L595.71,335.54 L596.13,335.49 L596.54,335.45 L596.96,335.41 L597.37,335.37 L597.79,335.33 L598.21,335.30 L598.62,335.26 L599.04,335.23 L599.45,335.19 L599.87,335.16 L600.28,335.13 L600.70,335.10 L601.11,335.06 L601.53,335.03 L601.94,335.00 L602.36,334.97 L602.78,334.94 L603.19,334.92 L603.61,334.89 L604.02,334.86 L604.44,334.84 L604.85,334.81 L605.27,334.79 L605.68,334.76 L606.10,334.74 L606.51,334.71 L606.93,334.69 L607.35,334.67 L607.76,334.65 L608.18,334.63 L608.59,334.60 L609.01,334.58 L609.42,334.56 L609.84,334.54 L610.25,334.52 L610.67,334.50 L611.08,334.48 L611.50,334.46 L611.92,334.44 L612.33,334.43 L612.75,334.41 L613.16,334.39 L613.58,334.37 L613.99,334.35 L614.41,334.34 L614.82,334.32 L615.24,334.30 L615.65,334.29 L616.07,334.27 L616.48,334.26 L616.90,334.24 L617.32,334.23 L617.73,334.21 L618.15,334.20" fill="none" stroke="#eda63a" stroke-width="1.4" stroke-linejoin="round" stroke-linecap="round"/>
<path d="M550.90,422.00 L551.32,421.99 L551.73,421.98 L552.15,421.96 L552.56,421.95 L552.98,421.93 L553.39,421.91 L553.81,421.88 L554.22,421.86 L554.64,421.84 L555.05,421.81 L555.47,421.78 L555.89,421.75 L556.30,421.72 L556.72,421.69 L557.13,421.66 L557.55,421.62 L557.96,421.59 L558.38,421.55 L558.79,421.52 L559.21,421.48 L559.62,421.45 L560.04,421.41 L560.46,421.37 L560.87,421.34 L561.29,421.30 L561.70,421.26 L562.12,421.22 L562.53,421.17 L562.95,421.12 L563.36,421.07 L563.78,421.02 L564.19,420.95 L564.61,420.89 L565.03,420.82 L565.44,420.74 L565.86,420.65 L566.27,420.56 L566.69,420.46 L567.10,420.34 L567.52,420.17 L567.93,419.93 L568.35,419.65 L568.76,419.31 L569.18,418.91 L569.60,418.47 L570.01,417.97 L570.43,417.43 L570.84,416.84 L571.26,416.21 L571.67,415.53 L572.09,414.80 L572.50,413.81 L572.92,412.50 L573.33,410.92 L573.75,409.10 L574.17,407.10 L574.58,404.96 L575.00,402.73 L575.41,400.44 L575.83,398.11 L576.24,395.49 L576.66,392.59 L577.07,389.46 L577.49,386.18 L577.90,382.79 L578.32,379.37 L578.74,375.98 L579.15,372.68 L579.57,369.27 L579.98,365.66 L580.40,362.02 L580.81,358.48 L581.23,355.22 L581.64,352.39 L582.06,349.93 L582.47,347.50 L582.89,345.19 L583.31,343.11 L583.72,341.37 L584.14,340.07 L584.55,339.32 L584.97,338.81 L585.38,338.38 L585.80,338.02 L586.21,337.73 L586.63,337.49 L587.04,337.28 L587.46,337.10 L587.88,336.92 L588.29,336.77 L588.71,336.62 L589.12,336.49 L589.54,336.37 L589.95,336.26 L590.37,336.16 L590.78,336.07 L591.20,335.99 L591.61,335.92 L592.03,335.86 L592.45,335.80 L592.86,335.74 L593.28,335.69 L593.69,335.63 L594.11,335.58 L594.52,335.54 L594.94,335.49 L595.35,335.45 L595.77,335.41 L596.18,335.37 L596.60,335.33 L597.02,335.30 L597.43,335.26 L597.85,335.23 L598.26,335.19 L598.68,335.16 L599.09,335.13 L599.51,335.10 L599.92,335.06 L600.34,335.03 L600.75,335.00 L601.17,334.97 L601.59,334.94 L602.00,334.92 L602.42,334.89 L602.83,334.86 L603.25,334.84 L603.66,334.81 L604.08,334.79 L604.49,334.76 L604.91,334.74 L605.32,334.71 L605.74,334.69 L606.16,334.67 L606.57,334.65 L606.99,334.63 L607.40,334.60 L607.82,334.58 L608.23,334.56 L608.65,334.54 L609.06,334.52 L609.48,334.50 L609.89,334.48 L610.31,334.46 L610.73,334.44 L611.14,334.43 L611.56,334.41 L611.97,334.39 L612.39,334.37 L612.80,334.35 L613.22,334.34 L613.63,334.32 L614.05,334.30 L614.46,334.29 L614.88,334.27 L615.30,334.26 L615.71,334.24 L616.13,334.23 L616.54,334.21 L616.96,334.20" fill="none" stroke="#2a7cc0" stroke-width="1.4" stroke-linejoin="round" stroke-linecap="round"/>
<path d="M551.61,422.00 L552.03,421.99 L552.45,421.98 L552.86,421.96 L553.28,421.95 L553.69,421.93 L554.11,421.91 L554.52,421.88 L554.94,421.86 L555.35,421.84 L555.77,421.81 L556.18,421.78 L556.60,421.75 L557.01,421.72 L557.43,421.69 L557.85,421.66 L558.26,421.62 L558.68,421.59 L559.09,421.55 L559.51,421.52 L559.92,421.48 L560.34,421.45 L560.75,421.41 L561.17,421.37 L561.58,421.34 L562.00,421.30 L562.42,421.26 L562.83,421.22 L563.25,421.17 L563.66,421.12 L564.08,421.07 L564.49,421.02 L564.91,420.95 L565.32,420.89 L565.74,420.82 L566.15,420.74 L566.57,420.65 L566.99,420.56 L567.40,420.46 L567.82,420.34 L568.23,420.17 L568.65,419.93 L569.06,419.65 L569.48,419.31 L569.89,418.91 L570.31,418.47 L570.72,417.97 L571.14,417.43 L571.56,416.84 L571.97,416.21 L572.39,415.53 L572.80,414.80 L573.22,413.81 L573.63,412.50 L574.05,410.92 L574.46,409.10 L574.88,407.10 L575.29,404.96 L575.71,402.73 L576.13,400.44 L576.54,398.11 L576.96,395.49 L577.37,392.59 L577.79,389.46 L578.20,386.18 L578.62,382.79 L579.03,379.37 L579.45,375.98 L579.86,372.68 L580.28,369.27 L580.70,365.66 L581.11,362.02 L581.53,358.48 L581.94,355.22 L582.36,352.39 L582.77,349.93 L583.19,347.50 L583.60,345.19 L584.02,343.11 L584.43,341.37 L584.85,340.07 L585.27,339.32 L585.68,338.81 L586.10,338.38 L586.51,338.02 L586.93,337.73 L587.34,337.49 L587.76,337.28 L588.17,337.10 L588.59,336.92 L589.00,336.77 L589.42,336.62 L589.84,336.49 L590.25,336.37 L590.67,336.26 L591.08,336.16 L591.50,336.07 L591.91,335.99 L592.33,335.92 L592.74,335.86 L593.16,335.80 L593.57,335.74 L593.99,335.69 L594.41,335.63 L594.82,335.58 L595.24,335.54 L595.65,335.49 L596.07,335.45 L596.48,335.41 L596.90,335.37 L597.31,335.33 L597.73,335.30 L598.14,335.26 L598.56,335.23 L598.98,335.19 L599.39,335.16 L599.81,335.13 L600.22,335.10 L600.64,335.06 L601.05,335.03 L601.47,335.00 L601.88,334.97 L602.30,334.94 L602.71,334.92 L603.13,334.89 L603.55,334.86 L603.96,334.84 L604.38,334.81 L604.79,334.79 L605.21,334.76 L605.62,334.74 L606.04,334.71 L606.45,334.69 L606.87,334.67 L607.28,334.65 L607.70,334.63 L608.12,334.60 L608.53,334.58 L608.95,334.56 L609.36,334.54 L609.78,334.52 L610.19,334.50 L610.61,334.48 L611.02,334.46 L611.44,334.44 L611.85,334.43 L612.27,334.41 L612.69,334.39 L613.10,334.37 L613.52,334.35 L613.93,334.34 L614.35,334.32 L614.76,334.30 L615.18,334.29 L615.59,334.27 L616.01,334.26 L616.42,334.24 L616.84,334.23 L617.26,334.21 L617.67,334.20" fill="none" stroke="#dd6a30" stroke-width="1.4" stroke-linejoin="round" stroke-linecap="round"/>
<path d="M278.33,521.44 L278.64,521.44 L278.95,521.43 L279.25,521.43 L279.56,521.42 L279.87,521.41 L280.18,521.40 L280.49,521.39 L280.80,521.37 L281.11,521.36 L281.42,521.34 L281.73,521.32 L282.04,521.30 L282.35,521.27 L282.66,521.25 L282.97,521.22 L283.27,521.19 L283.58,521.16 L283.89,521.13 L284.20,521.10 L284.51,521.07 L284.82,521.03 L285.13,520.99 L285.44,520.96 L285.75,520.92 L286.06,520.88 L286.37,520.84 L286.68,520.79 L286.99,520.75 L287.29,520.70 L287.60,520.66 L287.91,520.61 L288.22,520.56 L288.53,520.51 L288.84,520.46 L289.15,520.41 L289.46,520.36 L289.77,520.31 L290.08,520.25 L290.39,520.20 L290.70,520.15 L291.01,520.09 L291.31,520.03 L291.62,519.98 L291.93,519.92 L292.24,519.86 L292.55,519.79 L292.86,519.72 L293.17,519.64 L293.48,519.56 L293.79,519.47 L294.10,519.37 L294.41,519.27 L294.72,519.17 L295.02,519.05 L295.33,518.94 L295.64,518.82 L295.95,518.69 L296.26,518.55 L296.57,518.41 L296.88,518.27 L297.19,518.12 L297.50,517.96 L297.81,517.80 L298.12,517.63 L298.43,517.46 L298.74,517.28 L299.04,517.10 L299.35,516.91 L299.66,516.71 L299.97,516.51 L300.28,516.30 L300.59,516.08 L300.90,515.86 L301.21,515.64 L301.52,515.40 L301.83,515.14 L302.14,514.84 L302.45,514.51 L302.76,514.16 L303.06,513.77 L303.37,513.36 L303.68,512.92 L303.99,512.44 L304.30,511.94 L304.61,511.42 L304.92,510.86 L305.23,510.28 L305.54,509.67 L305.85,509.03 L306.16,508.36 L306.47,507.61 L306.78,506.76 L307.08,505.80 L307.39,504.76 L307.70,503.63 L308.01,502.42 L308.32,501.15 L308.63,499.82 L308.94,498.44 L309.25,497.01 L309.56,495.54 L309.87,494.04 L310.18,492.52 L310.49,490.98 L310.80,489.44 L311.10,487.83 L311.41,486.06 L311.72,484.15 L312.03,482.14 L312.34,480.03 L312.65,477.86 L312.96,475.65 L313.27,473.42 L313.58,471.20 L313.89,469.01 L314.20,466.88 L314.51,464.83 L314.81,462.88 L315.12,461.06 L315.43,459.39 L315.74,457.83 L316.05,456.29 L316.36,454.80 L316.67,453.35 L316.98,451.94 L317.29,450.58 L317.60,449.28 L317.91,448.04 L318.22,446.87 L318.53,445.76 L318.83,444.73 L319.14,443.77 L319.45,442.83 L319.76,441.92 L320.07,441.06 L320.38,440.26 L320.69,439.51 L321.00,438.84 L321.31,438.24 L321.62,437.74 L321.93,437.27 L322.24,436.83 L322.55,436.41 L322.85,436.02 L323.16,435.66 L323.47,435.35 L323.78,435.09 L324.09,434.89 L324.40,434.75 L324.71,434.62 L325.02,434.50 L325.33,434.40 L325.64,434.30 L325.95,434.21 L326.26,434.13 L326.57,434.07 L326.87,434.03 L327.18,434.00 L327.49,433.99" fill="none" stroke="#eda63a" stroke-width="1.4" stroke-linejoin="round" stroke-linecap="round"/>
<path d="M278.33,521.26 L278.65,521.26 L278.97,521.25 L279.28,521.25 L279.60,521.23 L279.92,521.22 L280.24,521.20 L280.56,521.18 L280.88,521.15 L281.20,521.13 L281.52,521.10 L281.84,521.06 L282.16,521.03 L282.48,520.99 L282.80,520.95 L283.11,520.91 L283.43,520.86 L283.75,520.81 L284.07,520.76 L284.39,520.71 L284.71,520.66 L285.03,520.60 L285.35,520.54 L285.67,520.48 L285.99,520.42 L286.31,520.36 L286.63,520.29 L286.95,520.22 L287.26,520.16 L287.58,520.09 L287.90,520.02 L288.22,519.94 L288.54,519.87 L288.86,519.79 L289.18,519.72 L289.50,519.64 L289.82,519.56 L290.14,519.49 L290.46,519.41 L290.78,519.33 L291.09,519.25 L291.41,519.17 L291.73,519.09 L292.05,519.00 L292.37,518.91 L292.69,518.82 L293.01,518.72 L293.33,518.62 L293.65,518.51 L293.97,518.40 L294.29,518.28 L294.61,518.15 L294.93,518.02 L295.24,517.88 L295.56,517.74 L295.88,517.59 L296.20,517.44 L296.52,517.28 L296.84,517.11 L297.16,516.93 L297.48,516.75 L297.80,516.57 L298.12,516.37 L298.44,516.17 L298.76,515.96 L299.07,515.75 L299.39,515.53 L299.71,515.30 L300.03,515.06 L300.35,514.82 L300.67,514.56 L300.99,514.28 L301.31,513.96 L301.63,513.61 L301.95,513.23 L302.27,512.82 L302.59,512.37 L302.91,511.91 L303.22,511.41 L303.54,510.89 L303.86,510.35 L304.18,509.78 L304.50,509.19 L304.82,508.58 L305.14,507.95 L305.46,507.30 L305.78,506.58 L306.10,505.81 L306.42,504.97 L306.74,504.08 L307.05,503.14 L307.37,502.14 L307.69,501.11 L308.01,500.03 L308.33,498.91 L308.65,497.76 L308.97,496.58 L309.29,495.37 L309.61,494.13 L309.93,492.88 L310.25,491.61 L310.57,490.32 L310.88,489.03 L311.20,487.67 L311.52,486.20 L311.84,484.65 L312.16,483.02 L312.48,481.33 L312.80,479.59 L313.12,477.81 L313.44,476.00 L313.76,474.18 L314.08,472.36 L314.40,470.55 L314.72,468.76 L315.03,467.01 L315.35,465.31 L315.67,463.66 L315.99,462.09 L316.31,460.60 L316.63,459.18 L316.95,457.77 L317.27,456.39 L317.59,455.02 L317.91,453.69 L318.23,452.39 L318.55,451.13 L318.86,449.92 L319.18,448.76 L319.50,447.66 L319.82,446.62 L320.14,445.64 L320.46,444.70 L320.78,443.78 L321.10,442.91 L321.42,442.07 L321.74,441.28 L322.06,440.54 L322.38,439.86 L322.70,439.24 L323.01,438.66 L323.33,438.08 L323.65,437.52 L323.97,436.98 L324.29,436.49 L324.61,436.06 L324.93,435.68 L325.25,435.39 L325.57,435.19 L325.89,435.02 L326.21,434.86 L326.53,434.71 L326.84,434.58 L327.16,434.45 L327.48,434.34 L327.80,434.25 L328.12,434.18 L328.44,434.12 L328.76,434.09 L329.08,434.08" fill="none" stroke="#22a07a" stroke-width="1.4" stroke-linejoin="round" stroke-linecap="round"/>
<path d="M278.33,521.70 L278.85,521.70 L279.37,521.69 L279.90,521.68 L280.42,521.67 L280.95,521.66 L281.47,521.64 L281.99,521.62 L282.52,521.59 L283.04,521.56 L283.56,521.53 L284.09,521.50 L284.61,521.46 L285.13,521.42 L285.66,521.38 L286.18,521.34 L286.71,521.29 L287.23,521.24 L287.75,521.18 L288.28,521.13 L288.80,521.07 L289.32,521.01 L289.85,520.95 L290.37,520.88 L290.90,520.81 L291.42,520.74 L291.94,520.67 L292.47,520.60 L292.99,520.52 L293.51,520.44 L294.04,520.36 L294.56,520.28 L295.08,520.19 L295.61,520.11 L296.13,520.02 L296.66,519.93 L297.18,519.83 L297.70,519.71 L298.23,519.57 L298.75,519.41 L299.27,519.23 L299.80,519.04 L300.32,518.83 L300.85,518.59 L301.37,518.34 L301.89,518.07 L302.42,517.78 L302.94,517.47 L303.46,517.14 L303.99,516.79 L304.51,516.42 L305.03,515.97 L305.56,515.41 L306.08,514.74 L306.61,513.97 L307.13,513.11 L307.65,512.18 L308.18,511.18 L308.70,510.13 L309.22,509.03 L309.75,507.84 L310.27,506.47 L310.80,504.95 L311.32,503.30 L311.84,501.52 L312.37,499.65 L312.89,497.69 L313.41,495.66 L313.94,493.59 L314.46,491.48 L314.98,489.35 L315.51,487.05 L316.03,484.56 L316.56,481.92 L317.08,479.17 L317.60,476.36 L318.13,473.52 L318.65,470.69 L319.17,467.91 L319.70,465.22 L320.22,462.66 L320.75,460.27 L321.27,457.98 L321.79,455.71 L322.32,453.49 L322.84,451.36 L323.36,449.37 L323.89,447.54 L324.41,445.93 L324.93,444.45 L325.46,443.09 L325.98,441.87 L326.51,440.82 L327.03,439.95 L327.55,439.13 L328.08,438.39 L328.60,437.73 L329.12,437.16 L329.65,436.69 L330.17,436.34 L330.69,436.01 L331.22,435.72 L331.74,435.45 L332.27,435.22 L332.79,435.03 L333.31,434.88 L333.84,434.78 L334.36,434.70 L334.88,434.63 L335.41,434.56 L335.93,434.50 L336.46,434.44 L336.98,434.39 L337.50,434.34 L338.03,434.30 L338.55,434.26 L339.07,434.22 L339.60,434.19 L340.12,434.16 L340.64,434.13 L341.17,434.11 L341.69,434.10 L342.22,434.08 L342.74,434.07 L343.26,434.06 L343.79,434.05 L344.31,434.04 L344.83,434.04 L345.36,434.03 L345.88,434.02 L346.41,434.01 L346.93,434.00 L347.45,434.00 L347.98,433.99 L348.50,433.98 L349.02,433.98 L349.55,433.97 L350.07,433.96 L350.59,433.96 L351.12,433.95 L351.64,433.95 L352.17,433.94 L352.69,433.94 L353.21,433.93 L353.74,433.93 L354.26,433.93 L354.78,433.92 L355.31,433.92 L355.83,433.92 L356.36,433.91 L356.88,433.91 L357.40,433.91 L357.93,433.91 L358.45,433.90 L358.97,433.90 L359.50,433.90 L360.02,433.90 L360.54,433.90 L361.07,433.90 L361.59,433.90" fill="none" stroke="#2a7cc0" stroke-width="1.4" stroke-linejoin="round" stroke-linecap="round"/>
<path d="M404.93,520.21 L405.18,520.17 L405.43,520.13 L405.68,520.09 L405.93,520.04 L406.18,519.99 L406.44,519.94 L406.69,519.89 L406.94,519.84 L407.19,519.78 L407.44,519.72 L407.69,519.66 L407.94,519.60 L408.19,519.53 L408.45,519.47 L408.70,519.40 L408.95,519.33 L409.20,519.25 L409.45,519.18 L409.70,519.10 L409.95,519.03 L410.21,518.95 L410.46,518.87 L410.71,518.78 L410.96,518.70 L411.21,518.62 L411.46,518.53 L411.71,518.45 L411.97,518.36 L412.22,518.27 L412.47,518.18 L412.72,518.09 L412.97,518.00 L413.22,517.91 L413.47,517.81 L413.72,517.72 L413.98,517.63 L414.23,517.53 L414.48,517.43 L414.73,517.33 L414.98,517.23 L415.23,517.12 L415.48,517.01 L415.74,516.90 L415.99,516.79 L416.24,516.67 L416.49,516.55 L416.74,516.43 L416.99,516.30 L417.24,516.17 L417.50,516.03 L417.75,515.89 L418.00,515.74 L418.25,515.59 L418.50,515.44 L418.75,515.28 L419.00,515.11 L419.25,514.94 L419.51,514.77 L419.76,514.59 L420.01,514.40 L420.26,514.20 L420.51,513.99 L420.76,513.77 L421.01,513.54 L421.27,513.30 L421.52,513.06 L421.77,512.80 L422.02,512.53 L422.27,512.26 L422.52,511.97 L422.77,511.68 L423.03,511.38 L423.28,511.06 L423.53,510.74 L423.78,510.41 L424.03,510.07 L424.28,509.72 L424.53,509.36 L424.78,509.00 L425.04,508.62 L425.29,508.24 L425.54,507.84 L425.79,507.44 L426.04,507.03 L426.29,506.61 L426.54,506.19 L426.80,505.75 L427.05,505.31 L427.30,504.85 L427.55,504.39 L427.80,503.92 L428.05,503.45 L428.30,502.96 L428.56,502.47 L428.81,501.97 L429.06,501.46 L429.31,500.92 L429.56,500.34 L429.81,499.73 L430.06,499.08 L430.31,498.39 L430.57,497.67 L430.82,496.92 L431.07,496.14 L431.32,495.34 L431.57,494.51 L431.82,493.65 L432.07,492.77 L432.33,491.87 L432.58,490.95 L432.83,490.01 L433.08,489.06 L433.33,488.09 L433.58,487.12 L433.83,486.13 L434.09,485.13 L434.34,484.12 L434.59,483.11 L434.84,482.10 L435.09,481.08 L435.34,480.07 L435.59,479.05 L435.85,478.04 L436.10,477.03 L436.35,476.03 L436.60,475.04 L436.85,474.05 L437.10,473.05 L437.35,472.03 L437.60,471.01 L437.86,469.98 L438.11,468.94 L438.36,467.89 L438.61,466.82 L438.86,465.75 L439.11,464.66 L439.36,463.56 L439.62,462.45 L439.87,461.32 L440.12,460.18 L440.37,459.03 L440.62,457.86 L440.87,456.68 L441.12,455.48 L441.38,454.27 L441.63,453.04 L441.88,451.79 L442.13,450.53 L442.38,449.24 L442.63,447.91 L442.88,446.55 L443.13,445.16 L443.39,443.74 L443.64,442.29 L443.89,440.82 L444.14,439.34 L444.39,437.83 L444.64,436.31 L444.89,434.78" fill="none" stroke="#22a07a" stroke-width="1.4" stroke-linejoin="round" stroke-linecap="round"/>
<path d="M404.93,521.35 L405.21,521.33 L405.50,521.31 L405.79,521.29 L406.07,521.27 L406.36,521.25 L406.65,521.23 L406.93,521.20 L407.22,521.18 L407.51,521.15 L407.79,521.12 L408.08,521.09 L408.37,521.06 L408.66,521.03 L408.94,521.00 L409.23,520.97 L409.52,520.94 L409.80,520.90 L410.09,520.87 L410.38,520.83 L410.66,520.80 L410.95,520.76 L411.24,520.72 L411.52,520.68 L411.81,520.64 L412.10,520.61 L412.38,520.57 L412.67,520.52 L412.96,520.48 L413.24,520.44 L413.53,520.40 L413.82,520.36 L414.10,520.32 L414.39,520.27 L414.68,520.23 L414.96,520.19 L415.25,520.15 L415.54,520.10 L415.82,520.06 L416.11,520.01 L416.40,519.97 L416.68,519.92 L416.97,519.87 L417.26,519.82 L417.55,519.77 L417.83,519.72 L418.12,519.67 L418.41,519.61 L418.69,519.55 L418.98,519.49 L419.27,519.43 L419.55,519.37 L419.84,519.30 L420.13,519.23 L420.41,519.16 L420.70,519.08 L420.99,519.01 L421.27,518.93 L421.56,518.84 L421.85,518.75 L422.13,518.66 L422.42,518.57 L422.71,518.47 L422.99,518.37 L423.28,518.26 L423.57,518.15 L423.85,518.03 L424.14,517.88 L424.43,517.71 L424.71,517.52 L425.00,517.31 L425.29,517.08 L425.57,516.83 L425.86,516.57 L426.15,516.29 L426.44,515.99 L426.72,515.68 L427.01,515.35 L427.30,515.00 L427.58,514.65 L427.87,514.28 L428.16,513.90 L428.44,513.50 L428.73,513.10 L429.02,512.68 L429.30,512.25 L429.59,511.82 L429.88,511.38 L430.16,510.92 L430.45,510.47 L430.74,510.00 L431.02,509.53 L431.31,509.04 L431.60,508.52 L431.88,507.96 L432.17,507.37 L432.46,506.74 L432.74,506.08 L433.03,505.39 L433.32,504.67 L433.60,503.92 L433.89,503.15 L434.18,502.34 L434.47,501.51 L434.75,500.65 L435.04,499.77 L435.33,498.87 L435.61,497.94 L435.90,496.99 L436.19,496.02 L436.47,495.04 L436.76,494.04 L437.05,493.01 L437.33,491.98 L437.62,490.93 L437.91,489.86 L438.19,488.79 L438.48,487.68 L438.77,486.49 L439.05,485.21 L439.34,483.86 L439.63,482.43 L439.91,480.93 L440.20,479.38 L440.49,477.79 L440.77,476.15 L441.06,474.49 L441.35,472.80 L441.63,471.10 L441.92,469.38 L442.21,467.68 L442.49,465.98 L442.78,464.29 L443.07,462.64 L443.36,461.01 L443.64,459.43 L443.93,457.90 L444.22,456.43 L444.50,455.02 L444.79,453.69 L445.08,452.42 L445.36,451.16 L445.65,449.91 L445.94,448.67 L446.22,447.46 L446.51,446.27 L446.80,445.12 L447.08,444.01 L447.37,442.94 L447.66,441.92 L447.94,440.96 L448.23,440.07 L448.52,439.24 L448.80,438.47 L449.09,437.74 L449.38,437.05 L449.66,436.41 L449.95,435.82 L450.24,435.27 L450.52,434.78" fill="none" stroke="#eda63a" stroke-width="1.4" stroke-linejoin="round" stroke-linecap="round"/>
<path d="M404.93,521.52 L405.38,521.50 L405.84,521.47 L406.30,521.45 L406.75,521.42 L407.21,521.39 L407.67,521.36 L408.12,521.32 L408.58,521.29 L409.04,521.25 L409.50,521.21 L409.95,521.17 L410.41,521.13 L410.87,521.09 L411.32,521.05 L411.78,521.01 L412.24,520.96 L412.69,520.92 L413.15,520.87 L413.61,520.83 L414.06,520.78 L414.52,520.73 L414.98,520.69 L415.43,520.64 L415.89,520.60 L416.35,520.55 L416.81,520.51 L417.26,520.46 L417.72,520.41 L418.18,520.36 L418.63,520.31 L419.09,520.26 L419.55,520.20 L420.00,520.14 L420.46,520.07 L420.92,520.01 L421.37,519.93 L421.83,519.86 L422.29,519.78 L422.74,519.69 L423.20,519.60 L423.66,519.50 L424.11,519.39 L424.57,519.28 L425.03,519.16 L425.49,519.04 L425.94,518.86 L426.40,518.62 L426.86,518.32 L427.31,517.97 L427.77,517.56 L428.23,517.10 L428.68,516.60 L429.14,516.05 L429.60,515.46 L430.05,514.84 L430.51,514.19 L430.97,513.51 L431.42,512.80 L431.88,512.07 L432.34,511.32 L432.79,510.56 L433.25,509.79 L433.71,509.00 L434.17,508.12 L434.62,507.14 L435.08,506.09 L435.54,504.95 L435.99,503.73 L436.45,502.45 L436.91,501.11 L437.36,499.71 L437.82,498.26 L438.28,496.77 L438.73,495.24 L439.19,493.67 L439.65,492.09 L440.10,490.48 L440.56,488.83 L441.02,487.03 L441.47,485.11 L441.93,483.08 L442.39,480.96 L442.85,478.77 L443.30,476.51 L443.76,474.22 L444.22,471.90 L444.67,469.57 L445.13,467.25 L445.59,464.96 L446.04,462.71 L446.50,460.52 L446.96,458.40 L447.41,456.38 L447.87,454.47 L448.33,452.53 L448.78,450.56 L449.24,448.59 L449.70,446.69 L450.15,444.88 L450.61,443.21 L451.07,441.73 L451.53,440.48 L451.98,439.47 L452.44,438.53 L452.90,437.68 L453.35,436.96 L453.81,436.40 L454.27,436.03 L454.72,435.75 L455.18,435.50 L455.64,435.27 L456.09,435.06 L456.55,434.88 L457.01,434.72 L457.46,434.59 L457.92,434.48 L458.38,434.40 L458.84,434.34 L459.29,434.30 L459.75,434.26 L460.21,434.22 L460.66,434.18 L461.12,434.15 L461.58,434.12 L462.03,434.09 L462.49,434.07 L462.95,434.05 L463.40,434.03 L463.86,434.02 L464.32,434.00 L464.77,433.99 L465.23,433.99 L465.69,433.98 L466.14,433.98 L466.60,433.97 L467.06,433.96 L467.52,433.96 L467.97,433.95 L468.43,433.95 L468.89,433.94 L469.34,433.94 L469.80,433.94 L470.26,433.93 L470.71,433.93 L471.17,433.92 L471.63,433.92 L472.08,433.92 L472.54,433.92 L473.00,433.91 L473.45,433.91 L473.91,433.91 L474.37,433.91 L474.82,433.90 L475.28,433.90 L475.74,433.90 L476.20,433.90 L476.65,433.90 L477.11,433.90 L477.57,433.90" fill="none" stroke="#2a7cc0" stroke-width="1.4" stroke-linejoin="round" stroke-linecap="round"/>
<path d="M532.03,521.44 L532.46,521.42 L532.88,521.41 L533.31,521.39 L533.74,521.37 L534.17,521.35 L534.60,521.33 L535.03,521.31 L535.46,521.28 L535.89,521.26 L536.32,521.23 L536.75,521.20 L537.17,521.17 L537.60,521.14 L538.03,521.10 L538.46,521.07 L538.89,521.03 L539.32,521.00 L539.75,520.96 L540.18,520.92 L540.61,520.88 L541.03,520.84 L541.46,520.80 L541.89,520.76 L542.32,520.72 L542.75,520.67 L543.18,520.63 L543.61,520.59 L544.04,520.54 L544.47,520.50 L544.89,520.45 L545.32,520.41 L545.75,520.36 L546.18,520.31 L546.61,520.26 L547.04,520.21 L547.47,520.15 L547.90,520.10 L548.33,520.04 L548.75,519.98 L549.18,519.91 L549.61,519.84 L550.04,519.77 L550.47,519.70 L550.90,519.62 L551.33,519.53 L551.76,519.44 L552.19,519.35 L552.62,519.25 L553.04,519.14 L553.47,519.01 L553.90,518.87 L554.33,518.72 L554.76,518.55 L555.19,518.37 L555.62,518.17 L556.05,517.97 L556.48,517.75 L556.90,517.52 L557.33,517.28 L557.76,517.03 L558.19,516.77 L558.62,516.50 L559.05,516.22 L559.48,515.94 L559.91,515.64 L560.34,515.33 L560.76,515.00 L561.19,514.64 L561.62,514.26 L562.05,513.85 L562.48,513.42 L562.91,512.96 L563.34,512.48 L563.77,511.96 L564.20,511.42 L564.62,510.85 L565.05,510.25 L565.48,509.62 L565.91,508.91 L566.34,508.12 L566.77,507.25 L567.20,506.31 L567.63,505.31 L568.06,504.24 L568.49,503.13 L568.91,501.96 L569.34,500.76 L569.77,499.52 L570.20,498.19 L570.63,496.73 L571.06,495.17 L571.49,493.52 L571.92,491.81 L572.35,490.03 L572.77,488.23 L573.20,486.40 L573.63,484.52 L574.06,482.55 L574.49,480.49 L574.92,478.38 L575.35,476.23 L575.78,474.07 L576.21,471.92 L576.63,469.78 L577.06,467.56 L577.49,465.29 L577.92,463.02 L578.35,460.81 L578.78,458.70 L579.21,456.74 L579.64,454.88 L580.07,453.04 L580.49,451.26 L580.92,449.60 L581.35,448.08 L581.78,446.75 L582.21,445.62 L582.64,444.60 L583.07,443.66 L583.50,442.80 L583.93,442.00 L584.36,441.27 L584.78,440.59 L585.21,439.97 L585.64,439.38 L586.07,438.81 L586.50,438.27 L586.93,437.78 L587.36,437.33 L587.79,436.94 L588.22,436.61 L588.64,436.34 L589.07,436.07 L589.50,435.83 L589.93,435.60 L590.36,435.39 L590.79,435.21 L591.22,435.05 L591.65,434.92 L592.08,434.82 L592.50,434.74 L592.93,434.68 L593.36,434.62 L593.79,434.56 L594.22,434.50 L594.65,434.44 L595.08,434.39 L595.51,434.34 L595.94,434.30 L596.36,434.26 L596.79,434.22 L597.22,434.19 L597.65,434.16 L598.08,434.13 L598.51,434.11 L598.94,434.10 L599.37,434.09 L599.80,434.08 L600.23,434.08" fill="none" stroke="#22a07a" stroke-width="1.4" stroke-linejoin="round" stroke-linecap="round"/>
<path d="M556.37,519.24 L556.67,519.18 L556.97,519.12 L557.27,519.04 L557.57,518.95 L557.87,518.85 L558.17,518.74 L558.47,518.63 L558.77,518.50 L559.07,518.37 L559.36,518.23 L559.66,518.08 L559.96,517.93 L560.26,517.77 L560.56,517.60 L560.86,517.43 L561.16,517.25 L561.46,517.07 L561.76,516.88 L562.06,516.69 L562.36,516.50 L562.66,516.30 L562.96,516.10 L563.25,515.90 L563.55,515.70 L563.85,515.49 L564.15,515.26 L564.45,515.03 L564.75,514.79 L565.05,514.53 L565.35,514.26 L565.65,513.98 L565.95,513.68 L566.25,513.38 L566.55,513.06 L566.85,512.73 L567.14,512.38 L567.44,512.02 L567.74,511.65 L568.04,511.27 L568.34,510.87 L568.64,510.45 L568.94,510.02 L569.24,509.57 L569.54,509.08 L569.84,508.55 L570.14,507.98 L570.44,507.38 L570.74,506.73 L571.04,506.06 L571.33,505.35 L571.63,504.62 L571.93,503.86 L572.23,503.07 L572.53,502.26 L572.83,501.44 L573.13,500.59 L573.43,499.73 L573.73,498.82 L574.03,497.86 L574.33,496.84 L574.63,495.76 L574.93,494.64 L575.22,493.48 L575.52,492.29 L575.82,491.07 L576.12,489.83 L576.42,488.56 L576.72,487.29 L577.02,486.01 L577.32,484.70 L577.62,483.34 L577.92,481.93 L578.22,480.49 L578.52,479.02 L578.82,477.53 L579.11,476.03 L579.41,474.52 L579.71,473.02 L580.01,471.52 L580.31,470.03 L580.61,468.49 L580.91,466.93 L581.21,465.34 L581.51,463.76 L581.81,462.19 L582.11,460.66 L582.41,459.17 L582.71,457.76 L583.00,456.44 L583.30,455.14 L583.60,453.84 L583.90,452.58 L584.20,451.35 L584.50,450.16 L584.80,449.05 L585.10,448.01 L585.40,447.07 L585.70,446.23 L586.00,445.48 L586.30,444.76 L586.60,444.09 L586.90,443.45 L587.19,442.85 L587.49,442.29 L587.79,441.75 L588.09,441.25 L588.39,440.77 L588.69,440.33 L588.99,439.90 L589.29,439.48 L589.59,439.08 L589.89,438.69 L590.19,438.32 L590.49,437.97 L590.79,437.64 L591.08,437.33 L591.38,437.05 L591.68,436.80 L591.98,436.58 L592.28,436.39 L592.58,436.21 L592.88,436.03 L593.18,435.86 L593.48,435.69 L593.78,435.54 L594.08,435.40 L594.38,435.27 L594.68,435.15 L594.97,435.04 L595.27,434.95 L595.57,434.87 L595.87,434.80 L596.17,434.75 L596.47,434.71 L596.77,434.66 L597.07,434.62 L597.37,434.58 L597.67,434.54 L597.97,434.50 L598.27,434.46 L598.57,434.42 L598.86,434.39 L599.16,434.35 L599.46,434.32 L599.76,434.29 L600.06,434.26 L600.36,434.24 L600.66,434.21 L600.96,434.19 L601.26,434.17 L601.56,434.15 L601.86,434.13 L602.16,434.12 L602.46,434.10 L602.76,434.09 L603.05,434.09 L603.35,434.08 L603.65,434.08 L603.95,434.08" fill="none" stroke="#eda63a" stroke-width="1.4" stroke-linejoin="round" stroke-linecap="round"/>
<path d="M532.03,521.70 L532.53,521.70 L533.03,521.69 L533.54,521.69 L534.04,521.68 L534.55,521.66 L535.05,521.65 L535.55,521.63 L536.06,521.61 L536.56,521.58 L537.06,521.56 L537.57,521.53 L538.07,521.50 L538.58,521.47 L539.08,521.44 L539.58,521.40 L540.09,521.37 L540.59,521.33 L541.09,521.29 L541.60,521.25 L542.10,521.21 L542.61,521.17 L543.11,521.13 L543.61,521.09 L544.12,521.05 L544.62,521.01 L545.12,520.96 L545.63,520.91 L546.13,520.86 L546.64,520.81 L547.14,520.75 L547.64,520.69 L548.15,520.62 L548.65,520.55 L549.15,520.47 L549.66,520.39 L550.16,520.31 L550.66,520.22 L551.17,520.13 L551.67,520.04 L552.18,519.94 L552.68,519.83 L553.18,519.72 L553.69,519.61 L554.19,519.49 L554.69,519.37 L555.20,519.24 L555.70,519.10 L556.21,518.94 L556.71,518.76 L557.21,518.56 L557.72,518.35 L558.22,518.12 L558.72,517.88 L559.23,517.62 L559.73,517.34 L560.24,517.05 L560.74,516.75 L561.24,516.44 L561.75,516.11 L562.25,515.78 L562.75,515.42 L563.26,515.03 L563.76,514.61 L564.27,514.16 L564.77,513.67 L565.27,513.15 L565.78,512.59 L566.28,511.99 L566.78,511.36 L567.29,510.68 L567.79,509.96 L568.30,509.18 L568.80,508.27 L569.30,507.26 L569.81,506.15 L570.31,504.95 L570.81,503.67 L571.32,502.33 L571.82,500.93 L572.33,499.48 L572.83,497.89 L573.33,496.14 L573.84,494.26 L574.34,492.27 L574.84,490.20 L575.35,488.07 L575.85,485.92 L576.36,483.68 L576.86,481.31 L577.36,478.84 L577.87,476.33 L578.37,473.79 L578.87,471.27 L579.38,468.72 L579.88,466.08 L580.39,463.41 L580.89,460.80 L581.39,458.34 L581.90,456.08 L582.40,453.90 L582.90,451.79 L583.41,449.80 L583.91,448.01 L584.41,446.48 L584.92,445.21 L585.42,444.06 L585.93,443.01 L586.43,442.06 L586.93,441.20 L587.44,440.42 L587.94,439.70 L588.44,439.02 L588.95,438.38 L589.45,437.79 L589.96,437.27 L590.46,436.83 L590.96,436.47 L591.47,436.16 L591.97,435.87 L592.47,435.60 L592.98,435.36 L593.48,435.15 L593.99,434.98 L594.49,434.84 L594.99,434.75 L595.50,434.68 L596.00,434.61 L596.50,434.54 L597.01,434.48 L597.51,434.42 L598.02,434.37 L598.52,434.32 L599.02,434.28 L599.53,434.24 L600.03,434.21 L600.53,434.18 L601.04,434.15 L601.54,434.12 L602.05,434.10 L602.55,434.08 L603.05,434.07 L603.56,434.05 L604.06,434.04 L604.56,434.02 L605.07,434.01 L605.57,433.99 L606.08,433.98 L606.58,433.97 L607.08,433.96 L607.59,433.95 L608.09,433.94 L608.59,433.93 L609.10,433.92 L609.60,433.92 L610.11,433.91 L610.61,433.91 L611.11,433.90 L611.62,433.90 L612.12,433.90" fill="none" stroke="#2a7cc0" stroke-width="1.4" stroke-linejoin="round" stroke-linecap="round"/>
<path d="M278.33,621.22 L278.66,621.21 L279.00,621.20 L279.33,621.18 L279.66,621.17 L280.00,621.15 L280.33,621.14 L280.67,621.12 L281.00,621.11 L281.33,621.09 L281.67,621.08 L282.00,621.06 L282.34,621.04 L282.67,621.03 L283.01,621.01 L283.34,620.99 L283.67,620.97 L284.01,620.95 L284.34,620.94 L284.68,620.92 L285.01,620.90 L285.34,620.88 L285.68,620.86 L286.01,620.84 L286.35,620.82 L286.68,620.80 L287.02,620.78 L287.35,620.76 L287.68,620.74 L288.02,620.72 L288.35,620.70 L288.69,620.67 L289.02,620.65 L289.35,620.63 L289.69,620.61 L290.02,620.59 L290.36,620.57 L290.69,620.54 L291.02,620.52 L291.36,620.50 L291.69,620.48 L292.03,620.46 L292.36,620.44 L292.70,620.42 L293.03,620.40 L293.36,620.38 L293.70,620.35 L294.03,620.33 L294.37,620.31 L294.70,620.28 L295.03,620.25 L295.37,620.22 L295.70,620.19 L296.04,620.15 L296.37,620.11 L296.71,620.06 L297.04,620.01 L297.37,619.94 L297.71,619.86 L298.04,619.78 L298.38,619.68 L298.71,619.57 L299.04,619.45 L299.38,619.31 L299.71,619.17 L300.05,619.02 L300.38,618.86 L300.72,618.69 L301.05,618.52 L301.38,618.33 L301.72,618.13 L302.05,617.93 L302.39,617.70 L302.72,617.43 L303.05,617.11 L303.39,616.76 L303.72,616.36 L304.06,615.92 L304.39,615.45 L304.73,614.95 L305.06,614.41 L305.39,613.85 L305.73,613.27 L306.06,612.66 L306.40,611.99 L306.73,611.23 L307.06,610.38 L307.40,609.45 L307.73,608.45 L308.07,607.39 L308.40,606.27 L308.74,605.12 L309.07,603.93 L309.40,602.71 L309.74,601.48 L310.07,600.24 L310.41,598.96 L310.74,597.62 L311.07,596.22 L311.41,594.78 L311.74,593.27 L312.08,591.72 L312.41,590.13 L312.75,588.48 L313.08,586.80 L313.41,585.07 L313.75,583.31 L314.08,581.51 L314.42,579.60 L314.75,577.58 L315.08,575.47 L315.42,573.30 L315.75,571.09 L316.09,568.87 L316.42,566.68 L316.76,564.53 L317.09,562.39 L317.42,560.16 L317.76,557.92 L318.09,555.71 L318.43,553.57 L318.76,551.58 L319.09,549.77 L319.43,548.12 L319.76,546.52 L320.10,544.99 L320.43,543.55 L320.76,542.23 L321.10,541.05 L321.43,540.04 L321.77,539.19 L322.10,538.39 L322.44,537.64 L322.77,536.96 L323.10,536.36 L323.44,535.87 L323.77,535.49 L324.11,535.22 L324.44,534.98 L324.77,534.77 L325.11,534.58 L325.44,534.42 L325.78,534.28 L326.11,534.17 L326.45,534.08 L326.78,534.03 L327.11,533.98 L327.45,533.94 L327.78,533.90 L328.12,533.87 L328.45,533.84 L328.78,533.81 L329.12,533.78 L329.45,533.76 L329.79,533.74 L330.12,533.72 L330.46,533.71 L330.79,533.70 L331.12,533.69 L331.46,533.69" fill="none" stroke="#eda63a" stroke-width="1.4" stroke-linejoin="round" stroke-linecap="round"/>
<path d="M277.69,620.96 L278.21,620.92 L278.73,620.87 L279.25,620.82 L279.77,620.76 L280.29,620.70 L280.80,620.63 L281.32,620.56 L281.84,620.48 L282.36,620.40 L282.88,620.32 L283.40,620.23 L283.92,620.14 L284.44,620.04 L284.95,619.94 L285.47,619.84 L285.99,619.74 L286.51,619.63 L287.03,619.52 L287.55,619.41 L288.07,619.29 L288.59,619.18 L289.10,619.06 L289.62,618.94 L290.14,618.82 L290.66,618.70 L291.18,618.58 L291.70,618.45 L292.22,618.31 L292.73,618.16 L293.25,618.01 L293.77,617.85 L294.29,617.67 L294.81,617.48 L295.33,617.27 L295.85,617.05 L296.37,616.80 L296.88,616.52 L297.40,616.19 L297.92,615.84 L298.44,615.45 L298.96,615.03 L299.48,614.59 L300.00,614.11 L300.52,613.61 L301.03,613.09 L301.55,612.55 L302.07,611.96 L302.59,611.31 L303.11,610.60 L303.63,609.81 L304.15,608.96 L304.66,608.03 L305.18,607.02 L305.70,605.91 L306.22,604.58 L306.74,603.06 L307.26,601.37 L307.78,599.55 L308.30,597.63 L308.81,595.64 L309.33,593.62 L309.85,591.52 L310.37,589.28 L310.89,586.89 L311.41,584.39 L311.93,581.79 L312.44,579.11 L312.96,576.31 L313.48,573.30 L314.00,570.16 L314.52,566.99 L315.04,563.89 L315.56,560.70 L316.08,557.46 L316.59,554.32 L317.11,551.43 L317.63,548.90 L318.15,546.49 L318.67,544.26 L319.19,542.29 L319.71,540.66 L320.23,539.29 L320.74,538.03 L321.26,536.96 L321.78,536.14 L322.30,535.63 L322.82,535.25 L323.34,534.95 L323.86,534.70 L324.37,534.51 L324.89,534.35 L325.41,534.22 L325.93,534.11 L326.45,534.04 L326.97,534.00 L327.49,533.95 L328.01,533.92 L328.52,533.88 L329.04,533.85 L329.56,533.82 L330.08,533.79 L330.60,533.77 L331.12,533.75 L331.64,533.73 L332.16,533.72 L332.67,533.71 L333.19,533.70 L333.71,533.69 L334.23,533.69 L334.75,533.68 L335.27,533.68 L335.79,533.68 L336.30,533.67 L336.82,533.67 L337.34,533.66 L337.86,533.66 L338.38,533.66 L338.90,533.66 L339.42,533.65 L339.94,533.65 L340.45,533.65 L340.97,533.64 L341.49,533.64 L342.01,533.64 L342.53,533.64 L343.05,533.63 L343.57,533.63 L344.09,533.63 L344.60,533.63 L345.12,533.63 L345.64,533.62 L346.16,533.62 L346.68,533.62 L347.20,533.62 L347.72,533.62 L348.23,533.62 L348.75,533.61 L349.27,533.61 L349.79,533.61 L350.31,533.61 L350.83,533.61 L351.35,533.61 L351.87,533.61 L352.38,533.61 L352.90,533.61 L353.42,533.60 L353.94,533.60 L354.46,533.60 L354.98,533.60 L355.50,533.60 L356.02,533.60 L356.53,533.60 L357.05,533.60 L357.57,533.60 L358.09,533.60 L358.61,533.60 L359.13,533.60 L359.65,533.60 L360.16,533.60" fill="none" stroke="#22a07a" stroke-width="1.4" stroke-linejoin="round" stroke-linecap="round"/>
<path d="M278.01,620.96 L278.53,620.92 L279.05,620.87 L279.57,620.82 L280.08,620.76 L280.60,620.70 L281.12,620.63 L281.64,620.56 L282.16,620.48 L282.68,620.40 L283.20,620.32 L283.72,620.23 L284.23,620.14 L284.75,620.04 L285.27,619.94 L285.79,619.84 L286.31,619.74 L286.83,619.63 L287.35,619.52 L287.86,619.41 L288.38,619.29 L288.90,619.18 L289.42,619.06 L289.94,618.94 L290.46,618.82 L290.98,618.70 L291.50,618.58 L292.01,618.45 L292.53,618.31 L293.05,618.16 L293.57,618.01 L294.09,617.85 L294.61,617.67 L295.13,617.48 L295.65,617.27 L296.16,617.05 L296.68,616.80 L297.20,616.52 L297.72,616.19 L298.24,615.84 L298.76,615.45 L299.28,615.03 L299.79,614.59 L300.31,614.11 L300.83,613.61 L301.35,613.09 L301.87,612.55 L302.39,611.96 L302.91,611.31 L303.43,610.60 L303.94,609.81 L304.46,608.96 L304.98,608.03 L305.50,607.02 L306.02,605.91 L306.54,604.58 L307.06,603.06 L307.58,601.37 L308.09,599.55 L308.61,597.63 L309.13,595.64 L309.65,593.62 L310.17,591.52 L310.69,589.28 L311.21,586.89 L311.72,584.39 L312.24,581.79 L312.76,579.11 L313.28,576.31 L313.80,573.30 L314.32,570.16 L314.84,566.99 L315.36,563.89 L315.87,560.70 L316.39,557.46 L316.91,554.32 L317.43,551.43 L317.95,548.90 L318.47,546.49 L318.99,544.26 L319.51,542.29 L320.02,540.66 L320.54,539.29 L321.06,538.03 L321.58,536.96 L322.10,536.14 L322.62,535.63 L323.14,535.25 L323.65,534.95 L324.17,534.70 L324.69,534.51 L325.21,534.35 L325.73,534.22 L326.25,534.11 L326.77,534.04 L327.29,534.00 L327.80,533.95 L328.32,533.92 L328.84,533.88 L329.36,533.85 L329.88,533.82 L330.40,533.79 L330.92,533.77 L331.44,533.75 L331.95,533.73 L332.47,533.72 L332.99,533.71 L333.51,533.70 L334.03,533.69 L334.55,533.69 L335.07,533.68 L335.58,533.68 L336.10,533.68 L336.62,533.67 L337.14,533.67 L337.66,533.66 L338.18,533.66 L338.70,533.66 L339.22,533.66 L339.73,533.65 L340.25,533.65 L340.77,533.65 L341.29,533.64 L341.81,533.64 L342.33,533.64 L342.85,533.64 L343.36,533.63 L343.88,533.63 L344.40,533.63 L344.92,533.63 L345.44,533.63 L345.96,533.62 L346.48,533.62 L347.00,533.62 L347.51,533.62 L348.03,533.62 L348.55,533.62 L349.07,533.61 L349.59,533.61 L350.11,533.61 L350.63,533.61 L351.15,533.61 L351.66,533.61 L352.18,533.61 L352.70,533.61 L353.22,533.61 L353.74,533.60 L354.26,533.60 L354.78,533.60 L355.29,533.60 L355.81,533.60 L356.33,533.60 L356.85,533.60 L357.37,533.60 L357.89,533.60 L358.41,533.60 L358.93,533.60 L359.44,533.60 L359.96,533.60 L360.48,533.60" fill="none" stroke="#2a7cc0" stroke-width="1.4" stroke-linejoin="round" stroke-linecap="round"/>
<path d="M278.33,620.96 L278.85,620.92 L279.36,620.87 L279.88,620.82 L280.40,620.76 L280.92,620.70 L281.44,620.63 L281.96,620.56 L282.48,620.48 L283.00,620.40 L283.51,620.32 L284.03,620.23 L284.55,620.14 L285.07,620.04 L285.59,619.94 L286.11,619.84 L286.63,619.74 L287.14,619.63 L287.66,619.52 L288.18,619.41 L288.70,619.29 L289.22,619.18 L289.74,619.06 L290.26,618.94 L290.78,618.82 L291.29,618.70 L291.81,618.58 L292.33,618.45 L292.85,618.31 L293.37,618.16 L293.89,618.01 L294.41,617.85 L294.93,617.67 L295.44,617.48 L295.96,617.27 L296.48,617.05 L297.00,616.80 L297.52,616.52 L298.04,616.19 L298.56,615.84 L299.07,615.45 L299.59,615.03 L300.11,614.59 L300.63,614.11 L301.15,613.61 L301.67,613.09 L302.19,612.55 L302.71,611.96 L303.22,611.31 L303.74,610.60 L304.26,609.81 L304.78,608.96 L305.30,608.03 L305.82,607.02 L306.34,605.91 L306.86,604.58 L307.37,603.06 L307.89,601.37 L308.41,599.55 L308.93,597.63 L309.45,595.64 L309.97,593.62 L310.49,591.52 L311.00,589.28 L311.52,586.89 L312.04,584.39 L312.56,581.79 L313.08,579.11 L313.60,576.31 L314.12,573.30 L314.64,570.16 L315.15,566.99 L315.67,563.89 L316.19,560.70 L316.71,557.46 L317.23,554.32 L317.75,551.43 L318.27,548.90 L318.78,546.49 L319.30,544.26 L319.82,542.29 L320.34,540.66 L320.86,539.29 L321.38,538.03 L321.90,536.96 L322.42,536.14 L322.93,535.63 L323.45,535.25 L323.97,534.95 L324.49,534.70 L325.01,534.51 L325.53,534.35 L326.05,534.22 L326.57,534.11 L327.08,534.04 L327.60,534.00 L328.12,533.95 L328.64,533.92 L329.16,533.88 L329.68,533.85 L330.20,533.82 L330.71,533.79 L331.23,533.77 L331.75,533.75 L332.27,533.73 L332.79,533.72 L333.31,533.71 L333.83,533.70 L334.35,533.69 L334.86,533.69 L335.38,533.68 L335.90,533.68 L336.42,533.68 L336.94,533.67 L337.46,533.67 L337.98,533.66 L338.50,533.66 L339.01,533.66 L339.53,533.66 L340.05,533.65 L340.57,533.65 L341.09,533.65 L341.61,533.64 L342.13,533.64 L342.64,533.64 L343.16,533.64 L343.68,533.63 L344.20,533.63 L344.72,533.63 L345.24,533.63 L345.76,533.63 L346.28,533.62 L346.79,533.62 L347.31,533.62 L347.83,533.62 L348.35,533.62 L348.87,533.62 L349.39,533.61 L349.91,533.61 L350.43,533.61 L350.94,533.61 L351.46,533.61 L351.98,533.61 L352.50,533.61 L353.02,533.61 L353.54,533.61 L354.06,533.60 L354.57,533.60 L355.09,533.60 L355.61,533.60 L356.13,533.60 L356.65,533.60 L357.17,533.60 L357.69,533.60 L358.21,533.60 L358.72,533.60 L359.24,533.60 L359.76,533.60 L360.28,533.60 L360.80,533.60" fill="none" stroke="#dd6a30" stroke-width="1.4" stroke-linejoin="round" stroke-linecap="round"/>
<path d="M404.93,618.94 L405.18,618.89 L405.43,618.83 L405.68,618.78 L405.93,618.72 L406.18,618.66 L406.44,618.60 L406.69,618.53 L406.94,618.46 L407.19,618.40 L407.44,618.33 L407.69,618.25 L407.94,618.18 L408.19,618.11 L408.45,618.03 L408.70,617.95 L408.95,617.87 L409.20,617.79 L409.45,617.71 L409.70,617.62 L409.95,617.54 L410.21,617.45 L410.46,617.36 L410.71,617.27 L410.96,617.18 L411.21,617.09 L411.46,616.99 L411.71,616.90 L411.97,616.80 L412.22,616.70 L412.47,616.61 L412.72,616.51 L412.97,616.41 L413.22,616.31 L413.47,616.20 L413.72,616.10 L413.98,616.00 L414.23,615.89 L414.48,615.79 L414.73,615.68 L414.98,615.57 L415.23,615.46 L415.48,615.35 L415.74,615.24 L415.99,615.12 L416.24,615.01 L416.49,614.89 L416.74,614.77 L416.99,614.64 L417.24,614.52 L417.50,614.39 L417.75,614.26 L418.00,614.13 L418.25,614.00 L418.50,613.86 L418.75,613.73 L419.00,613.58 L419.25,613.44 L419.51,613.29 L419.76,613.14 L420.01,612.99 L420.26,612.83 L420.51,612.67 L420.76,612.51 L421.01,612.34 L421.27,612.17 L421.52,612.00 L421.77,611.82 L422.02,611.64 L422.27,611.46 L422.52,611.27 L422.77,611.08 L423.03,610.88 L423.28,610.68 L423.53,610.48 L423.78,610.26 L424.03,610.03 L424.28,609.79 L424.53,609.53 L424.78,609.26 L425.04,608.98 L425.29,608.69 L425.54,608.39 L425.79,608.08 L426.04,607.76 L426.29,607.43 L426.54,607.08 L426.80,606.74 L427.05,606.38 L427.30,606.01 L427.55,605.64 L427.80,605.26 L428.05,604.88 L428.30,604.49 L428.56,604.10 L428.81,603.70 L429.06,603.29 L429.31,602.87 L429.56,602.44 L429.81,602.00 L430.06,601.54 L430.31,601.07 L430.57,600.58 L430.82,600.08 L431.07,599.56 L431.32,599.02 L431.57,598.46 L431.82,597.88 L432.07,597.27 L432.33,596.64 L432.58,595.99 L432.83,595.31 L433.08,594.59 L433.33,593.80 L433.58,592.96 L433.83,592.08 L434.09,591.15 L434.34,590.18 L434.59,589.17 L434.84,588.12 L435.09,587.05 L435.34,585.95 L435.59,584.83 L435.85,583.69 L436.10,582.50 L436.35,581.24 L436.60,579.92 L436.85,578.54 L437.10,577.11 L437.35,575.64 L437.60,574.14 L437.86,572.62 L438.11,571.09 L438.36,569.55 L438.61,568.01 L438.86,566.49 L439.11,564.98 L439.36,563.51 L439.62,562.02 L439.87,560.50 L440.12,558.97 L440.37,557.42 L440.62,555.87 L440.87,554.33 L441.12,552.81 L441.38,551.32 L441.63,549.87 L441.88,548.47 L442.13,547.13 L442.38,545.84 L442.63,544.58 L442.88,543.34 L443.13,542.13 L443.39,540.95 L443.64,539.79 L443.89,538.67 L444.14,537.57 L444.39,536.51 L444.64,535.48 L444.89,534.48" fill="none" stroke="#22a07a" stroke-width="1.4" stroke-linejoin="round" stroke-linecap="round"/>
<path d="M404.93,619.91 L405.28,619.84 L405.64,619.76 L405.99,619.68 L406.34,619.60 L406.70,619.52 L407.05,619.44 L407.41,619.35 L407.76,619.26 L408.11,619.16 L408.47,619.07 L408.82,618.97 L409.18,618.87 L409.53,618.77 L409.88,618.67 L410.24,618.56 L410.59,618.45 L410.95,618.34 L411.30,618.23 L411.66,618.12 L412.01,618.00 L412.36,617.89 L412.72,617.77 L413.07,617.65 L413.43,617.53 L413.78,617.40 L414.13,617.28 L414.49,617.15 L414.84,617.02 L415.20,616.89 L415.55,616.75 L415.90,616.61 L416.26,616.47 L416.61,616.33 L416.97,616.18 L417.32,616.03 L417.67,615.87 L418.03,615.71 L418.38,615.55 L418.74,615.39 L419.09,615.22 L419.45,615.05 L419.80,614.87 L420.15,614.70 L420.51,614.51 L420.86,614.33 L421.22,614.14 L421.57,613.94 L421.92,613.74 L422.28,613.54 L422.63,613.34 L422.99,613.12 L423.34,612.90 L423.69,612.68 L424.05,612.44 L424.40,612.20 L424.76,611.95 L425.11,611.69 L425.47,611.42 L425.82,611.14 L426.17,610.84 L426.53,610.54 L426.88,610.22 L427.24,609.89 L427.59,609.53 L427.94,609.16 L428.30,608.76 L428.65,608.34 L429.01,607.90 L429.36,607.44 L429.71,606.96 L430.07,606.45 L430.42,605.93 L430.78,605.38 L431.13,604.82 L431.49,604.23 L431.84,603.62 L432.19,602.99 L432.55,602.34 L432.90,601.66 L433.26,600.94 L433.61,600.17 L433.96,599.36 L434.32,598.49 L434.67,597.57 L435.03,596.60 L435.38,595.58 L435.73,594.50 L436.09,593.36 L436.44,592.16 L436.80,590.87 L437.15,589.36 L437.50,587.69 L437.86,585.88 L438.21,583.99 L438.57,582.06 L438.92,580.13 L439.28,578.25 L439.63,576.44 L439.98,574.60 L440.34,572.74 L440.69,570.87 L441.05,569.01 L441.40,567.18 L441.75,565.39 L442.11,563.68 L442.46,562.02 L442.82,560.39 L443.17,558.78 L443.52,557.22 L443.88,555.68 L444.23,554.18 L444.59,552.72 L444.94,551.29 L445.30,549.86 L445.65,548.41 L446.00,546.97 L446.36,545.57 L446.71,544.23 L447.07,543.01 L447.42,541.92 L447.77,541.00 L448.13,540.19 L448.48,539.43 L448.84,538.71 L449.19,538.06 L449.54,537.47 L449.90,536.95 L450.25,536.51 L450.61,536.16 L450.96,535.84 L451.32,535.55 L451.67,535.29 L452.02,535.05 L452.38,534.85 L452.73,534.68 L453.09,534.54 L453.44,534.44 L453.79,534.36 L454.15,534.28 L454.50,534.21 L454.86,534.15 L455.21,534.09 L455.56,534.04 L455.92,533.99 L456.27,533.95 L456.63,533.91 L456.98,533.88 L457.33,533.86 L457.69,533.83 L458.04,533.81 L458.40,533.79 L458.75,533.77 L459.11,533.75 L459.46,533.73 L459.81,533.72 L460.17,533.70 L460.52,533.70 L460.88,533.69 L461.23,533.69" fill="none" stroke="#2a7cc0" stroke-width="1.4" stroke-linejoin="round" stroke-linecap="round"/>
<path d="M405.56,620.87 L406.08,620.87 L406.59,620.87 L407.10,620.86 L407.62,620.85 L408.13,620.83 L408.64,620.82 L409.16,620.80 L409.67,620.78 L410.18,620.76 L410.70,620.73 L411.21,620.70 L411.73,620.68 L412.24,620.65 L412.75,620.62 L413.27,620.59 L413.78,620.55 L414.29,620.52 L414.81,620.48 L415.32,620.44 L415.84,620.39 L416.35,620.34 L416.86,620.28 L417.38,620.21 L417.89,620.13 L418.40,620.05 L418.92,619.97 L419.43,619.88 L419.95,619.78 L420.46,619.68 L420.97,619.57 L421.49,619.44 L422.00,619.29 L422.51,619.12 L423.03,618.94 L423.54,618.73 L424.05,618.52 L424.57,618.28 L425.08,618.03 L425.60,617.77 L426.11,617.49 L426.62,617.18 L427.14,616.82 L427.65,616.42 L428.16,615.97 L428.68,615.48 L429.19,614.97 L429.71,614.42 L430.22,613.85 L430.73,613.25 L431.25,612.59 L431.76,611.88 L432.27,611.09 L432.79,610.23 L433.30,609.29 L433.82,608.23 L434.33,607.00 L434.84,605.62 L435.36,604.10 L435.87,602.46 L436.38,600.70 L436.90,598.75 L437.41,596.48 L437.92,594.00 L438.44,591.43 L438.95,588.89 L439.47,586.36 L439.98,583.76 L440.49,581.12 L441.01,578.46 L441.52,575.79 L442.03,573.14 L442.55,570.45 L443.06,567.71 L443.58,564.99 L444.09,562.34 L444.60,559.82 L445.12,557.37 L445.63,554.95 L446.14,552.60 L446.66,550.36 L447.17,548.30 L447.69,546.44 L448.20,544.68 L448.71,542.99 L449.23,541.45 L449.74,540.15 L450.25,539.14 L450.77,538.34 L451.28,537.63 L451.79,537.01 L452.31,536.47 L452.82,536.03 L453.34,535.66 L453.85,535.33 L454.36,535.03 L454.88,534.78 L455.39,534.59 L455.90,534.47 L456.42,534.38 L456.93,534.29 L457.45,534.22 L457.96,534.15 L458.47,534.09 L458.99,534.04 L459.50,533.99 L460.01,533.95 L460.53,533.92 L461.04,533.89 L461.56,533.87 L462.07,533.86 L462.58,533.84 L463.10,533.83 L463.61,533.82 L464.12,533.81 L464.64,533.80 L465.15,533.79 L465.66,533.78 L466.18,533.77 L466.69,533.76 L467.21,533.76 L467.72,533.75 L468.23,533.74 L468.75,533.74 L469.26,533.73 L469.77,533.72 L470.29,533.72 L470.80,533.71 L471.32,533.71 L471.83,533.71 L472.34,533.70 L472.86,533.70 L473.37,533.69 L473.88,533.69 L474.40,533.68 L474.91,533.68 L475.43,533.67 L475.94,533.67 L476.45,533.66 L476.97,533.66 L477.48,533.66 L477.99,533.65 L478.51,533.65 L479.02,533.64 L479.53,533.64 L480.05,533.64 L480.56,533.63 L481.08,533.63 L481.59,533.62 L482.10,533.62 L482.62,533.62 L483.13,533.62 L483.64,533.61 L484.16,533.61 L484.67,533.61 L485.19,533.61 L485.70,533.60 L486.21,533.60 L486.73,533.60 L487.24,533.60" fill="none" stroke="#eda63a" stroke-width="1.4" stroke-linejoin="round" stroke-linecap="round"/>
<path d="M404.93,620.87 L405.44,620.87 L405.95,620.87 L406.47,620.86 L406.98,620.85 L407.50,620.83 L408.01,620.82 L408.52,620.80 L409.04,620.78 L409.55,620.76 L410.06,620.73 L410.58,620.70 L411.09,620.68 L411.61,620.65 L412.12,620.62 L412.63,620.59 L413.15,620.55 L413.66,620.52 L414.17,620.48 L414.69,620.44 L415.20,620.39 L415.71,620.34 L416.23,620.28 L416.74,620.21 L417.26,620.13 L417.77,620.05 L418.28,619.97 L418.80,619.88 L419.31,619.78 L419.82,619.68 L420.34,619.57 L420.85,619.44 L421.37,619.29 L421.88,619.12 L422.39,618.94 L422.91,618.73 L423.42,618.52 L423.93,618.28 L424.45,618.03 L424.96,617.77 L425.48,617.49 L425.99,617.18 L426.50,616.82 L427.02,616.42 L427.53,615.97 L428.04,615.48 L428.56,614.97 L429.07,614.42 L429.58,613.85 L430.10,613.25 L430.61,612.59 L431.13,611.88 L431.64,611.09 L432.15,610.23 L432.67,609.29 L433.18,608.23 L433.69,607.00 L434.21,605.62 L434.72,604.10 L435.24,602.46 L435.75,600.70 L436.26,598.75 L436.78,596.48 L437.29,594.00 L437.80,591.43 L438.32,588.89 L438.83,586.36 L439.35,583.76 L439.86,581.12 L440.37,578.46 L440.89,575.79 L441.40,573.14 L441.91,570.45 L442.43,567.71 L442.94,564.99 L443.45,562.34 L443.97,559.82 L444.48,557.37 L445.00,554.95 L445.51,552.60 L446.02,550.36 L446.54,548.30 L447.05,546.44 L447.56,544.68 L448.08,542.99 L448.59,541.45 L449.11,540.15 L449.62,539.14 L450.13,538.34 L450.65,537.63 L451.16,537.01 L451.67,536.47 L452.19,536.03 L452.70,535.66 L453.22,535.33 L453.73,535.03 L454.24,534.78 L454.76,534.59 L455.27,534.47 L455.78,534.38 L456.30,534.29 L456.81,534.22 L457.32,534.15 L457.84,534.09 L458.35,534.04 L458.87,533.99 L459.38,533.95 L459.89,533.92 L460.41,533.89 L460.92,533.87 L461.43,533.86 L461.95,533.84 L462.46,533.83 L462.98,533.82 L463.49,533.81 L464.00,533.80 L464.52,533.79 L465.03,533.78 L465.54,533.77 L466.06,533.76 L466.57,533.76 L467.09,533.75 L467.60,533.74 L468.11,533.74 L468.63,533.73 L469.14,533.72 L469.65,533.72 L470.17,533.71 L470.68,533.71 L471.19,533.71 L471.71,533.70 L472.22,533.70 L472.74,533.69 L473.25,533.69 L473.76,533.68 L474.28,533.68 L474.79,533.67 L475.30,533.67 L475.82,533.66 L476.33,533.66 L476.85,533.66 L477.36,533.65 L477.87,533.65 L478.39,533.64 L478.90,533.64 L479.41,533.64 L479.93,533.63 L480.44,533.63 L480.96,533.62 L481.47,533.62 L481.98,533.62 L482.50,533.62 L483.01,533.61 L483.52,533.61 L484.04,533.61 L484.55,533.61 L485.06,533.60 L485.58,533.60 L486.09,533.60 L486.61,533.60" fill="none" stroke="#dd6a30" stroke-width="1.4" stroke-linejoin="round" stroke-linecap="round"/>
<path d="M552.80,621.40 L553.23,621.37 L553.66,621.35 L554.08,621.32 L554.51,621.28 L554.94,621.25 L555.37,621.22 L555.79,621.18 L556.22,621.15 L556.65,621.11 L557.07,621.07 L557.50,621.03 L557.93,620.99 L558.35,620.94 L558.78,620.90 L559.21,620.85 L559.63,620.81 L560.06,620.76 L560.49,620.72 L560.92,620.67 L561.34,620.62 L561.77,620.57 L562.20,620.52 L562.62,620.47 L563.05,620.42 L563.48,620.38 L563.90,620.34 L564.33,620.29 L564.76,620.25 L565.18,620.20 L565.61,620.16 L566.04,620.11 L566.47,620.05 L566.89,619.99 L567.32,619.93 L567.75,619.86 L568.17,619.78 L568.60,619.70 L569.03,619.60 L569.45,619.50 L569.88,619.39 L570.31,619.26 L570.73,619.10 L571.16,618.82 L571.59,618.41 L572.02,617.89 L572.44,617.28 L572.87,616.59 L573.30,615.83 L573.72,615.03 L574.15,614.19 L574.58,613.19 L575.00,611.99 L575.43,610.59 L575.86,608.98 L576.28,607.16 L576.71,605.04 L577.14,602.31 L577.57,599.03 L577.99,595.32 L578.42,590.48 L578.85,584.56 L579.27,579.30 L579.70,575.59 L580.13,572.38 L580.55,569.58 L580.98,567.16 L581.41,565.08 L581.83,563.24 L582.26,561.58 L582.69,560.07 L583.12,558.65 L583.54,557.28 L583.97,555.92 L584.40,554.52 L584.82,553.12 L585.25,551.72 L585.68,550.36 L586.10,549.06 L586.53,547.83 L586.96,546.71 L587.38,545.70 L587.81,544.85 L588.24,544.15 L588.67,543.57 L589.09,543.02 L589.52,542.49 L589.95,542.00 L590.37,541.53 L590.80,541.08 L591.23,540.67 L591.65,540.27 L592.08,539.90 L592.51,539.55 L592.93,539.23 L593.36,538.93 L593.79,538.64 L594.22,538.38 L594.64,538.13 L595.07,537.91 L595.50,537.70 L595.92,537.50 L596.35,537.32 L596.78,537.14 L597.20,536.98 L597.63,536.82 L598.06,536.66 L598.48,536.52 L598.91,536.38 L599.34,536.25 L599.77,536.13 L600.19,536.01 L600.62,535.90 L601.05,535.79 L601.47,535.69 L601.90,535.59 L602.33,535.50 L602.75,535.41 L603.18,535.32 L603.61,535.24 L604.03,535.15 L604.46,535.07 L604.89,535.00 L605.32,534.92 L605.74,534.85 L606.17,534.77 L606.60,534.70 L607.02,534.64 L607.45,534.57 L607.88,534.51 L608.30,534.45 L608.73,534.39 L609.16,534.34 L609.58,534.29 L610.01,534.24 L610.44,534.19 L610.87,534.15 L611.29,534.11 L611.72,534.07 L612.15,534.04 L612.57,534.01 L613.00,533.97 L613.43,533.94 L613.85,533.91 L614.28,533.88 L614.71,533.85 L615.13,533.82 L615.56,533.80 L615.99,533.77 L616.42,533.74 L616.84,533.72 L617.27,533.70 L617.70,533.68 L618.12,533.66 L618.55,533.65 L618.98,533.63 L619.40,533.62 L619.83,533.61 L620.26,533.60 L620.68,533.60" fill="none" stroke="#dd6a30" stroke-width="1.4" stroke-linejoin="round" stroke-linecap="round"/>
<path d="M546.30,621.22 L546.68,621.21 L547.05,621.20 L547.42,621.19 L547.80,621.17 L548.17,621.16 L548.55,621.14 L548.92,621.12 L549.29,621.09 L549.67,621.07 L550.04,621.04 L550.42,621.02 L550.79,620.99 L551.16,620.96 L551.54,620.93 L551.91,620.90 L552.29,620.87 L552.66,620.84 L553.03,620.81 L553.41,620.77 L553.78,620.74 L554.16,620.70 L554.53,620.67 L554.90,620.63 L555.28,620.59 L555.65,620.55 L556.03,620.51 L556.40,620.47 L556.77,620.42 L557.15,620.37 L557.52,620.32 L557.90,620.27 L558.27,620.22 L558.64,620.16 L559.02,620.10 L559.39,620.03 L559.77,619.97 L560.14,619.90 L560.52,619.82 L560.89,619.75 L561.26,619.67 L561.64,619.58 L562.01,619.49 L562.39,619.39 L562.76,619.29 L563.13,619.17 L563.51,619.05 L563.88,618.92 L564.26,618.78 L564.63,618.63 L565.00,618.47 L565.38,618.30 L565.75,618.12 L566.13,617.93 L566.50,617.73 L566.87,617.52 L567.25,617.30 L567.62,617.07 L568.00,616.82 L568.37,616.53 L568.74,616.20 L569.12,615.84 L569.49,615.44 L569.87,615.00 L570.24,614.53 L570.61,614.01 L570.99,613.45 L571.36,612.86 L571.74,612.22 L572.11,611.55 L572.48,610.83 L572.86,610.02 L573.23,609.06 L573.61,607.96 L573.98,606.71 L574.36,605.32 L574.73,603.78 L575.10,602.11 L575.48,600.29 L575.85,598.24 L576.23,595.54 L576.60,592.35 L576.97,588.87 L577.35,585.32 L577.72,581.88 L578.10,578.28 L578.47,574.52 L578.84,570.77 L579.22,567.22 L579.59,564.01 L579.97,560.89 L580.34,557.89 L580.71,555.11 L581.09,552.64 L581.46,550.59 L581.84,548.74 L582.21,547.03 L582.58,545.48 L582.96,544.12 L583.33,542.98 L583.71,542.08 L584.08,541.28 L584.45,540.56 L584.83,539.91 L585.20,539.33 L585.58,538.83 L585.95,538.38 L586.33,538.01 L586.70,537.68 L587.07,537.38 L587.45,537.09 L587.82,536.83 L588.20,536.60 L588.57,536.38 L588.94,536.19 L589.32,536.02 L589.69,535.87 L590.07,535.75 L590.44,535.63 L590.81,535.52 L591.19,535.42 L591.56,535.32 L591.94,535.23 L592.31,535.14 L592.68,535.06 L593.06,534.98 L593.43,534.91 L593.81,534.84 L594.18,534.78 L594.55,534.71 L594.93,534.66 L595.30,534.60 L595.68,534.55 L596.05,534.50 L596.42,534.46 L596.80,534.41 L597.17,534.37 L597.55,534.32 L597.92,534.28 L598.29,534.23 L598.67,534.19 L599.04,534.15 L599.42,534.11 L599.79,534.07 L600.17,534.03 L600.54,533.99 L600.91,533.96 L601.29,533.92 L601.66,533.89 L602.04,533.86 L602.41,533.83 L602.78,533.81 L603.16,533.78 L603.53,533.76 L603.91,533.74 L604.28,533.72 L604.65,533.71 L605.03,533.70 L605.40,533.69 L605.78,533.69" fill="none" stroke="#eda63a" stroke-width="1.4" stroke-linejoin="round" stroke-linecap="round"/>
<path d="M541.54,621.14 L541.94,621.11 L542.33,621.08 L542.73,621.05 L543.12,621.01 L543.51,620.98 L543.91,620.95 L544.30,620.92 L544.70,620.88 L545.09,620.85 L545.48,620.82 L545.88,620.78 L546.27,620.75 L546.67,620.71 L547.06,620.68 L547.45,620.64 L547.85,620.60 L548.24,620.56 L548.64,620.53 L549.03,620.49 L549.42,620.45 L549.82,620.42 L550.21,620.38 L550.61,620.35 L551.00,620.31 L551.39,620.27 L551.79,620.24 L552.18,620.20 L552.58,620.16 L552.97,620.12 L553.36,620.08 L553.76,620.04 L554.15,619.99 L554.55,619.95 L554.94,619.90 L555.33,619.84 L555.73,619.79 L556.12,619.72 L556.52,619.66 L556.91,619.59 L557.30,619.51 L557.70,619.41 L558.09,619.31 L558.49,619.19 L558.88,619.07 L559.27,618.93 L559.67,618.79 L560.06,618.65 L560.46,618.49 L560.85,618.34 L561.24,618.17 L561.64,618.01 L562.03,617.84 L562.43,617.68 L562.82,617.51 L563.21,617.34 L563.61,617.17 L564.00,617.00 L564.40,616.83 L564.79,616.65 L565.18,616.47 L565.58,616.28 L565.97,616.07 L566.37,615.86 L566.76,615.62 L567.15,615.38 L567.55,615.11 L567.94,614.82 L568.34,614.52 L568.73,614.18 L569.12,613.79 L569.52,613.35 L569.91,612.85 L570.31,612.30 L570.70,611.69 L571.09,611.02 L571.49,610.31 L571.88,609.53 L572.28,608.70 L572.67,607.82 L573.06,606.86 L573.46,605.73 L573.85,604.42 L574.25,602.91 L574.64,601.20 L575.03,599.30 L575.43,597.18 L575.82,594.75 L576.22,591.45 L576.61,587.52 L577.00,583.35 L577.40,579.22 L577.79,574.68 L578.19,570.00 L578.58,565.67 L578.97,562.08 L579.37,558.84 L579.76,555.85 L580.16,553.13 L580.55,550.73 L580.94,548.66 L581.34,546.75 L581.73,545.01 L582.13,543.47 L582.52,542.19 L582.91,541.19 L583.31,540.32 L583.70,539.55 L584.10,538.86 L584.49,538.28 L584.88,537.81 L585.28,537.45 L585.67,537.14 L586.07,536.87 L586.46,536.62 L586.85,536.40 L587.25,536.21 L587.64,536.04 L588.04,535.89 L588.43,535.76 L588.82,535.64 L589.22,535.53 L589.61,535.42 L590.01,535.32 L590.40,535.22 L590.79,535.13 L591.19,535.05 L591.58,534.97 L591.98,534.89 L592.37,534.82 L592.76,534.75 L593.16,534.69 L593.55,534.63 L593.95,534.57 L594.34,534.52 L594.73,534.47 L595.13,534.42 L595.52,534.37 L595.92,534.33 L596.31,534.28 L596.70,534.23 L597.10,534.19 L597.49,534.15 L597.89,534.10 L598.28,534.06 L598.67,534.02 L599.07,533.98 L599.46,533.94 L599.86,533.91 L600.25,533.88 L600.64,533.85 L601.04,533.82 L601.43,533.79 L601.83,533.77 L602.22,533.75 L602.61,533.73 L603.01,533.71 L603.40,533.70 L603.80,533.69 L604.19,533.69" fill="none" stroke="#2a7cc0" stroke-width="1.4" stroke-linejoin="round" stroke-linecap="round"/>
<path d="M537.26,621.14 L537.66,621.11 L538.05,621.09 L538.45,621.06 L538.84,621.04 L539.24,621.01 L539.64,620.98 L540.03,620.95 L540.43,620.92 L540.82,620.88 L541.22,620.85 L541.62,620.81 L542.01,620.78 L542.41,620.74 L542.80,620.71 L543.20,620.67 L543.60,620.63 L543.99,620.59 L544.39,620.55 L544.78,620.51 L545.18,620.47 L545.58,620.42 L545.97,620.38 L546.37,620.34 L546.76,620.30 L547.16,620.25 L547.56,620.21 L547.95,620.16 L548.35,620.12 L548.74,620.07 L549.14,620.02 L549.54,619.97 L549.93,619.92 L550.33,619.86 L550.72,619.81 L551.12,619.75 L551.52,619.69 L551.91,619.63 L552.31,619.56 L552.70,619.50 L553.10,619.42 L553.50,619.35 L553.89,619.27 L554.29,619.19 L554.68,619.10 L555.08,619.01 L555.48,618.90 L555.87,618.79 L556.27,618.67 L556.66,618.54 L557.06,618.40 L557.46,618.26 L557.85,618.12 L558.25,617.96 L558.64,617.81 L559.04,617.65 L559.44,617.49 L559.83,617.32 L560.23,617.16 L560.62,616.99 L561.02,616.82 L561.42,616.65 L561.81,616.48 L562.21,616.30 L562.60,616.12 L563.00,615.93 L563.40,615.73 L563.79,615.52 L564.19,615.30 L564.58,615.06 L564.98,614.81 L565.38,614.53 L565.77,614.24 L566.17,613.92 L566.56,613.56 L566.96,613.14 L567.36,612.68 L567.75,612.16 L568.15,611.60 L568.54,611.00 L568.94,610.35 L569.34,609.65 L569.73,608.92 L570.13,608.15 L570.52,607.31 L570.92,606.38 L571.32,605.34 L571.71,604.20 L572.11,602.95 L572.50,601.59 L572.90,600.13 L573.30,598.55 L573.69,596.82 L574.09,594.75 L574.48,592.34 L574.88,589.68 L575.28,586.82 L575.67,583.83 L576.07,580.77 L576.46,577.40 L576.86,573.65 L577.26,569.77 L577.65,566.00 L578.05,562.55 L578.44,559.25 L578.84,556.05 L579.24,553.02 L579.63,550.26 L580.03,547.74 L580.42,545.27 L580.82,542.99 L581.22,541.07 L581.61,539.68 L582.01,538.66 L582.40,537.80 L582.80,537.13 L583.20,536.65 L583.59,536.30 L583.99,536.01 L584.38,535.76 L584.78,535.56 L585.18,535.40 L585.57,535.28 L585.97,535.16 L586.36,535.05 L586.76,534.94 L587.16,534.85 L587.55,534.76 L587.95,534.68 L588.34,534.60 L588.74,534.53 L589.14,534.47 L589.53,534.41 L589.93,534.35 L590.32,534.30 L590.72,534.26 L591.12,534.22 L591.51,534.18 L591.91,534.15 L592.30,534.11 L592.70,534.08 L593.10,534.04 L593.49,534.01 L593.89,533.98 L594.28,533.95 L594.68,533.92 L595.08,533.89 L595.47,533.86 L595.87,533.84 L596.26,533.81 L596.66,533.79 L597.06,533.77 L597.45,533.75 L597.85,533.73 L598.24,533.72 L598.64,533.71 L599.04,533.70 L599.43,533.69 L599.83,533.69 L600.23,533.69" fill="none" stroke="#22a07a" stroke-width="1.4" stroke-linejoin="round" stroke-linecap="round"/>
<rect x="278.60" y="228.60" width="126.90" height="99.70" fill="none" stroke="#111" stroke-width="1.2"/>
<rect x="405.50" y="228.60" width="127.20" height="99.70" fill="none" stroke="#111" stroke-width="1.2"/>
<rect x="532.70" y="228.60" width="88.70" height="99.70" fill="none" stroke="#111" stroke-width="1.2"/>
<rect x="278.60" y="328.30" width="126.90" height="99.70" fill="none" stroke="#111" stroke-width="1.2"/>
<rect x="405.50" y="328.30" width="127.20" height="99.70" fill="none" stroke="#111" stroke-width="1.2"/>
<rect x="532.70" y="328.30" width="88.70" height="99.70" fill="none" stroke="#111" stroke-width="1.2"/>
<rect x="278.60" y="428.00" width="126.90" height="99.70" fill="none" stroke="#111" stroke-width="1.2"/>
<rect x="405.50" y="428.00" width="127.20" height="99.70" fill="none" stroke="#111" stroke-width="1.2"/>
<rect x="532.70" y="428.00" width="88.70" height="99.70" fill="none" stroke="#111" stroke-width="1.2"/>
<rect x="278.60" y="527.70" width="126.90" height="99.80" fill="none" stroke="#111" stroke-width="1.2"/>
<rect x="405.50" y="527.70" width="127.20" height="99.80" fill="none" stroke="#111" stroke-width="1.2"/>
<rect x="532.70" y="527.70" width="88.70" height="99.80" fill="none" stroke="#111" stroke-width="1.2"/>
<rect x="278.8" y="219.0" width="342.60" height="9.6" fill="none" stroke="#111" stroke-width="1.2"/>
<line x1="405.50" y1="219.00" x2="405.50" y2="228.60" stroke="#111" stroke-width="1.2"/>
<line x1="532.70" y1="219.00" x2="532.70" y2="228.60" stroke="#111" stroke-width="1.2"/>
<rect x="269.5" y="228.6" width="9.3" height="398.90" fill="none" stroke="#111" stroke-width="1.2"/>
<line x1="269.50" y1="328.30" x2="278.80" y2="328.30" stroke="#111" stroke-width="1.2"/>
<line x1="269.50" y1="428.00" x2="278.80" y2="428.00" stroke="#111" stroke-width="1.2"/>
<line x1="269.50" y1="527.70" x2="278.80" y2="527.70" stroke="#111" stroke-width="1.2"/>
<text font-size="8.8" transform="translate(367.10 273.10) scale(0.9 1.0)" text-anchor="middle" fill="#2a7cc0">c</text>
<text font-size="8.8" transform="translate(367.10 281.95) scale(0.9 1.0)" text-anchor="middle" fill="#eda63a">b</text>
<text font-size="8.8" transform="translate(367.10 290.80) scale(0.9 1.0)" text-anchor="middle" fill="#22a07a">a</text>
<text font-size="8.8" transform="translate(489.30 273.10) scale(0.9 1.0)" text-anchor="middle" fill="#2a7cc0">b</text>
<text font-size="8.8" transform="translate(489.30 281.95) scale(0.9 1.0)" text-anchor="middle" fill="#eda63a">b</text>
<text font-size="8.8" transform="translate(489.30 290.80) scale(0.9 1.0)" text-anchor="middle" fill="#22a07a">a</text>
<text font-size="8.8" transform="translate(589.20 273.10) scale(0.9 1.0)" text-anchor="middle" fill="#2a7cc0">c</text>
<text font-size="8.8" transform="translate(589.20 281.95) scale(0.9 1.0)" text-anchor="middle" fill="#eda63a">b</text>
<text font-size="8.8" transform="translate(589.20 290.80) scale(0.9 1.0)" text-anchor="middle" fill="#22a07a">a</text>
<text font-size="8.8" transform="translate(367.60 368.20) scale(0.9 1.0)" text-anchor="middle" fill="#dd6a30">b</text>
<text font-size="8.8" transform="translate(367.60 377.05) scale(0.9 1.0)" text-anchor="middle" fill="#2a7cc0">c</text>
<text font-size="8.8" transform="translate(367.60 385.90) scale(0.9 1.0)" text-anchor="middle" fill="#eda63a">b</text>
<text font-size="8.8" transform="translate(367.60 394.75) scale(0.9 1.0)" text-anchor="middle" fill="#22a07a">a</text>
<text font-size="8.8" transform="translate(492.80 368.20) scale(0.9 1.0)" text-anchor="middle" fill="#dd6a30">b</text>
<text font-size="8.8" transform="translate(492.80 377.05) scale(0.9 1.0)" text-anchor="middle" fill="#2a7cc0">c</text>
<text font-size="8.8" transform="translate(492.80 385.90) scale(0.9 1.0)" text-anchor="middle" fill="#eda63a">b</text>
<text font-size="8.8" transform="translate(492.80 394.75) scale(0.9 1.0)" text-anchor="middle" fill="#22a07a">a</text>
<text font-size="8.8" transform="translate(588.80 368.10) scale(0.9 1.0)" text-anchor="middle" fill="#dd6a30">d</text>
<text font-size="8.8" transform="translate(588.80 376.95) scale(0.9 1.0)" text-anchor="middle" fill="#2a7cc0">c</text>
<text font-size="8.8" transform="translate(588.80 385.80) scale(0.9 1.0)" text-anchor="middle" fill="#eda63a">b</text>
<text font-size="8.8" transform="translate(588.80 394.65) scale(0.9 1.0)" text-anchor="middle" fill="#22a07a">a</text>
<text font-size="8.8" transform="translate(334.30 472.90) scale(0.9 1.0)" text-anchor="middle" fill="#2a7cc0">c</text>
<text font-size="8.8" transform="translate(334.30 481.75) scale(0.9 1.0)" text-anchor="middle" fill="#eda63a">b</text>
<text font-size="8.8" transform="translate(334.30 490.60) scale(0.9 1.0)" text-anchor="middle" fill="#22a07a">a</text>
<text font-size="8.8" transform="translate(463.30 472.90) scale(0.9 1.0)" text-anchor="middle" fill="#2a7cc0">c</text>
<text font-size="8.8" transform="translate(463.30 481.75) scale(0.9 1.0)" text-anchor="middle" fill="#eda63a">b</text>
<text font-size="8.8" transform="translate(463.30 490.60) scale(0.9 1.0)" text-anchor="middle" fill="#22a07a">a</text>
<text font-size="8.8" transform="translate(590.00 472.80) scale(0.9 1.0)" text-anchor="middle" fill="#2a7cc0">c</text>
<text font-size="8.8" transform="translate(590.00 481.65) scale(0.9 1.0)" text-anchor="middle" fill="#eda63a">b</text>
<text font-size="8.8" transform="translate(590.00 490.50) scale(0.9 1.0)" text-anchor="middle" fill="#22a07a">a</text>
<text font-size="8.8" transform="translate(333.10 568.20) scale(0.9 1.0)" text-anchor="middle" fill="#dd6a30">d</text>
<text font-size="8.8" transform="translate(333.10 577.05) scale(0.9 1.0)" text-anchor="middle" fill="#2a7cc0">c</text>
<text font-size="8.8" transform="translate(333.10 585.90) scale(0.9 1.0)" text-anchor="middle" fill="#eda63a">b</text>
<text font-size="8.8" transform="translate(333.10 594.75) scale(0.9 1.0)" text-anchor="middle" fill="#22a07a">a</text>
<text font-size="8.8" transform="translate(462.90 568.20) scale(0.9 1.0)" text-anchor="middle" fill="#dd6a30">d</text>
<text font-size="8.8" transform="translate(462.90 577.05) scale(0.9 1.0)" text-anchor="middle" fill="#2a7cc0">c</text>
<text font-size="8.8" transform="translate(462.90 585.90) scale(0.9 1.0)" text-anchor="middle" fill="#eda63a">b</text>
<text font-size="8.8" transform="translate(462.90 594.75) scale(0.9 1.0)" text-anchor="middle" fill="#22a07a">a</text>
<text font-size="8.8" transform="translate(589.30 568.10) scale(0.9 1.0)" text-anchor="middle" fill="#dd6a30">d</text>
<text font-size="8.8" transform="translate(589.30 576.95) scale(0.9 1.0)" text-anchor="middle" fill="#2a7cc0">c</text>
<text font-size="8.8" transform="translate(589.30 585.80) scale(0.9 1.0)" text-anchor="middle" fill="#eda63a">b</text>
<text font-size="8.8" transform="translate(589.30 594.65) scale(0.9 1.0)" text-anchor="middle" fill="#22a07a">a</text>
<defs><linearGradient id="rh1" gradientUnits="userSpaceOnUse" x1="43.5" y1="0" x2="99.5" y2="0"><stop offset="0.0000" stop-color="#ee6446" stop-opacity="0.0039"/><stop offset="0.0250" stop-color="#ee6446" stop-opacity="0.0066"/><stop offset="0.0500" stop-color="#ee6446" stop-opacity="0.0111"/><stop offset="0.0750" stop-color="#ee6446" stop-opacity="0.0181"/><stop offset="0.1000" stop-color="#ee6446" stop-opacity="0.0286"/><stop offset="0.1250" stop-color="#ee6446" stop-opacity="0.0439"/><stop offset="0.1500" stop-color="#ee6446" stop-opacity="0.0657"/><stop offset="0.1750" stop-color="#ee6446" stop-opacity="0.0956"/><stop offset="0.2000" stop-color="#ee6446" stop-opacity="0.1353"/><stop offset="0.2250" stop-color="#ee6446" stop-opacity="0.1863"/><stop offset="0.2500" stop-color="#ee6446" stop-opacity="0.2494"/><stop offset="0.2750" stop-color="#ee6446" stop-opacity="0.3247"/><stop offset="0.3000" stop-color="#ee6446" stop-opacity="0.4111"/><stop offset="0.3250" stop-color="#ee6446" stop-opacity="0.5063"/><stop offset="0.3500" stop-color="#ee6446" stop-opacity="0.6065"/><stop offset="0.3750" stop-color="#ee6446" stop-opacity="0.7066"/><stop offset="0.4000" stop-color="#ee6446" stop-opacity="0.8007"/><stop offset="0.4250" stop-color="#ee6446" stop-opacity="0.8825"/><stop offset="0.4500" stop-color="#ee6446" stop-opacity="0.9460"/><stop offset="0.4750" stop-color="#ee6446" stop-opacity="0.9862"/><stop offset="0.5000" stop-color="#ee6446" stop-opacity="1.0000"/><stop offset="0.5250" stop-color="#ee6446" stop-opacity="0.9862"/><stop offset="0.5500" stop-color="#ee6446" stop-opacity="0.9460"/><stop offset="0.5750" stop-color="#ee6446" stop-opacity="0.8825"/><stop offset="0.6000" stop-color="#ee6446" stop-opacity="0.8007"/><stop offset="0.6250" stop-color="#ee6446" stop-opacity="0.7066"/><stop offset="0.6500" stop-color="#ee6446" stop-opacity="0.6065"/><stop offset="0.6750" stop-color="#ee6446" stop-opacity="0.5063"/><stop offset="0.7000" stop-color="#ee6446" stop-opacity="0.4111"/><stop offset="0.7250" stop-color="#ee6446" stop-opacity="0.3247"/><stop offset="0.7500" stop-color="#ee6446" stop-opacity="0.2494"/><stop offset="0.7750" stop-color="#ee6446" stop-opacity="0.1863"/><stop offset="0.8000" stop-color="#ee6446" stop-opacity="0.1353"/><stop offset="0.8250" stop-color="#ee6446" stop-opacity="0.0956"/><stop offset="0.8500" stop-color="#ee6446" stop-opacity="0.0657"/><stop offset="0.8750" stop-color="#ee6446" stop-opacity="0.0439"/><stop offset="0.9000" stop-color="#ee6446" stop-opacity="0.0286"/><stop offset="0.9250" stop-color="#ee6446" stop-opacity="0.0181"/><stop offset="0.9500" stop-color="#ee6446" stop-opacity="0.0111"/><stop offset="0.9750" stop-color="#ee6446" stop-opacity="0.0066"/><stop offset="1.0000" stop-color="#ee6446" stop-opacity="0.0039"/></linearGradient><linearGradient id="rv1" gradientUnits="userSpaceOnUse" x1="0" y1="420" x2="0" y2="640"><stop offset="0.0000" stop-color="rgb(0,0,0)"/><stop offset="0.0167" stop-color="rgb(0,0,0)"/><stop offset="0.0333" stop-color="rgb(0,0,0)"/><stop offset="0.0500" stop-color="rgb(1,1,1)"/><stop offset="0.0667" stop-color="rgb(3,3,3)"/><stop offset="0.0833" stop-color="rgb(9,9,9)"/><stop offset="0.1000" stop-color="rgb(22,22,22)"/><stop offset="0.1167" stop-color="rgb(46,46,46)"/><stop offset="0.1333" stop-color="rgb(82,82,82)"/><stop offset="0.1500" stop-color="rgb(128,128,128)"/><stop offset="0.1667" stop-color="rgb(173,173,173)"/><stop offset="0.1833" stop-color="rgb(209,209,209)"/><stop offset="0.2000" stop-color="rgb(233,233,233)"/><stop offset="0.2167" stop-color="rgb(246,246,246)"/><stop offset="0.2333" stop-color="rgb(252,252,252)"/><stop offset="0.2500" stop-color="rgb(254,254,254)"/><stop offset="0.2667" stop-color="rgb(255,255,255)"/><stop offset="0.2833" stop-color="rgb(255,255,255)"/><stop offset="0.3000" stop-color="rgb(255,255,255)"/><stop offset="0.3167" stop-color="rgb(255,255,255)"/><stop offset="0.3333" stop-color="rgb(255,255,255)"/><stop offset="0.3500" stop-color="rgb(255,255,255)"/><stop offset="0.3667" stop-color="rgb(255,255,255)"/><stop offset="0.3833" stop-color="rgb(255,255,255)"/><stop offset="0.4000" stop-color="rgb(255,255,255)"/><stop offset="0.4167" stop-color="rgb(255,255,255)"/><stop offset="0.4333" stop-color="rgb(255,255,255)"/><stop offset="0.4500" stop-color="rgb(255,255,255)"/><stop offset="0.4667" stop-color="rgb(255,255,255)"/><stop offset="0.4833" stop-color="rgb(255,255,255)"/><stop offset="0.5000" stop-color="rgb(255,255,255)"/><stop offset="0.5167" stop-color="rgb(255,255,255)"/><stop offset="0.5333" stop-color="rgb(255,255,255)"/><stop offset="0.5500" stop-color="rgb(255,255,255)"/><stop offset="0.5667" stop-color="rgb(255,255,255)"/><stop offset="0.5833" stop-color="rgb(255,255,255)"/><stop offset="0.6000" stop-color="rgb(255,255,255)"/><stop offset="0.6167" stop-color="rgb(255,255,255)"/><stop offset="0.6333" stop-color="rgb(255,255,255)"/><stop offset="0.6500" stop-color="rgb(255,255,255)"/><stop offset="0.6667" stop-color="rgb(255,255,255)"/><stop offset="0.6833" stop-color="rgb(255,255,255)"/><stop offset="0.7000" stop-color="rgb(255,255,255)"/><stop offset="0.7167" stop-color="rgb(254,254,254)"/><stop offset="0.7333" stop-color="rgb(253,253,253)"/><stop offset="0.7500" stop-color="rgb(249,249,249)"/><stop offset="0.7667" stop-color="rgb(241,241,241)"/><stop offset="0.7833" stop-color="rgb(227,227,227)"/><stop offset="0.8000" stop-color="rgb(204,204,204)"/><stop offset="0.8167" stop-color="rgb(172,172,172)"/><stop offset="0.8333" stop-color="rgb(135,135,135)"/><stop offset="0.8500" stop-color="rgb(96,96,96)"/><stop offset="0.8667" stop-color="rgb(62,62,62)"/><stop offset="0.8833" stop-color="rgb(35,35,35)"/><stop offset="0.9000" stop-color="rgb(18,18,18)"/><stop offset="0.9167" stop-color="rgb(8,8,8)"/><stop offset="0.9333" stop-color="rgb(3,3,3)"/><stop offset="0.9500" stop-color="rgb(1,1,1)"/><stop offset="0.9667" stop-color="rgb(0,0,0)"/><stop offset="0.9833" stop-color="rgb(0,0,0)"/><stop offset="1.0000" stop-color="rgb(0,0,0)"/></linearGradient><mask id="rm1" maskUnits="userSpaceOnUse" x="0" y="0" width="685" height="682"><rect x="38" y="420" width="68" height="220" fill="url(#rv1)"/></mask><linearGradient id="rh2" gradientUnits="userSpaceOnUse" x1="122.4" y1="0" x2="178.4" y2="0"><stop offset="0.0000" stop-color="#ee6446" stop-opacity="0.0039"/><stop offset="0.0250" stop-color="#ee6446" stop-opacity="0.0066"/><stop offset="0.0500" stop-color="#ee6446" stop-opacity="0.0111"/><stop offset="0.0750" stop-color="#ee6446" stop-opacity="0.0181"/><stop offset="0.1000" stop-color="#ee6446" stop-opacity="0.0286"/><stop offset="0.1250" stop-color="#ee6446" stop-opacity="0.0439"/><stop offset="0.1500" stop-color="#ee6446" stop-opacity="0.0657"/><stop offset="0.1750" stop-color="#ee6446" stop-opacity="0.0956"/><stop offset="0.2000" stop-color="#ee6446" stop-opacity="0.1353"/><stop offset="0.2250" stop-color="#ee6446" stop-opacity="0.1863"/><stop offset="0.2500" stop-color="#ee6446" stop-opacity="0.2494"/><stop offset="0.2750" stop-color="#ee6446" stop-opacity="0.3247"/><stop offset="0.3000" stop-color="#ee6446" stop-opacity="0.4111"/><stop offset="0.3250" stop-color="#ee6446" stop-opacity="0.5063"/><stop offset="0.3500" stop-color="#ee6446" stop-opacity="0.6065"/><stop offset="0.3750" stop-color="#ee6446" stop-opacity="0.7066"/><stop offset="0.4000" stop-color="#ee6446" stop-opacity="0.8007"/><stop offset="0.4250" stop-color="#ee6446" stop-opacity="0.8825"/><stop offset="0.4500" stop-color="#ee6446" stop-opacity="0.9460"/><stop offset="0.4750" stop-color="#ee6446" stop-opacity="0.9862"/><stop offset="0.5000" stop-color="#ee6446" stop-opacity="1.0000"/><stop offset="0.5250" stop-color="#ee6446" stop-opacity="0.9862"/><stop offset="0.5500" stop-color="#ee6446" stop-opacity="0.9460"/><stop offset="0.5750" stop-color="#ee6446" stop-opacity="0.8825"/><stop offset="0.6000" stop-color="#ee6446" stop-opacity="0.8007"/><stop offset="0.6250" stop-color="#ee6446" stop-opacity="0.7066"/><stop offset="0.6500" stop-color="#ee6446" stop-opacity="0.6065"/><stop offset="0.6750" stop-color="#ee6446" stop-opacity="0.5063"/><stop offset="0.7000" stop-color="#ee6446" stop-opacity="0.4111"/><stop offset="0.7250" stop-color="#ee6446" stop-opacity="0.3247"/><stop offset="0.7500" stop-color="#ee6446" stop-opacity="0.2494"/><stop offset="0.7750" stop-color="#ee6446" stop-opacity="0.1863"/><stop offset="0.8000" stop-color="#ee6446" stop-opacity="0.1353"/><stop offset="0.8250" stop-color="#ee6446" stop-opacity="0.0956"/><stop offset="0.8500" stop-color="#ee6446" stop-opacity="0.0657"/><stop offset="0.8750" stop-color="#ee6446" stop-opacity="0.0439"/><stop offset="0.9000" stop-color="#ee6446" stop-opacity="0.0286"/><stop offset="0.9250" stop-color="#ee6446" stop-opacity="0.0181"/><stop offset="0.9500" stop-color="#ee6446" stop-opacity="0.0111"/><stop offset="0.9750" stop-color="#ee6446" stop-opacity="0.0066"/><stop offset="1.0000" stop-color="#ee6446" stop-opacity="0.0039"/></linearGradient><linearGradient id="rv2" gradientUnits="userSpaceOnUse" x1="0" y1="345" x2="0" y2="682"><stop offset="0.0000" stop-color="rgb(0,0,0)"/><stop offset="0.0167" stop-color="rgb(0,0,0)"/><stop offset="0.0333" stop-color="rgb(0,0,0)"/><stop offset="0.0500" stop-color="rgb(1,1,1)"/><stop offset="0.0667" stop-color="rgb(4,4,4)"/><stop offset="0.0833" stop-color="rgb(10,10,10)"/><stop offset="0.1000" stop-color="rgb(25,25,25)"/><stop offset="0.1167" stop-color="rgb(50,50,50)"/><stop offset="0.1333" stop-color="rgb(87,87,87)"/><stop offset="0.1500" stop-color="rgb(132,132,132)"/><stop offset="0.1667" stop-color="rgb(176,176,176)"/><stop offset="0.1833" stop-color="rgb(211,211,211)"/><stop offset="0.2000" stop-color="rgb(234,234,234)"/><stop offset="0.2167" stop-color="rgb(247,247,247)"/><stop offset="0.2333" stop-color="rgb(252,252,252)"/><stop offset="0.2500" stop-color="rgb(254,254,254)"/><stop offset="0.2667" stop-color="rgb(255,255,255)"/><stop offset="0.2833" stop-color="rgb(255,255,255)"/><stop offset="0.3000" stop-color="rgb(255,255,255)"/><stop offset="0.3167" stop-color="rgb(255,255,255)"/><stop offset="0.3333" stop-color="rgb(255,255,255)"/><stop offset="0.3500" stop-color="rgb(255,255,255)"/><stop offset="0.3667" stop-color="rgb(255,255,255)"/><stop offset="0.3833" stop-color="rgb(255,255,255)"/><stop offset="0.4000" stop-color="rgb(255,255,255)"/><stop offset="0.4167" stop-color="rgb(255,255,255)"/><stop offset="0.4333" stop-color="rgb(255,255,255)"/><stop offset="0.4500" stop-color="rgb(255,255,255)"/><stop offset="0.4667" stop-color="rgb(255,255,255)"/><stop offset="0.4833" stop-color="rgb(255,255,255)"/><stop offset="0.5000" stop-color="rgb(255,255,255)"/><stop offset="0.5167" stop-color="rgb(255,255,255)"/><stop offset="0.5333" stop-color="rgb(255,255,255)"/><stop offset="0.5500" stop-color="rgb(255,255,255)"/><stop offset="0.5667" stop-color="rgb(255,255,255)"/><stop offset="0.5833" stop-color="rgb(255,255,255)"/><stop offset="0.6000" stop-color="rgb(255,255,255)"/><stop offset="0.6167" stop-color="rgb(255,255,255)"/><stop offset="0.6333" stop-color="rgb(255,255,255)"/><stop offset="0.6500" stop-color="rgb(255,255,255)"/><stop offset="0.6667" stop-color="rgb(255,255,255)"/><stop offset="0.6833" stop-color="rgb(255,255,255)"/><stop offset="0.7000" stop-color="rgb(255,255,255)"/><stop offset="0.7167" stop-color="rgb(255,255,255)"/><stop offset="0.7333" stop-color="rgb(255,255,255)"/><stop offset="0.7500" stop-color="rgb(255,255,255)"/><stop offset="0.7667" stop-color="rgb(255,255,255)"/><stop offset="0.7833" stop-color="rgb(255,255,255)"/><stop offset="0.8000" stop-color="rgb(255,255,255)"/><stop offset="0.8167" stop-color="rgb(255,255,255)"/><stop offset="0.8333" stop-color="rgb(255,255,255)"/><stop offset="0.8500" stop-color="rgb(255,255,255)"/><stop offset="0.8667" stop-color="rgb(254,254,254)"/><stop offset="0.8833" stop-color="rgb(248,248,248)"/><stop offset="0.9000" stop-color="rgb(228,228,228)"/><stop offset="0.9167" stop-color="rgb(185,185,185)"/><stop offset="0.9333" stop-color="rgb(121,121,121)"/><stop offset="0.9500" stop-color="rgb(60,60,60)"/><stop offset="0.9667" stop-color="rgb(21,21,21)"/><stop offset="0.9833" stop-color="rgb(5,5,5)"/><stop offset="1.0000" stop-color="rgb(1,1,1)"/></linearGradient><mask id="rm2" maskUnits="userSpaceOnUse" x="0" y="0" width="685" height="682"><rect x="116" y="345" width="68" height="337" fill="url(#rv2)"/></mask></defs>
<rect x="43.5" y="420" width="56" height="220" fill="url(#rh1)" mask="url(#rm1)"/>
<rect x="122.4" y="345" width="56" height="337" fill="url(#rh2)" mask="url(#rm2)"/>
<text x="2.00" y="396.30" font-size="11.0" font-weight="bold">f</text>
<text x="48.80" y="396.30" font-size="9.4" fill="#2aa080">Wild type</text>
<text x="48.80" y="407.70" font-size="9.3" fill="#222" font-style="italic">hsfa2 hsfa3</text>
<line x1="33.50" y1="395.00" x2="33.50" y2="448.60" stroke="#555" stroke-width="0.8"/>
<line x1="33.50" y1="448.60" x2="213.60" y2="448.60" stroke="#555" stroke-width="0.8"/>
<path d="M37.40,444.60 L37.74,444.60 L38.09,444.60 L38.43,444.60 L38.78,444.60 L39.12,444.60 L39.47,444.60 L39.81,444.60 L40.16,444.60 L40.50,444.60 L40.85,444.60 L41.19,444.60 L41.54,444.60 L41.88,444.60 L42.23,444.60 L42.57,444.60 L42.92,444.60 L43.26,444.60 L43.61,444.60 L43.95,444.60 L44.30,444.60 L44.64,444.60 L44.99,444.60 L45.33,444.60 L45.68,444.60 L46.02,444.60 L46.37,444.60 L46.71,444.60 L47.06,444.60 L47.40,444.60 L47.75,444.60 L48.09,444.60 L48.44,444.60 L48.78,444.60 L49.13,444.60 L49.47,444.60 L49.82,444.60 L50.16,444.60 L50.51,444.60 L50.85,444.60 L51.20,444.60 L51.54,444.60 L51.89,444.60 L52.23,444.60 L52.58,444.60 L52.92,444.60 L53.26,444.60 L53.61,444.60 L53.95,444.60 L54.30,444.60 L54.64,444.60 L54.99,444.60 L55.33,444.60 L55.68,444.60 L56.02,444.60 L56.37,444.60 L56.71,444.60 L57.06,444.60 L57.40,444.60 L57.75,444.60 L58.09,444.60 L58.44,444.60 L58.78,444.60 L59.13,444.60 L59.47,444.60 L59.82,444.60 L60.16,444.60 L60.51,444.60 L60.85,444.60 L61.20,444.60 L61.54,444.60 L61.89,444.60 L62.23,444.60 L62.58,444.60 L62.92,444.60 L63.27,444.60 L63.61,444.60 L63.96,444.60 L64.30,444.60 L64.65,444.60 L64.99,444.60 L65.34,444.60 L65.68,444.60 L66.03,444.60 L66.37,444.60 L66.72,444.60 L67.06,444.60 L67.41,444.60 L67.75,444.60 L68.10,444.60 L68.44,444.60 L68.78,444.60 L69.13,444.60 L69.47,444.60 L69.82,444.60 L70.16,444.60 L70.51,444.60 L70.85,444.60 L71.20,444.60 L71.54,444.60 L71.89,444.60 L72.23,444.60 L72.58,444.60 L72.92,444.60 L73.27,444.60 L73.61,444.60 L73.96,444.60 L74.30,444.60 L74.65,444.60 L74.99,444.60 L75.34,444.60 L75.68,444.60 L76.03,444.60 L76.37,444.60 L76.72,444.60 L77.06,444.60 L77.41,444.60 L77.75,444.60 L78.10,444.60 L78.44,444.60 L78.79,444.60 L79.13,444.60 L79.48,444.60 L79.82,444.60 L80.17,444.60 L80.51,444.60 L80.86,444.60 L81.20,444.60 L81.55,444.60 L81.89,444.60 L82.24,444.60 L82.58,444.60 L82.93,444.60 L83.27,444.60 L83.62,444.60 L83.96,444.60 L84.31,444.60 L84.65,444.60 L84.99,444.60 L85.34,444.60 L85.68,444.60 L86.03,444.60 L86.37,444.60 L86.72,444.60 L87.06,444.60 L87.41,444.60 L87.75,444.60 L88.10,444.60 L88.44,444.60 L88.79,444.60 L89.13,444.60 L89.48,444.60 L89.82,444.60 L90.17,444.60 L90.51,444.60 L90.86,444.60 L91.20,444.60 L91.55,444.60 L91.89,444.60 L92.24,444.60 L92.58,444.60 L92.93,444.60 L93.27,444.60 L93.62,444.60 L93.96,444.60 L94.31,444.60 L94.65,444.60 L95.00,444.60 L95.34,444.60 L95.69,444.60 L96.03,444.60 L96.38,444.60 L96.72,444.60 L97.07,444.60 L97.41,444.60 L97.76,444.60 L98.10,444.60 L98.45,444.60 L98.79,444.60 L99.14,444.60 L99.48,444.60 L99.83,444.60 L100.17,444.60 L100.51,444.60 L100.86,444.60 L101.20,444.60 L101.55,444.60 L101.89,444.60 L102.24,444.60 L102.58,444.60 L102.93,444.60 L103.27,444.60 L103.62,444.60 L103.96,444.60 L104.31,444.60 L104.65,444.60 L105.00,444.60 L105.34,444.60 L105.69,444.60 L106.03,444.60 L106.38,444.60 L106.72,444.60 L107.07,444.60 L107.41,444.60 L107.76,444.60 L108.10,444.60 L108.45,444.60 L108.79,444.60 L109.14,444.60 L109.48,444.60 L109.83,444.60 L110.17,444.60 L110.52,444.60 L110.86,444.60 L111.21,444.60 L111.55,444.60 L111.90,444.60 L112.24,444.60 L112.59,444.60 L112.93,444.60 L113.28,444.60 L113.62,444.60 L113.97,444.60 L114.31,444.59 L114.66,444.59 L115.00,444.59 L115.35,444.59 L115.69,444.59 L116.03,444.59 L116.38,444.59 L116.72,444.59 L117.07,444.59 L117.41,444.59 L117.76,444.59 L118.10,444.59 L118.45,444.59 L118.79,444.59 L119.14,444.59 L119.48,444.59 L119.83,444.59 L120.17,444.59 L120.52,444.58 L120.86,444.58 L121.21,444.58 L121.55,444.58 L121.90,444.58 L122.24,444.58 L122.59,444.58 L122.93,444.58 L123.28,444.57 L123.62,444.57 L123.97,444.57 L124.31,444.57 L124.66,444.57 L125.00,444.56 L125.35,444.56 L125.69,444.56 L126.04,444.55 L126.38,444.55 L126.73,444.55 L127.07,444.54 L127.42,444.54 L127.76,444.53 L128.11,444.53 L128.45,444.52 L128.80,444.52 L129.14,444.51 L129.49,444.50 L129.83,444.49 L130.18,444.49 L130.52,444.48 L130.87,444.47 L131.21,444.45 L131.55,444.44 L131.90,444.43 L132.24,444.41 L132.59,444.40 L132.93,444.38 L133.28,444.36 L133.62,444.34 L133.97,444.32 L134.31,444.29 L134.66,444.26 L135.00,444.23 L135.35,444.20 L135.69,444.16 L136.04,444.12 L136.38,444.08 L136.73,444.03 L137.07,443.97 L137.42,443.91 L137.76,443.85 L138.11,443.78 L138.45,443.70 L138.80,443.61 L139.14,443.51 L139.49,443.41 L139.83,443.29 L140.18,443.16 L140.52,443.02 L140.87,442.86 L141.21,442.69 L141.56,442.50 L141.90,442.29 L142.25,442.05 L142.59,441.80 L142.94,441.52 L143.28,441.21 L143.63,440.87 L143.97,440.49 L144.32,440.08 L144.66,439.63 L145.01,439.13 L145.35,438.59 L145.70,438.00 L146.04,437.35 L146.39,436.65 L146.73,435.88 L147.07,435.05 L147.42,434.15 L147.76,433.17 L148.11,432.12 L148.45,430.99 L148.80,429.78 L149.14,428.49 L149.49,427.12 L149.83,425.67 L150.18,424.13 L150.52,422.53 L150.87,420.85 L151.21,419.10 L151.56,417.31 L151.90,415.46 L152.25,413.59 L152.59,411.70 L152.94,409.81 L153.28,407.94 L153.63,406.10 L153.97,404.33 L154.32,402.64 L154.66,401.05 L155.01,399.58 L155.35,398.26 L155.70,397.11 L156.04,396.15 L156.39,395.38 L156.73,394.83 L157.08,394.50 L157.42,394.40 L157.77,394.55 L158.11,394.98 L158.46,395.65 L158.80,396.57 L159.15,397.68 L159.49,398.98 L159.84,400.42 L160.18,401.97 L160.53,403.60 L160.87,405.28 L161.22,406.98 L161.56,408.68 L161.91,410.37 L162.25,412.02 L162.59,413.62 L162.94,415.17 L163.28,416.66 L163.63,418.08 L163.97,419.43 L164.32,420.72 L164.66,421.94 L165.01,423.10 L165.35,424.19 L165.70,425.21 L166.04,426.18 L166.39,427.09 L166.73,427.95 L167.08,428.76 L167.42,429.52 L167.77,430.24 L168.11,430.91 L168.46,431.55 L168.80,432.14 L169.15,432.71 L169.49,433.24 L169.84,433.74 L170.18,434.22 L170.53,434.67 L170.87,435.10 L171.22,435.50 L171.56,435.88 L171.91,436.24 L172.25,436.59 L172.60,436.91 L172.94,437.22 L173.29,437.52 L173.63,437.80 L173.98,438.07 L174.32,438.32 L174.67,438.57 L175.01,438.80 L175.36,439.02 L175.70,439.24 L176.05,439.44 L176.39,439.64 L176.74,439.83 L177.08,440.01 L177.43,440.18 L177.77,440.35 L178.12,440.51 L178.46,440.66 L178.80,440.81 L179.15,440.95 L179.49,441.09 L179.84,441.22 L180.18,441.35 L180.53,441.48 L180.87,441.60 L181.22,441.71 L181.56,441.82 L181.91,441.93 L182.25,442.04 L182.60,442.14 L182.94,442.23 L183.29,442.33 L183.63,442.42 L183.98,442.51 L184.32,442.59 L184.67,442.68 L185.01,442.76 L185.36,442.84 L185.70,442.91 L186.05,442.98 L186.39,443.06 L186.74,443.12 L187.08,443.19 L187.43,443.25 L187.77,443.32 L188.12,443.38 L188.46,443.43 L188.81,443.49 L189.15,443.54 L189.50,443.60 L189.84,443.65 L190.19,443.69 L190.53,443.74 L190.88,443.79 L191.22,443.83 L191.57,443.87 L191.91,443.91 L192.26,443.95 L192.60,443.99 L192.95,444.02 L193.29,444.06 L193.64,444.09 L193.98,444.12 L194.32,444.15 L194.67,444.18 L195.01,444.21 L195.36,444.23 L195.70,444.26 L196.05,444.28 L196.39,444.30 L196.74,444.32 L197.08,444.34 L197.43,444.36 L197.77,444.38 L198.12,444.39 L198.46,444.41 L198.81,444.42 L199.15,444.44 L199.50,444.45 L199.84,444.46 L200.19,444.48 L200.53,444.49 L200.88,444.50 L201.22,444.50 L201.57,444.51 L201.91,444.52 L202.26,444.53 L202.60,444.54 L202.95,444.54 L203.29,444.55 L203.64,444.55 L203.98,444.56 L204.33,444.56 L204.67,444.57 L205.02,444.57 L205.36,444.57 L205.71,444.58 L206.05,444.58 L206.40,444.58 L206.74,444.58 L207.09,444.59 L207.43,444.59 L207.78,444.59 L208.12,444.59 L208.47,444.59 L208.81,444.59 L209.16,444.59 L209.50,444.59" fill="none" stroke="#1c9d76" stroke-width="1.0" stroke-linejoin="round" stroke-linecap="round"/>
<line x1="33.50" y1="458.20" x2="33.50" y2="512.50" stroke="#555" stroke-width="0.8"/>
<line x1="33.50" y1="512.50" x2="213.60" y2="512.50" stroke="#555" stroke-width="0.8"/>
<path d="M36.50,508.00 L36.85,508.00 L37.19,508.00 L37.54,508.00 L37.88,508.00 L38.23,508.00 L38.57,508.00 L38.92,508.00 L39.27,508.00 L39.61,508.00 L39.96,508.00 L40.30,508.00 L40.65,508.00 L40.99,508.00 L41.34,507.99 L41.69,507.99 L42.03,507.99 L42.38,507.99 L42.72,507.99 L43.07,507.99 L43.41,507.99 L43.76,507.99 L44.11,507.99 L44.45,507.99 L44.80,507.99 L45.14,507.99 L45.49,507.99 L45.83,507.99 L46.18,507.99 L46.53,507.99 L46.87,507.99 L47.22,507.99 L47.56,507.98 L47.91,507.98 L48.25,507.98 L48.60,507.98 L48.94,507.98 L49.29,507.98 L49.64,507.98 L49.98,507.98 L50.33,507.97 L50.67,507.97 L51.02,507.97 L51.36,507.97 L51.71,507.97 L52.06,507.96 L52.40,507.96 L52.75,507.96 L53.09,507.95 L53.44,507.95 L53.78,507.95 L54.13,507.94 L54.48,507.94 L54.82,507.93 L55.17,507.93 L55.51,507.92 L55.86,507.92 L56.20,507.91 L56.55,507.90 L56.90,507.89 L57.24,507.88 L57.59,507.87 L57.93,507.86 L58.28,507.85 L58.62,507.84 L58.97,507.83 L59.32,507.81 L59.66,507.79 L60.01,507.78 L60.35,507.76 L60.70,507.74 L61.04,507.71 L61.39,507.69 L61.74,507.66 L62.08,507.63 L62.43,507.59 L62.77,507.55 L63.12,507.51 L63.46,507.47 L63.81,507.42 L64.16,507.36 L64.50,507.30 L64.85,507.23 L65.19,507.16 L65.54,507.08 L65.88,506.99 L66.23,506.89 L66.58,506.78 L66.92,506.66 L67.27,506.52 L67.61,506.38 L67.96,506.22 L68.30,506.04 L68.65,505.84 L68.99,505.62 L69.34,505.38 L69.69,505.12 L70.03,504.83 L70.38,504.51 L70.72,504.16 L71.07,503.77 L71.41,503.35 L71.76,502.88 L72.11,502.37 L72.45,501.82 L72.80,501.21 L73.14,500.54 L73.49,499.82 L73.83,499.03 L74.18,498.18 L74.53,497.26 L74.87,496.26 L75.22,495.19 L75.56,494.04 L75.91,492.81 L76.25,491.50 L76.60,490.12 L76.95,488.65 L77.29,487.11 L77.64,485.49 L77.98,483.81 L78.33,482.08 L78.67,480.29 L79.02,478.48 L79.37,476.63 L79.71,474.79 L80.06,472.95 L80.40,471.14 L80.75,469.39 L81.09,467.70 L81.44,466.11 L81.79,464.64 L82.13,463.30 L82.48,462.11 L82.82,461.11 L83.17,460.29 L83.51,459.68 L83.86,459.28 L84.21,459.11 L84.55,459.17 L84.90,459.50 L85.24,460.08 L85.59,460.89 L85.93,461.92 L86.28,463.14 L86.63,464.50 L86.97,465.98 L87.32,467.55 L87.66,469.18 L88.01,470.84 L88.35,472.50 L88.70,474.15 L89.05,475.77 L89.39,477.35 L89.74,478.88 L90.08,480.35 L90.43,481.76 L90.77,483.11 L91.12,484.38 L91.46,485.59 L91.81,486.74 L92.16,487.82 L92.50,488.84 L92.85,489.80 L93.19,490.71 L93.54,491.56 L93.88,492.36 L94.23,493.11 L94.58,493.82 L94.92,494.49 L95.27,495.12 L95.61,495.72 L95.96,496.28 L96.30,496.81 L96.65,497.30 L97.00,497.77 L97.34,498.22 L97.69,498.64 L98.03,499.04 L98.38,499.42 L98.72,499.77 L99.07,500.11 L99.42,500.44 L99.76,500.74 L100.11,501.04 L100.45,501.31 L100.80,501.58 L101.14,501.83 L101.49,502.07 L101.84,502.30 L102.18,502.52 L102.53,502.73 L102.87,502.93 L103.22,503.13 L103.56,503.31 L103.91,503.49 L104.26,503.66 L104.60,503.82 L104.95,503.98 L105.29,504.13 L105.64,504.28 L105.98,504.42 L106.33,504.56 L106.68,504.69 L107.02,504.81 L107.37,504.93 L107.71,505.05 L108.06,505.16 L108.40,505.27 L108.75,505.38 L109.10,505.48 L109.44,505.58 L109.79,505.68 L110.13,505.77 L110.48,505.86 L110.82,505.95 L111.17,506.03 L111.52,506.11 L111.86,506.19 L112.21,506.27 L112.55,506.34 L112.90,506.41 L113.24,506.48 L113.59,506.55 L113.93,506.61 L114.28,506.68 L114.63,506.74 L114.97,506.79 L115.32,506.85 L115.66,506.90 L116.01,506.96 L116.35,507.01 L116.70,507.06 L117.05,507.10 L117.39,507.15 L117.74,507.19 L118.08,507.23 L118.43,507.27 L118.77,507.31 L119.12,507.35 L119.47,507.39 L119.81,507.42 L120.16,507.45 L120.50,507.48 L120.85,507.51 L121.19,507.54 L121.54,507.57 L121.89,507.59 L122.23,507.62 L122.58,507.64 L122.92,507.66 L123.27,507.68 L123.61,507.70 L123.96,507.71 L124.31,507.73 L124.65,507.74 L125.00,507.76 L125.34,507.77 L125.69,507.78 L126.03,507.79 L126.38,507.80 L126.73,507.81 L127.07,507.81 L127.42,507.82 L127.76,507.82 L128.11,507.83 L128.45,507.83 L128.80,507.83 L129.15,507.83 L129.49,507.83 L129.84,507.82 L130.18,507.82 L130.53,507.81 L130.87,507.81 L131.22,507.80 L131.57,507.79 L131.91,507.78 L132.26,507.76 L132.60,507.75 L132.95,507.73 L133.29,507.71 L133.64,507.69 L133.98,507.66 L134.33,507.64 L134.68,507.61 L135.02,507.57 L135.37,507.54 L135.71,507.49 L136.06,507.45 L136.40,507.40 L136.75,507.34 L137.10,507.28 L137.44,507.21 L137.79,507.14 L138.13,507.05 L138.48,506.96 L138.82,506.86 L139.17,506.75 L139.52,506.63 L139.86,506.49 L140.21,506.34 L140.55,506.17 L140.90,505.99 L141.24,505.79 L141.59,505.57 L141.94,505.32 L142.28,505.05 L142.63,504.76 L142.97,504.43 L143.32,504.07 L143.66,503.68 L144.01,503.24 L144.36,502.77 L144.70,502.25 L145.05,501.68 L145.39,501.06 L145.74,500.38 L146.08,499.64 L146.43,498.84 L146.78,497.98 L147.12,497.04 L147.47,496.02 L147.81,494.94 L148.16,493.77 L148.50,492.52 L148.85,491.20 L149.20,489.79 L149.54,488.31 L149.89,486.76 L150.23,485.13 L150.58,483.44 L150.92,481.70 L151.27,479.91 L151.62,478.09 L151.96,476.26 L152.31,474.42 L152.65,472.59 L153.00,470.81 L153.34,469.08 L153.69,467.42 L154.04,465.87 L154.38,464.43 L154.73,463.14 L155.07,462.01 L155.42,461.05 L155.76,460.30 L156.11,459.75 L156.45,459.41 L156.80,459.30 L157.15,459.43 L157.49,459.83 L157.84,460.47 L158.18,461.35 L158.53,462.43 L158.87,463.68 L159.22,465.07 L159.57,466.58 L159.91,468.16 L160.26,469.79 L160.60,471.45 L160.95,473.10 L161.29,474.74 L161.64,476.34 L161.99,477.90 L162.33,479.41 L162.68,480.86 L163.02,482.25 L163.37,483.56 L163.71,484.82 L164.06,486.00 L164.41,487.13 L164.75,488.19 L165.10,489.19 L165.44,490.13 L165.79,491.01 L166.13,491.85 L166.48,492.64 L166.83,493.37 L167.17,494.07 L167.52,494.73 L167.86,495.34 L168.21,495.93 L168.55,496.47 L168.90,496.99 L169.25,497.48 L169.59,497.94 L169.94,498.38 L170.28,498.79 L170.63,499.18 L170.97,499.55 L171.32,499.90 L171.67,500.24 L172.01,500.55 L172.36,500.86 L172.70,501.14 L173.05,501.42 L173.39,501.68 L173.74,501.92 L174.09,502.16 L174.43,502.39 L174.78,502.60 L175.12,502.81 L175.47,503.01 L175.81,503.20 L176.16,503.38 L176.51,503.56 L176.85,503.73 L177.20,503.89 L177.54,504.04 L177.89,504.19 L178.23,504.34 L178.58,504.47 L178.92,504.61 L179.27,504.74 L179.62,504.86 L179.96,504.98 L180.31,505.10 L180.65,505.21 L181.00,505.32 L181.34,505.42 L181.69,505.52 L182.04,505.62 L182.38,505.72 L182.73,505.81 L183.07,505.90 L183.42,505.98 L183.76,506.06 L184.11,506.15 L184.46,506.22 L184.80,506.30 L185.15,506.37 L185.49,506.44 L185.84,506.51 L186.18,506.58 L186.53,506.64 L186.88,506.70 L187.22,506.76 L187.57,506.82 L187.91,506.88 L188.26,506.93 L188.60,506.98 L188.95,507.03 L189.30,507.08 L189.64,507.13 L189.99,507.17 L190.33,507.22 L190.68,507.26 L191.02,507.30 L191.37,507.34 L191.72,507.38 L192.06,507.41 L192.41,507.45 L192.75,507.48 L193.10,507.51 L193.44,507.54 L193.79,507.57 L194.14,507.60 L194.48,507.62 L194.83,507.65 L195.17,507.67 L195.52,507.69 L195.86,507.71 L196.21,507.73 L196.56,507.75 L196.90,507.77 L197.25,507.79 L197.59,507.80 L197.94,507.82 L198.28,507.83 L198.63,507.85 L198.97,507.86 L199.32,507.87 L199.67,507.88 L200.01,507.89 L200.36,507.90 L200.70,507.91 L201.05,507.92 L201.39,507.93 L201.74,507.93 L202.09,507.94 L202.43,507.94 L202.78,507.95 L203.12,507.95 L203.47,507.96 L203.81,507.96 L204.16,507.97 L204.51,507.97 L204.85,507.97 L205.20,507.98 L205.54,507.98 L205.89,507.98 L206.23,507.98 L206.58,507.99 L206.93,507.99 L207.27,507.99 L207.62,507.99 L207.96,507.99 L208.31,507.99 L208.65,507.99 L209.00,507.99" fill="none" stroke="#1c9d76" stroke-width="1.0" stroke-linejoin="round" stroke-linecap="round"/>
<path d="M36.50,508.00 L36.85,508.00 L37.19,508.00 L37.54,508.00 L37.88,508.00 L38.23,508.00 L38.57,508.00 L38.92,508.00 L39.27,508.00 L39.61,508.00 L39.96,508.00 L40.30,508.00 L40.65,508.00 L40.99,508.00 L41.34,507.99 L41.69,507.99 L42.03,507.99 L42.38,507.99 L42.72,507.99 L43.07,507.99 L43.41,507.99 L43.76,507.99 L44.11,507.99 L44.45,507.99 L44.80,507.99 L45.14,507.99 L45.49,507.99 L45.83,507.99 L46.18,507.99 L46.53,507.99 L46.87,507.99 L47.22,507.99 L47.56,507.98 L47.91,507.98 L48.25,507.98 L48.60,507.98 L48.94,507.98 L49.29,507.98 L49.64,507.98 L49.98,507.98 L50.33,507.97 L50.67,507.97 L51.02,507.97 L51.36,507.97 L51.71,507.97 L52.06,507.96 L52.40,507.96 L52.75,507.96 L53.09,507.95 L53.44,507.95 L53.78,507.95 L54.13,507.94 L54.48,507.94 L54.82,507.93 L55.17,507.93 L55.51,507.92 L55.86,507.92 L56.20,507.91 L56.55,507.90 L56.90,507.89 L57.24,507.88 L57.59,507.87 L57.93,507.86 L58.28,507.85 L58.62,507.84 L58.97,507.83 L59.32,507.81 L59.66,507.79 L60.01,507.78 L60.35,507.76 L60.70,507.74 L61.04,507.71 L61.39,507.69 L61.74,507.66 L62.08,507.63 L62.43,507.59 L62.77,507.55 L63.12,507.51 L63.46,507.47 L63.81,507.42 L64.16,507.36 L64.50,507.30 L64.85,507.23 L65.19,507.16 L65.54,507.08 L65.88,506.99 L66.23,506.89 L66.58,506.78 L66.92,506.66 L67.27,506.52 L67.61,506.38 L67.96,506.22 L68.30,506.04 L68.65,505.84 L68.99,505.62 L69.34,505.38 L69.69,505.12 L70.03,504.83 L70.38,504.51 L70.72,504.16 L71.07,503.77 L71.41,503.35 L71.76,502.88 L72.11,502.37 L72.45,501.82 L72.80,501.21 L73.14,500.54 L73.49,499.82 L73.83,499.03 L74.18,498.18 L74.53,497.26 L74.87,496.26 L75.22,495.19 L75.56,494.04 L75.91,492.81 L76.25,491.50 L76.60,490.12 L76.95,488.65 L77.29,487.11 L77.64,485.49 L77.98,483.81 L78.33,482.08 L78.67,480.29 L79.02,478.48 L79.37,476.63 L79.71,474.79 L80.06,472.95 L80.40,471.14 L80.75,469.39 L81.09,467.70 L81.44,466.11 L81.79,464.64 L82.13,463.30 L82.48,462.11 L82.82,461.11 L83.17,460.29 L83.51,459.68 L83.86,459.28 L84.21,459.11 L84.55,459.17 L84.90,459.50 L85.24,460.08 L85.59,460.89 L85.93,461.92 L86.28,463.14 L86.63,464.50 L86.97,465.98 L87.32,467.55 L87.66,469.18 L88.01,470.84 L88.35,472.50 L88.70,474.15 L89.05,475.77 L89.39,477.35 L89.74,478.88 L90.08,480.35 L90.43,481.76 L90.77,483.11 L91.12,484.38 L91.46,485.59 L91.81,486.74 L92.16,487.82 L92.50,488.84 L92.85,489.80 L93.19,490.71 L93.54,491.56 L93.88,492.36 L94.23,493.11 L94.58,493.83 L94.92,494.49 L95.27,495.12 L95.61,495.72 L95.96,496.28 L96.30,496.81 L96.65,497.30 L97.00,497.78 L97.34,498.22 L97.69,498.64 L98.03,499.04 L98.38,499.42 L98.72,499.78 L99.07,500.12 L99.42,500.44 L99.76,500.74 L100.11,501.04 L100.45,501.31 L100.80,501.58 L101.14,501.83 L101.49,502.07 L101.84,502.30 L102.18,502.52 L102.53,502.73 L102.87,502.94 L103.22,503.13 L103.56,503.31 L103.91,503.49 L104.26,503.66 L104.60,503.83 L104.95,503.98 L105.29,504.14 L105.64,504.28 L105.98,504.42 L106.33,504.56 L106.68,504.69 L107.02,504.81 L107.37,504.94 L107.71,505.05 L108.06,505.17 L108.40,505.28 L108.75,505.38 L109.10,505.48 L109.44,505.58 L109.79,505.68 L110.13,505.77 L110.48,505.86 L110.82,505.95 L111.17,506.03 L111.52,506.12 L111.86,506.19 L112.21,506.27 L112.55,506.34 L112.90,506.42 L113.24,506.49 L113.59,506.55 L113.93,506.62 L114.28,506.68 L114.63,506.74 L114.97,506.80 L115.32,506.86 L115.66,506.91 L116.01,506.96 L116.35,507.02 L116.70,507.07 L117.05,507.11 L117.39,507.16 L117.74,507.20 L118.08,507.25 L118.43,507.29 L118.77,507.33 L119.12,507.36 L119.47,507.40 L119.81,507.43 L120.16,507.47 L120.50,507.50 L120.85,507.53 L121.19,507.56 L121.54,507.59 L121.89,507.61 L122.23,507.64 L122.58,507.66 L122.92,507.69 L123.27,507.71 L123.61,507.73 L123.96,507.75 L124.31,507.76 L124.65,507.78 L125.00,507.80 L125.34,507.81 L125.69,507.83 L126.03,507.84 L126.38,507.85 L126.73,507.87 L127.07,507.88 L127.42,507.89 L127.76,507.90 L128.11,507.91 L128.45,507.92 L128.80,507.92 L129.15,507.93 L129.49,507.94 L129.84,507.94 L130.18,507.95 L130.53,507.95 L130.87,507.96 L131.22,507.96 L131.57,507.97 L131.91,507.97 L132.26,507.97 L132.60,507.98 L132.95,507.98 L133.29,507.98 L133.64,507.98 L133.98,507.99 L134.33,507.99 L134.68,507.99 L135.02,507.99 L135.37,507.99 L135.71,507.99 L136.06,507.99 L136.40,507.99 L136.75,507.99 L137.10,508.00 L137.44,508.00 L137.79,508.00 L138.13,508.00 L138.48,508.00 L138.82,508.00 L139.17,507.99 L139.52,507.99 L139.86,507.99 L140.21,507.99 L140.55,507.98 L140.90,507.97 L141.24,507.96 L141.59,507.94 L141.94,507.91 L142.28,507.88 L142.63,507.83 L142.97,507.76 L143.32,507.68 L143.66,507.57 L144.01,507.43 L144.36,507.25 L144.70,507.02 L145.05,506.75 L145.39,506.41 L145.74,506.00 L146.08,505.51 L146.43,504.93 L146.78,504.25 L147.12,503.48 L147.47,502.59 L147.81,501.59 L148.16,500.47 L148.50,499.25 L148.85,497.91 L149.20,496.47 L149.54,494.94 L149.89,493.32 L150.23,491.64 L150.58,489.92 L150.92,488.17 L151.27,486.41 L151.62,484.67 L151.96,482.96 L152.31,481.32 L152.65,479.76 L153.00,478.29 L153.34,476.94 L153.69,475.73 L154.04,474.64 L154.38,473.71 L154.73,472.92 L155.07,472.29 L155.42,471.79 L155.76,471.43 L156.11,471.19 L156.45,471.06 L156.80,471.00 L157.15,471.01 L157.49,471.13 L157.84,471.37 L158.18,471.74 L158.53,472.22 L158.87,472.80 L159.22,473.47 L159.57,474.23 L159.91,475.06 L160.26,475.95 L160.60,476.88 L160.95,477.85 L161.29,478.84 L161.64,479.84 L161.99,480.85 L162.33,481.86 L162.68,482.86 L163.02,483.84 L163.37,484.81 L163.71,485.75 L164.06,486.67 L164.41,487.56 L164.75,488.42 L165.10,489.25 L165.44,490.05 L165.79,490.82 L166.13,491.56 L166.48,492.27 L166.83,492.96 L167.17,493.61 L167.52,494.24 L167.86,494.84 L168.21,495.42 L168.55,495.97 L168.90,496.50 L169.25,497.00 L169.59,497.49 L169.94,497.96 L170.28,498.41 L170.63,498.84 L170.97,499.25 L171.32,499.64 L171.67,500.03 L172.01,500.39 L172.36,500.75 L172.70,501.08 L173.05,501.41 L173.39,501.73 L173.74,502.03 L174.09,502.32 L174.43,502.60 L174.78,502.87 L175.12,503.13 L175.47,503.38 L175.81,503.63 L176.16,503.86 L176.51,504.08 L176.85,504.30 L177.20,504.51 L177.54,504.71 L177.89,504.90 L178.23,505.09 L178.58,505.26 L178.92,505.43 L179.27,505.60 L179.62,505.75 L179.96,505.90 L180.31,506.04 L180.65,506.18 L181.00,506.31 L181.34,506.43 L181.69,506.55 L182.04,506.66 L182.38,506.76 L182.73,506.86 L183.07,506.96 L183.42,507.04 L183.76,507.13 L184.11,507.20 L184.46,507.28 L184.80,507.34 L185.15,507.41 L185.49,507.46 L185.84,507.52 L186.18,507.57 L186.53,507.61 L186.88,507.66 L187.22,507.69 L187.57,507.73 L187.91,507.76 L188.26,507.79 L188.60,507.81 L188.95,507.84 L189.30,507.86 L189.64,507.88 L189.99,507.89 L190.33,507.91 L190.68,507.92 L191.02,507.93 L191.37,507.94 L191.72,507.95 L192.06,507.96 L192.41,507.97 L192.75,507.97 L193.10,507.98 L193.44,507.98 L193.79,507.98 L194.14,507.99 L194.48,507.99 L194.83,507.99 L195.17,507.99 L195.52,507.99 L195.86,508.00 L196.21,508.00 L196.56,508.00 L196.90,508.00 L197.25,508.00 L197.59,508.00 L197.94,508.00 L198.28,508.00 L198.63,508.00 L198.97,508.00 L199.32,508.00 L199.67,508.00 L200.01,508.00 L200.36,508.00 L200.70,508.00 L201.05,508.00 L201.39,508.00 L201.74,508.00 L202.09,508.00 L202.43,508.00 L202.78,508.00 L203.12,508.00 L203.47,508.00 L203.81,508.00 L204.16,508.00 L204.51,508.00 L204.85,508.00 L205.20,508.00 L205.54,508.00 L205.89,508.00 L206.23,508.00 L206.58,508.00 L206.93,508.00 L207.27,508.00 L207.62,508.00 L207.96,508.00 L208.31,508.00 L208.65,508.00 L209.00,508.00" fill="none" stroke="#28332f" stroke-width="0.9" stroke-linejoin="round" stroke-linecap="round"/>
<text font-size="10.4" transform="translate(73.50 523.60) scale(0.88 1.0)" text-anchor="middle" fill="#1a1a1a">P</text>
<text font-size="9.9" transform="translate(75.00 533.70) scale(0.93 1.0)" text-anchor="middle" fill="#1a1a1a">Priming</text>
<text font-size="10.4" transform="translate(147.90 523.60) scale(0.88 1.0)" text-anchor="middle" fill="#1a1a1a">T</text>
<text font-size="9.9" transform="translate(148.80 534.10) scale(0.93 1.0)" text-anchor="middle" fill="#1a1a1a">Triggering</text>
<line x1="32.80" y1="542.40" x2="213.60" y2="542.40" stroke="#555" stroke-width="0.8"/>
<line x1="32.80" y1="542.40" x2="32.80" y2="596.50" stroke="#555" stroke-width="0.8"/>
<path d="M35.60,546.80 L35.95,546.80 L36.29,546.80 L36.64,546.80 L36.98,546.80 L37.33,546.80 L37.67,546.80 L38.02,546.80 L38.36,546.80 L38.71,546.80 L39.05,546.80 L39.40,546.80 L39.75,546.80 L40.09,546.80 L40.44,546.80 L40.78,546.80 L41.13,546.80 L41.47,546.80 L41.82,546.80 L42.16,546.80 L42.51,546.80 L42.86,546.80 L43.20,546.80 L43.55,546.80 L43.89,546.80 L44.24,546.80 L44.58,546.80 L44.93,546.80 L45.27,546.80 L45.62,546.80 L45.96,546.80 L46.31,546.80 L46.66,546.80 L47.00,546.80 L47.35,546.80 L47.69,546.80 L48.04,546.80 L48.38,546.80 L48.73,546.80 L49.07,546.80 L49.42,546.80 L49.77,546.80 L50.11,546.80 L50.46,546.80 L50.80,546.80 L51.15,546.80 L51.49,546.80 L51.84,546.80 L52.18,546.80 L52.53,546.80 L52.87,546.81 L53.22,546.81 L53.57,546.81 L53.91,546.81 L54.26,546.81 L54.60,546.81 L54.95,546.82 L55.29,546.82 L55.64,546.83 L55.98,546.83 L56.33,546.84 L56.67,546.84 L57.02,546.85 L57.37,546.87 L57.71,546.88 L58.06,546.89 L58.40,546.91 L58.75,546.93 L59.09,546.95 L59.44,546.98 L59.78,547.00 L60.13,547.04 L60.48,547.07 L60.82,547.11 L61.17,547.16 L61.51,547.20 L61.86,547.26 L62.20,547.32 L62.55,547.38 L62.89,547.45 L63.24,547.52 L63.58,547.60 L63.93,547.69 L64.28,547.78 L64.62,547.88 L64.97,547.99 L65.31,548.11 L65.66,548.23 L66.00,548.36 L66.35,548.49 L66.69,548.64 L67.04,548.79 L67.39,548.96 L67.73,549.13 L68.08,549.31 L68.42,549.50 L68.77,549.71 L69.11,549.92 L69.46,550.15 L69.80,550.39 L70.15,550.64 L70.49,550.91 L70.84,551.19 L71.19,551.49 L71.53,551.81 L71.88,552.15 L72.22,552.51 L72.57,552.90 L72.91,553.31 L73.26,553.75 L73.60,554.22 L73.95,554.73 L74.29,555.27 L74.64,555.86 L74.99,556.49 L75.33,557.17 L75.68,557.91 L76.02,558.72 L76.37,559.59 L76.71,560.54 L77.06,561.58 L77.40,562.71 L77.75,563.95 L78.10,565.29 L78.44,566.76 L78.79,568.36 L79.13,570.10 L79.48,571.98 L79.82,574.00 L80.17,576.16 L80.51,578.45 L80.86,580.84 L81.20,583.30 L81.55,585.77 L81.90,588.19 L82.24,590.47 L82.59,592.51 L82.93,594.22 L83.28,595.48 L83.62,596.22 L83.97,596.40 L84.31,596.12 L84.66,595.45 L85.01,594.41 L85.35,593.07 L85.70,591.47 L86.04,589.67 L86.39,587.73 L86.73,585.70 L87.08,583.64 L87.42,581.59 L87.77,579.58 L88.11,577.62 L88.46,575.75 L88.81,573.97 L89.15,572.28 L89.50,570.70 L89.84,569.21 L90.19,567.83 L90.53,566.54 L90.88,565.33 L91.22,564.22 L91.57,563.18 L91.92,562.22 L92.26,561.33 L92.61,560.50 L92.95,559.73 L93.30,559.01 L93.64,558.34 L93.99,557.72 L94.33,557.14 L94.68,556.60 L95.02,556.10 L95.37,555.63 L95.72,555.18 L96.06,554.77 L96.41,554.38 L96.75,554.01 L97.10,553.67 L97.44,553.35 L97.79,553.04 L98.13,552.75 L98.48,552.48 L98.82,552.22 L99.17,551.98 L99.52,551.74 L99.86,551.52 L100.21,551.32 L100.55,551.12 L100.90,550.93 L101.24,550.75 L101.59,550.57 L101.93,550.41 L102.28,550.25 L102.63,550.10 L102.97,549.96 L103.32,549.82 L103.66,549.68 L104.01,549.56 L104.35,549.44 L104.70,549.32 L105.04,549.21 L105.39,549.10 L105.73,548.99 L106.08,548.89 L106.43,548.80 L106.77,548.71 L107.12,548.62 L107.46,548.53 L107.81,548.45 L108.15,548.37 L108.50,548.29 L108.84,548.22 L109.19,548.15 L109.54,548.08 L109.88,548.02 L110.23,547.96 L110.57,547.90 L110.92,547.84 L111.26,547.79 L111.61,547.73 L111.95,547.68 L112.30,547.63 L112.64,547.59 L112.99,547.55 L113.34,547.50 L113.68,547.47 L114.03,547.43 L114.37,547.39 L114.72,547.36 L115.06,547.33 L115.41,547.30 L115.75,547.27 L116.10,547.24 L116.44,547.22 L116.79,547.20 L117.14,547.18 L117.48,547.16 L117.83,547.14 L118.17,547.12 L118.52,547.11 L118.86,547.09 L119.21,547.08 L119.55,547.07 L119.90,547.06 L120.25,547.05 L120.59,547.04 L120.94,547.04 L121.28,547.03 L121.63,547.03 L121.97,547.03 L122.32,547.02 L122.66,547.02 L123.01,547.02 L123.35,547.02 L123.70,547.03 L124.05,547.03 L124.39,547.03 L124.74,547.04 L125.08,547.04 L125.43,547.05 L125.77,547.05 L126.12,547.06 L126.46,547.07 L126.81,547.08 L127.16,547.09 L127.50,547.10 L127.85,547.11 L128.19,547.13 L128.54,547.14 L128.88,547.15 L129.23,547.17 L129.57,547.19 L129.92,547.20 L130.26,547.22 L130.61,547.24 L130.96,547.27 L131.30,547.29 L131.65,547.31 L131.99,547.34 L132.34,547.37 L132.68,547.40 L133.03,547.43 L133.37,547.46 L133.72,547.50 L134.06,547.54 L134.41,547.58 L134.76,547.62 L135.10,547.67 L135.45,547.72 L135.79,547.77 L136.14,547.83 L136.48,547.89 L136.83,547.96 L137.17,548.03 L137.52,548.10 L137.87,548.18 L138.21,548.27 L138.56,548.37 L138.90,548.47 L139.25,548.58 L139.59,548.70 L139.94,548.83 L140.28,548.97 L140.63,549.12 L140.97,549.28 L141.32,549.46 L141.67,549.65 L142.01,549.86 L142.36,550.09 L142.70,550.34 L143.05,550.61 L143.39,550.90 L143.74,551.22 L144.08,551.56 L144.43,551.94 L144.78,552.36 L145.12,552.81 L145.47,553.30 L145.81,553.84 L146.16,554.42 L146.50,555.06 L146.85,555.76 L147.19,556.52 L147.54,557.35 L147.88,558.26 L148.23,559.24 L148.58,560.30 L148.92,561.46 L149.27,562.71 L149.61,564.05 L149.96,565.50 L150.30,567.05 L150.65,568.70 L150.99,570.45 L151.34,572.29 L151.68,574.21 L152.03,576.21 L152.38,578.27 L152.72,580.36 L153.07,582.47 L153.41,584.55 L153.76,586.57 L154.10,588.51 L154.45,590.31 L154.79,591.93 L155.14,593.34 L155.49,594.51 L155.83,595.38 L156.18,595.95 L156.52,596.19 L156.87,596.10 L157.21,595.67 L157.56,594.93 L157.90,593.90 L158.25,592.62 L158.59,591.13 L158.94,589.48 L159.29,587.72 L159.63,585.88 L159.98,584.01 L160.32,582.13 L160.67,580.27 L161.01,578.46 L161.36,576.71 L161.70,575.03 L162.05,573.43 L162.40,571.91 L162.74,570.47 L163.09,569.12 L163.43,567.85 L163.78,566.66 L164.12,565.54 L164.47,564.50 L164.81,563.52 L165.16,562.61 L165.50,561.75 L165.85,560.96 L166.20,560.21 L166.54,559.51 L166.89,558.86 L167.23,558.25 L167.58,557.67 L167.92,557.14 L168.27,556.63 L168.61,556.16 L168.96,555.71 L169.31,555.29 L169.65,554.89 L170.00,554.51 L170.34,554.16 L170.69,553.82 L171.03,553.50 L171.38,553.20 L171.72,552.92 L172.07,552.65 L172.41,552.39 L172.76,552.14 L173.11,551.91 L173.45,551.68 L173.80,551.47 L174.14,551.27 L174.49,551.07 L174.83,550.89 L175.18,550.71 L175.52,550.54 L175.87,550.37 L176.21,550.21 L176.56,550.06 L176.91,549.92 L177.25,549.78 L177.60,549.64 L177.94,549.51 L178.29,549.39 L178.63,549.27 L178.98,549.16 L179.32,549.04 L179.67,548.94 L180.02,548.83 L180.36,548.74 L180.71,548.64 L181.05,548.55 L181.40,548.46 L181.74,548.37 L182.09,548.29 L182.43,548.21 L182.78,548.14 L183.12,548.06 L183.47,547.99 L183.82,547.93 L184.16,547.86 L184.51,547.80 L184.85,547.74 L185.20,547.68 L185.54,547.63 L185.89,547.58 L186.23,547.53 L186.58,547.48 L186.93,547.43 L187.27,547.39 L187.62,547.35 L187.96,547.31 L188.31,547.27 L188.65,547.24 L189.00,547.21 L189.34,547.18 L189.69,547.15 L190.03,547.12 L190.38,547.09 L190.73,547.07 L191.07,547.05 L191.42,547.02 L191.76,547.00 L192.11,546.99 L192.45,546.97 L192.80,546.95 L193.14,546.94 L193.49,546.93 L193.83,546.91 L194.18,546.90 L194.53,546.89 L194.87,546.88 L195.22,546.87 L195.56,546.86 L195.91,546.86 L196.25,546.85 L196.60,546.84 L196.94,546.84 L197.29,546.83 L197.64,546.83 L197.98,546.83 L198.33,546.82 L198.67,546.82 L199.02,546.82 L199.36,546.81 L199.71,546.81 L200.05,546.81 L200.40,546.81 L200.74,546.81 L201.09,546.81 L201.44,546.81 L201.78,546.80 L202.13,546.80 L202.47,546.80 L202.82,546.80 L203.16,546.80 L203.51,546.80 L203.85,546.80 L204.20,546.80 L204.55,546.80 L204.89,546.80 L205.24,546.80 L205.58,546.80 L205.93,546.80 L206.27,546.80 L206.62,546.80 L206.96,546.80 L207.31,546.80 L207.65,546.80 L208.00,546.80" fill="none" stroke="#1c9d76" stroke-width="1.0" stroke-linejoin="round" stroke-linecap="round"/>
<path d="M35.60,546.80 L35.95,546.80 L36.29,546.80 L36.64,546.80 L36.98,546.80 L37.33,546.80 L37.67,546.80 L38.02,546.80 L38.36,546.80 L38.71,546.80 L39.05,546.80 L39.40,546.80 L39.75,546.80 L40.09,546.80 L40.44,546.80 L40.78,546.80 L41.13,546.80 L41.47,546.80 L41.82,546.80 L42.16,546.80 L42.51,546.80 L42.86,546.80 L43.20,546.80 L43.55,546.80 L43.89,546.80 L44.24,546.80 L44.58,546.80 L44.93,546.80 L45.27,546.80 L45.62,546.80 L45.96,546.80 L46.31,546.80 L46.66,546.80 L47.00,546.80 L47.35,546.80 L47.69,546.80 L48.04,546.80 L48.38,546.80 L48.73,546.80 L49.07,546.80 L49.42,546.80 L49.77,546.80 L50.11,546.80 L50.46,546.80 L50.80,546.80 L51.15,546.80 L51.49,546.80 L51.84,546.80 L52.18,546.80 L52.53,546.80 L52.87,546.80 L53.22,546.80 L53.57,546.81 L53.91,546.81 L54.26,546.81 L54.60,546.81 L54.95,546.81 L55.29,546.82 L55.64,546.82 L55.98,546.83 L56.33,546.83 L56.67,546.84 L57.02,546.85 L57.37,546.86 L57.71,546.88 L58.06,546.89 L58.40,546.91 L58.75,546.93 L59.09,546.95 L59.44,546.97 L59.78,547.00 L60.13,547.03 L60.48,547.07 L60.82,547.11 L61.17,547.15 L61.51,547.20 L61.86,547.25 L62.20,547.31 L62.55,547.38 L62.89,547.44 L63.24,547.52 L63.58,547.60 L63.93,547.69 L64.28,547.78 L64.62,547.88 L64.97,547.99 L65.31,548.10 L65.66,548.22 L66.00,548.35 L66.35,548.49 L66.69,548.64 L67.04,548.79 L67.39,548.95 L67.73,549.13 L68.08,549.31 L68.42,549.50 L68.77,549.70 L69.11,549.92 L69.46,550.14 L69.80,550.38 L70.15,550.64 L70.49,550.91 L70.84,551.19 L71.19,551.49 L71.53,551.81 L71.88,552.15 L72.22,552.51 L72.57,552.89 L72.91,553.31 L73.26,553.74 L73.60,554.22 L73.95,554.72 L74.29,555.27 L74.64,555.85 L74.99,556.48 L75.33,557.17 L75.68,557.91 L76.02,558.71 L76.37,559.59 L76.71,560.54 L77.06,561.58 L77.40,562.71 L77.75,563.94 L78.10,565.29 L78.44,566.76 L78.79,568.35 L79.13,570.09 L79.48,571.97 L79.82,573.99 L80.17,576.15 L80.51,578.44 L80.86,580.83 L81.20,583.29 L81.55,585.77 L81.90,588.19 L82.24,590.47 L82.59,592.51 L82.93,594.21 L83.28,595.47 L83.62,596.21 L83.97,596.39 L84.31,596.11 L84.66,595.44 L85.01,594.41 L85.35,593.06 L85.70,591.46 L86.04,589.66 L86.39,587.72 L86.73,585.69 L87.08,583.64 L87.42,581.58 L87.77,579.57 L88.11,577.61 L88.46,575.74 L88.81,573.96 L89.15,572.27 L89.50,570.69 L89.84,569.20 L90.19,567.81 L90.53,566.52 L90.88,565.32 L91.22,564.21 L91.57,563.17 L91.92,562.21 L92.26,561.31 L92.61,560.48 L92.95,559.71 L93.30,559.00 L93.64,558.33 L93.99,557.71 L94.33,557.13 L94.68,556.59 L95.02,556.08 L95.37,555.61 L95.72,555.17 L96.06,554.75 L96.41,554.36 L96.75,554.00 L97.10,553.65 L97.44,553.33 L97.79,553.02 L98.13,552.73 L98.48,552.46 L98.82,552.20 L99.17,551.96 L99.52,551.72 L99.86,551.50 L100.21,551.29 L100.55,551.09 L100.90,550.90 L101.24,550.72 L101.59,550.55 L101.93,550.38 L102.28,550.23 L102.63,550.07 L102.97,549.93 L103.32,549.79 L103.66,549.66 L104.01,549.53 L104.35,549.41 L104.70,549.29 L105.04,549.18 L105.39,549.07 L105.73,548.96 L106.08,548.86 L106.43,548.77 L106.77,548.67 L107.12,548.58 L107.46,548.50 L107.81,548.41 L108.15,548.33 L108.50,548.26 L108.84,548.18 L109.19,548.11 L109.54,548.04 L109.88,547.98 L110.23,547.91 L110.57,547.85 L110.92,547.79 L111.26,547.74 L111.61,547.69 L111.95,547.63 L112.30,547.59 L112.64,547.54 L112.99,547.49 L113.34,547.45 L113.68,547.41 L114.03,547.37 L114.37,547.33 L114.72,547.30 L115.06,547.27 L115.41,547.24 L115.75,547.21 L116.10,547.18 L116.44,547.15 L116.79,547.13 L117.14,547.10 L117.48,547.08 L117.83,547.06 L118.17,547.04 L118.52,547.03 L118.86,547.01 L119.21,547.00 L119.55,546.98 L119.90,546.97 L120.25,546.96 L120.59,546.95 L120.94,546.94 L121.28,546.94 L121.63,546.93 L121.97,546.92 L122.32,546.92 L122.66,546.92 L123.01,546.91 L123.35,546.91 L123.70,546.91 L124.05,546.91 L124.39,546.91 L124.74,546.91 L125.08,546.92 L125.43,546.92 L125.77,546.93 L126.12,546.93 L126.46,546.94 L126.81,546.94 L127.16,546.95 L127.50,546.96 L127.85,546.97 L128.19,546.98 L128.54,546.99 L128.88,547.01 L129.23,547.02 L129.57,547.04 L129.92,547.05 L130.26,547.07 L130.61,547.09 L130.96,547.11 L131.30,547.14 L131.65,547.16 L131.99,547.19 L132.34,547.22 L132.68,547.26 L133.03,547.29 L133.37,547.33 L133.72,547.38 L134.06,547.42 L134.41,547.47 L134.76,547.53 L135.10,547.59 L135.45,547.65 L135.79,547.72 L136.14,547.80 L136.48,547.88 L136.83,547.97 L137.17,548.07 L137.52,548.18 L137.87,548.29 L138.21,548.42 L138.56,548.55 L138.90,548.70 L139.25,548.86 L139.59,549.04 L139.94,549.23 L140.28,549.43 L140.63,549.66 L140.97,549.90 L141.32,550.16 L141.67,550.44 L142.01,550.75 L142.36,551.08 L142.70,551.43 L143.05,551.82 L143.39,552.23 L143.74,552.68 L144.08,553.16 L144.43,553.67 L144.78,554.22 L145.12,554.81 L145.47,555.44 L145.81,556.11 L146.16,556.82 L146.50,557.57 L146.85,558.37 L147.19,559.21 L147.54,560.10 L147.88,561.03 L148.23,562.00 L148.58,563.01 L148.92,564.06 L149.27,565.15 L149.61,566.27 L149.96,567.42 L150.30,568.60 L150.65,569.78 L150.99,570.98 L151.34,572.19 L151.68,573.38 L152.03,574.57 L152.38,575.73 L152.72,576.86 L153.07,577.94 L153.41,578.98 L153.76,579.95 L154.10,580.84 L154.45,581.66 L154.79,582.38 L155.14,583.00 L155.49,583.51 L155.83,583.92 L156.18,584.20 L156.52,584.36 L156.87,584.40 L157.21,584.32 L157.56,584.12 L157.90,583.82 L158.25,583.41 L158.59,582.90 L158.94,582.30 L159.29,581.62 L159.63,580.87 L159.98,580.06 L160.32,579.20 L160.67,578.29 L161.01,577.36 L161.36,576.41 L161.70,575.45 L162.05,574.48 L162.40,573.51 L162.74,572.55 L163.09,571.60 L163.43,570.66 L163.78,569.75 L164.12,568.85 L164.47,567.98 L164.81,567.14 L165.16,566.32 L165.50,565.53 L165.85,564.76 L166.20,564.02 L166.54,563.31 L166.89,562.63 L167.23,561.97 L167.58,561.33 L167.92,560.72 L168.27,560.13 L168.61,559.56 L168.96,559.02 L169.31,558.50 L169.65,557.99 L170.00,557.51 L170.34,557.04 L170.69,556.59 L171.03,556.16 L171.38,555.75 L171.72,555.34 L172.07,554.96 L172.41,554.58 L172.76,554.22 L173.11,553.88 L173.45,553.54 L173.80,553.22 L174.14,552.91 L174.49,552.61 L174.83,552.32 L175.18,552.04 L175.52,551.77 L175.87,551.51 L176.21,551.25 L176.56,551.01 L176.91,550.78 L177.25,550.55 L177.60,550.34 L177.94,550.13 L178.29,549.93 L178.63,549.74 L178.98,549.55 L179.32,549.38 L179.67,549.21 L180.02,549.05 L180.36,548.89 L180.71,548.74 L181.05,548.60 L181.40,548.47 L181.74,548.35 L182.09,548.23 L182.43,548.11 L182.78,548.01 L183.12,547.91 L183.47,547.81 L183.82,547.72 L184.16,547.64 L184.51,547.56 L184.85,547.49 L185.20,547.42 L185.54,547.36 L185.89,547.30 L186.23,547.25 L186.58,547.20 L186.93,547.16 L187.27,547.12 L187.62,547.08 L187.96,547.05 L188.31,547.02 L188.65,546.99 L189.00,546.97 L189.34,546.95 L189.69,546.93 L190.03,546.91 L190.38,546.89 L190.73,546.88 L191.07,546.87 L191.42,546.86 L191.76,546.85 L192.11,546.84 L192.45,546.83 L192.80,546.83 L193.14,546.82 L193.49,546.82 L193.83,546.82 L194.18,546.81 L194.53,546.81 L194.87,546.81 L195.22,546.81 L195.56,546.81 L195.91,546.80 L196.25,546.80 L196.60,546.80 L196.94,546.80 L197.29,546.80 L197.64,546.80 L197.98,546.80 L198.33,546.80 L198.67,546.80 L199.02,546.80 L199.36,546.80 L199.71,546.80 L200.05,546.80 L200.40,546.80 L200.74,546.80 L201.09,546.80 L201.44,546.80 L201.78,546.80 L202.13,546.80 L202.47,546.80 L202.82,546.80 L203.16,546.80 L203.51,546.80 L203.85,546.80 L204.20,546.80 L204.55,546.80 L204.89,546.80 L205.24,546.80 L205.58,546.80 L205.93,546.80 L206.27,546.80 L206.62,546.80 L206.96,546.80 L207.31,546.80 L207.65,546.80 L208.00,546.80" fill="none" stroke="#28332f" stroke-width="0.9" stroke-linejoin="round" stroke-linecap="round"/>
<text font-size="9.9" transform="translate(208.90 603.20) scale(0.93 1.0)" text-anchor="middle" fill="#1a1a1a">time</text>
<line x1="32.80" y1="606.20" x2="214.00" y2="606.20" stroke="#555" stroke-width="0.8"/>
<line x1="32.80" y1="606.20" x2="32.80" y2="660.50" stroke="#555" stroke-width="0.8"/>
<path d="M36.10,610.40 L36.44,610.40 L36.79,610.40 L37.13,610.40 L37.48,610.40 L37.82,610.40 L38.17,610.40 L38.51,610.40 L38.86,610.40 L39.20,610.40 L39.54,610.40 L39.89,610.40 L40.23,610.40 L40.58,610.40 L40.92,610.40 L41.27,610.40 L41.61,610.40 L41.96,610.40 L42.30,610.40 L42.65,610.40 L42.99,610.40 L43.33,610.40 L43.68,610.40 L44.02,610.40 L44.37,610.40 L44.71,610.40 L45.06,610.40 L45.40,610.40 L45.75,610.40 L46.09,610.40 L46.43,610.40 L46.78,610.40 L47.12,610.40 L47.47,610.40 L47.81,610.40 L48.16,610.40 L48.50,610.40 L48.85,610.40 L49.19,610.40 L49.54,610.40 L49.88,610.40 L50.22,610.40 L50.57,610.40 L50.91,610.40 L51.26,610.40 L51.60,610.40 L51.95,610.40 L52.29,610.40 L52.64,610.40 L52.98,610.40 L53.32,610.40 L53.67,610.40 L54.01,610.40 L54.36,610.40 L54.70,610.40 L55.05,610.40 L55.39,610.40 L55.74,610.40 L56.08,610.40 L56.42,610.40 L56.77,610.40 L57.11,610.40 L57.46,610.40 L57.80,610.40 L58.15,610.40 L58.49,610.40 L58.84,610.40 L59.18,610.40 L59.53,610.40 L59.87,610.40 L60.21,610.40 L60.56,610.40 L60.90,610.40 L61.25,610.40 L61.59,610.40 L61.94,610.40 L62.28,610.40 L62.63,610.40 L62.97,610.40 L63.31,610.40 L63.66,610.40 L64.00,610.40 L64.35,610.40 L64.69,610.40 L65.04,610.40 L65.38,610.40 L65.73,610.40 L66.07,610.40 L66.42,610.40 L66.76,610.40 L67.10,610.40 L67.45,610.40 L67.79,610.40 L68.14,610.40 L68.48,610.40 L68.83,610.40 L69.17,610.40 L69.52,610.40 L69.86,610.40 L70.20,610.40 L70.55,610.40 L70.89,610.40 L71.24,610.40 L71.58,610.40 L71.93,610.40 L72.27,610.40 L72.62,610.40 L72.96,610.40 L73.30,610.41 L73.65,610.41 L73.99,610.41 L74.34,610.41 L74.68,610.41 L75.03,610.41 L75.37,610.41 L75.72,610.41 L76.06,610.41 L76.41,610.41 L76.75,610.41 L77.09,610.41 L77.44,610.41 L77.78,610.41 L78.13,610.41 L78.47,610.41 L78.82,610.41 L79.16,610.41 L79.51,610.41 L79.85,610.41 L80.19,610.41 L80.54,610.41 L80.88,610.41 L81.23,610.41 L81.57,610.41 L81.92,610.41 L82.26,610.41 L82.61,610.41 L82.95,610.41 L83.29,610.41 L83.64,610.41 L83.98,610.41 L84.33,610.41 L84.67,610.41 L85.02,610.41 L85.36,610.41 L85.71,610.41 L86.05,610.41 L86.40,610.41 L86.74,610.41 L87.08,610.41 L87.43,610.41 L87.77,610.41 L88.12,610.41 L88.46,610.41 L88.81,610.41 L89.15,610.41 L89.50,610.41 L89.84,610.41 L90.18,610.41 L90.53,610.41 L90.87,610.41 L91.22,610.41 L91.56,610.41 L91.91,610.41 L92.25,610.41 L92.60,610.41 L92.94,610.41 L93.29,610.41 L93.63,610.42 L93.97,610.42 L94.32,610.42 L94.66,610.42 L95.01,610.42 L95.35,610.42 L95.70,610.42 L96.04,610.42 L96.39,610.42 L96.73,610.42 L97.07,610.42 L97.42,610.42 L97.76,610.42 L98.11,610.42 L98.45,610.42 L98.80,610.42 L99.14,610.42 L99.49,610.42 L99.83,610.42 L100.17,610.42 L100.52,610.42 L100.86,610.42 L101.21,610.42 L101.55,610.43 L101.90,610.43 L102.24,610.43 L102.59,610.43 L102.93,610.43 L103.28,610.43 L103.62,610.43 L103.96,610.43 L104.31,610.43 L104.65,610.43 L105.00,610.43 L105.34,610.43 L105.69,610.43 L106.03,610.44 L106.38,610.44 L106.72,610.44 L107.06,610.44 L107.41,610.44 L107.75,610.44 L108.10,610.44 L108.44,610.44 L108.79,610.44 L109.13,610.45 L109.48,610.45 L109.82,610.45 L110.17,610.45 L110.51,610.45 L110.85,610.45 L111.20,610.45 L111.54,610.46 L111.89,610.46 L112.23,610.46 L112.58,610.46 L112.92,610.46 L113.27,610.46 L113.61,610.47 L113.95,610.47 L114.30,610.47 L114.64,610.47 L114.99,610.48 L115.33,610.48 L115.68,610.48 L116.02,610.48 L116.37,610.49 L116.71,610.49 L117.05,610.49 L117.40,610.49 L117.74,610.50 L118.09,610.50 L118.43,610.50 L118.78,610.51 L119.12,610.51 L119.47,610.52 L119.81,610.52 L120.16,610.52 L120.50,610.53 L120.84,610.53 L121.19,610.54 L121.53,610.54 L121.88,610.55 L122.22,610.55 L122.57,610.56 L122.91,610.57 L123.26,610.57 L123.60,610.58 L123.94,610.59 L124.29,610.60 L124.63,610.60 L124.98,610.61 L125.32,610.62 L125.67,610.63 L126.01,610.64 L126.36,610.65 L126.70,610.66 L127.05,610.67 L127.39,610.68 L127.73,610.70 L128.08,610.71 L128.42,610.72 L128.77,610.74 L129.11,610.75 L129.46,610.77 L129.80,610.79 L130.15,610.81 L130.49,610.83 L130.83,610.85 L131.18,610.87 L131.52,610.89 L131.87,610.92 L132.21,610.95 L132.56,610.97 L132.90,611.00 L133.25,611.04 L133.59,611.07 L133.93,611.11 L134.28,611.14 L134.62,611.19 L134.97,611.23 L135.31,611.28 L135.66,611.33 L136.00,611.38 L136.35,611.44 L136.69,611.50 L137.04,611.57 L137.38,611.64 L137.72,611.72 L138.07,611.80 L138.41,611.89 L138.76,611.98 L139.10,612.09 L139.45,612.20 L139.79,612.32 L140.14,612.45 L140.48,612.59 L140.82,612.74 L141.17,612.91 L141.51,613.08 L141.86,613.28 L142.20,613.49 L142.55,613.72 L142.89,613.96 L143.24,614.23 L143.58,614.53 L143.93,614.85 L144.27,615.20 L144.61,615.58 L144.96,615.99 L145.30,616.44 L145.65,616.94 L145.99,617.48 L146.34,618.06 L146.68,618.71 L147.03,619.40 L147.37,620.17 L147.71,621.00 L148.06,621.90 L148.40,622.89 L148.75,623.95 L149.09,625.11 L149.44,626.36 L149.78,627.70 L150.13,629.15 L150.47,630.70 L150.81,632.35 L151.16,634.10 L151.50,635.95 L151.85,637.88 L152.19,639.89 L152.54,641.96 L152.88,644.06 L153.23,646.18 L153.57,648.28 L153.92,650.33 L154.26,652.29 L154.60,654.12 L154.95,655.78 L155.29,657.24 L155.64,658.44 L155.98,659.37 L156.33,659.98 L156.67,660.28 L157.02,660.23 L157.36,659.85 L157.70,659.15 L158.05,658.16 L158.39,656.91 L158.74,655.44 L159.08,653.80 L159.43,652.04 L159.77,650.20 L160.12,648.32 L160.46,646.42 L160.81,644.55 L161.15,642.72 L161.49,640.94 L161.84,639.23 L162.18,637.60 L162.53,636.06 L162.87,634.59 L163.22,633.21 L163.56,631.92 L163.91,630.70 L164.25,629.56 L164.59,628.49 L164.94,627.50 L165.28,626.56 L165.63,625.69 L165.97,624.88 L166.32,624.11 L166.66,623.40 L167.01,622.73 L167.35,622.11 L167.69,621.52 L168.04,620.97 L168.38,620.45 L168.73,619.97 L169.07,619.51 L169.42,619.08 L169.76,618.67 L170.11,618.29 L170.45,617.92 L170.80,617.58 L171.14,617.26 L171.48,616.95 L171.83,616.66 L172.17,616.38 L172.52,616.12 L172.86,615.86 L173.21,615.63 L173.55,615.40 L173.90,615.18 L174.24,614.97 L174.58,614.77 L174.93,614.58 L175.27,614.40 L175.62,614.23 L175.96,614.06 L176.31,613.90 L176.65,613.74 L177.00,613.60 L177.34,613.45 L177.68,613.32 L178.03,613.18 L178.37,613.06 L178.72,612.94 L179.06,612.82 L179.41,612.70 L179.75,612.60 L180.10,612.49 L180.44,612.39 L180.79,612.29 L181.13,612.20 L181.47,612.11 L181.82,612.02 L182.16,611.94 L182.51,611.86 L182.85,611.78 L183.20,611.70 L183.54,611.63 L183.89,611.56 L184.23,611.50 L184.57,611.43 L184.92,611.37 L185.26,611.31 L185.61,611.26 L185.95,611.20 L186.30,611.15 L186.64,611.11 L186.99,611.06 L187.33,611.01 L187.68,610.97 L188.02,610.93 L188.36,610.89 L188.71,610.86 L189.05,610.82 L189.40,610.79 L189.74,610.76 L190.09,610.73 L190.43,610.71 L190.78,610.68 L191.12,610.66 L191.46,610.64 L191.81,610.62 L192.15,610.60 L192.50,610.58 L192.84,610.56 L193.19,610.55 L193.53,610.53 L193.88,610.52 L194.22,610.51 L194.56,610.50 L194.91,610.49 L195.25,610.48 L195.60,610.47 L195.94,610.46 L196.29,610.45 L196.63,610.45 L196.98,610.44 L197.32,610.44 L197.67,610.43 L198.01,610.43 L198.35,610.42 L198.70,610.42 L199.04,610.42 L199.39,610.42 L199.73,610.41 L200.08,610.41 L200.42,610.41 L200.77,610.41 L201.11,610.41 L201.45,610.41 L201.80,610.41 L202.14,610.40 L202.49,610.40 L202.83,610.40 L203.18,610.40 L203.52,610.40 L203.87,610.40 L204.21,610.40 L204.56,610.40 L204.90,610.40 L205.24,610.40 L205.59,610.40 L205.93,610.40 L206.28,610.40 L206.62,610.40 L206.97,610.40 L207.31,610.40 L207.66,610.40 L208.00,610.40" fill="none" stroke="#1c9d76" stroke-width="1.0" stroke-linejoin="round" stroke-linecap="round"/>
<text font-size="8.6" transform="translate(27.90 455.00) rotate(-90)" text-anchor="middle" fill="#1a1a1a">Expression Up genes</text>
<text font-size="8.6" transform="translate(28.70 599.00) rotate(-90)" text-anchor="middle" fill="#1a1a1a">Expression Down genes</text>
</svg></body></html>
